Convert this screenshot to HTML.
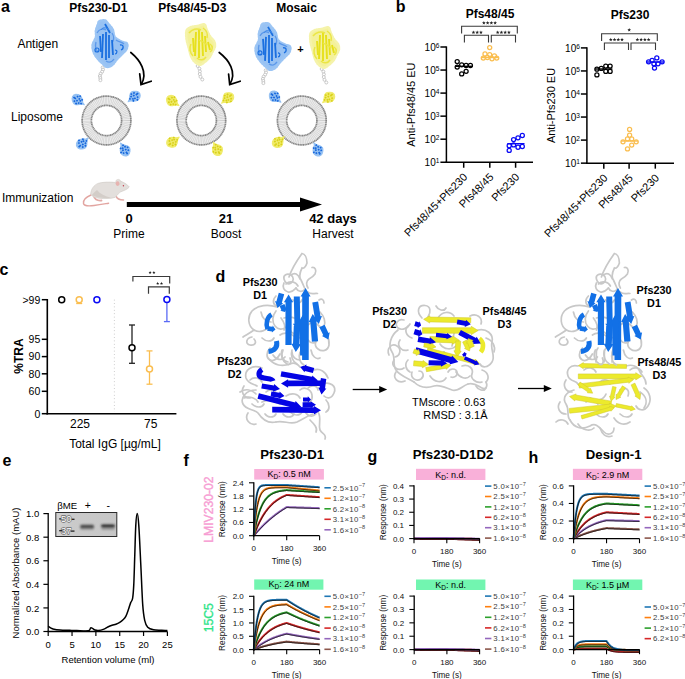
<!DOCTYPE html>
<html><head><meta charset="utf-8"><style>html,body{margin:0;padding:0;background:#fff;overflow:hidden;}svg{display:block;}text{font-family:"Liberation Sans",sans-serif;}</style></head>
<body><svg width="685" height="679" viewBox="0 0 685 679">
<rect width="685" height="679" fill="#fff"/>
<text x="1.0" y="11.8" font-size="16" text-anchor="start" font-weight="bold" fill="#000" >a</text>
<text x="98.3" y="12.3" font-size="12" text-anchor="middle" font-weight="bold" fill="#000" >Pfs230-D1</text>
<text x="192.3" y="12.3" font-size="12" text-anchor="middle" font-weight="bold" fill="#000" >Pfs48/45-D3</text>
<text x="296.5" y="12.3" font-size="12" text-anchor="middle" font-weight="bold" fill="#000" >Mosaic</text>
<text x="17.4" y="47.5" font-size="12" text-anchor="start" fill="#000" >Antigen</text>
<text x="11" y="120.6" font-size="12" text-anchor="start" fill="#000" >Liposome</text>
<text x="2" y="201.5" font-size="12" text-anchor="start" fill="#000" >Immunization</text>
<g transform="translate(106.5,120.5)">
<circle r="19.8" fill="none" stroke="#ececec" stroke-width="9.2"/>
<circle r="19.8" fill="none" stroke="#c8c8c8" stroke-width="9.2" stroke-dasharray="0.45 1.15"/>
<circle r="24.4" fill="none" stroke="#858585" stroke-width="1.7" stroke-dasharray="1.3 0.4"/>
<circle r="15.1" fill="none" stroke="#858585" stroke-width="1.7" stroke-dasharray="1.3 0.4"/>
</g>
<g transform="translate(201.3,120.5)">
<circle r="19.8" fill="none" stroke="#ececec" stroke-width="9.2"/>
<circle r="19.8" fill="none" stroke="#c8c8c8" stroke-width="9.2" stroke-dasharray="0.45 1.15"/>
<circle r="24.4" fill="none" stroke="#858585" stroke-width="1.7" stroke-dasharray="1.3 0.4"/>
<circle r="15.1" fill="none" stroke="#858585" stroke-width="1.7" stroke-dasharray="1.3 0.4"/>
</g>
<g transform="translate(301.8,120.5)">
<circle r="19.8" fill="none" stroke="#ececec" stroke-width="9.2"/>
<circle r="19.8" fill="none" stroke="#c8c8c8" stroke-width="9.2" stroke-dasharray="0.45 1.15"/>
<circle r="24.4" fill="none" stroke="#858585" stroke-width="1.7" stroke-dasharray="1.3 0.4"/>
<circle r="15.1" fill="none" stroke="#858585" stroke-width="1.7" stroke-dasharray="1.3 0.4"/>
</g>
<line x1="126.80" y1="204.50" x2="302.00" y2="204.50" stroke="#000" stroke-width="5" />
<polygon points="300,197.5 322,204.5 300,211.5" fill="#000"/>
<text x="129" y="223.3" font-size="13" text-anchor="middle" font-weight="bold" fill="#000" >0</text>
<text x="129" y="238.3" font-size="12" text-anchor="middle" fill="#000" >Prime</text>
<text x="226" y="223.3" font-size="13" text-anchor="middle" font-weight="bold" fill="#000" >21</text>
<text x="226" y="238.3" font-size="12" text-anchor="middle" fill="#000" >Boost</text>
<text x="333" y="223.3" font-size="13" text-anchor="middle" font-weight="bold" fill="#000" >42 days</text>
<text x="333" y="238.3" font-size="12" text-anchor="middle" fill="#000" >Harvest</text>
<g transform="translate(0,0)"><circle cx="102.7" cy="67.5" r="1.5" fill="#fff" stroke="#bcbcbc" stroke-width="0.8"/><circle cx="103.0" cy="69.6" r="1.5" fill="#fff" stroke="#bcbcbc" stroke-width="0.8"/><circle cx="102.1" cy="71.7" r="1.5" fill="#fff" stroke="#bcbcbc" stroke-width="0.8"/><circle cx="100.6" cy="73.8" r="1.5" fill="#fff" stroke="#bcbcbc" stroke-width="0.8"/><circle cx="99.9" cy="76.0" r="1.5" fill="#fff" stroke="#bcbcbc" stroke-width="0.8"/><circle cx="100.3" cy="78.1" r="1.5" fill="#fff" stroke="#bcbcbc" stroke-width="0.8"/><circle cx="100.4" cy="80.2" r="1.5" fill="#fff" stroke="#bcbcbc" stroke-width="0.8"/><path d="M99.4,21.1 C100.5,20.6 103.4,20.1 104.9,20.5 C106.4,20.9 106.9,22.3 108.2,23.8 C109.5,25.3 111.5,27.2 112.6,29.4 C113.7,31.6 113.3,35.1 114.8,37.1 C116.3,39.1 119.4,40.4 121.4,41.5 C123.4,42.6 126.2,42.4 127.0,43.7 C127.8,45.0 127.2,47.6 126.4,49.2 C125.7,50.9 124.1,51.9 122.5,53.6 C120.9,55.3 118.7,57.4 117.0,59.2 C115.3,61.1 114.2,63.4 112.6,64.7 C110.9,66.0 108.8,67.1 107.1,66.9 C105.4,66.7 104.2,64.9 102.7,63.6 C101.2,62.3 99.7,61.1 98.2,59.2 C96.7,57.4 94.7,54.9 93.8,52.5 C92.9,50.1 92.3,47.4 92.7,44.8 C93.1,42.2 95.5,39.5 96.0,37.1 C96.5,34.7 95.6,32.7 96.0,30.5 C96.4,28.3 97.6,25.4 98.2,23.8 C98.8,22.2 98.3,21.7 99.4,21.1Z" fill="#98c2f3" stroke="#9cc5f4" stroke-width="2.6" stroke-dasharray="1.6 1.3" stroke-linecap="round"/><path d="M97,33 C99,29 103,28 106,30" fill="none" stroke="#5b98ea" stroke-width="1.3"/><path d="M112,33 C114,36 114,40 112,43" fill="none" stroke="#5b98ea" stroke-width="1.3"/><path d="M96,42 C95,46 96,50 98,52" fill="none" stroke="#5b98ea" stroke-width="1.3"/><path d="M106,61 C109,63 112,62 114,59" fill="none" stroke="#5b98ea" stroke-width="1.3"/><path d="M116,40 C119,42 122,42 124,44" fill="none" stroke="#5b98ea" stroke-width="1.3"/><line x1="103" y1="34" x2="102" y2="58" stroke="#1a6fe0" stroke-width="1.8"/><line x1="106" y1="32" x2="106" y2="60" stroke="#1a6fe0" stroke-width="1.8"/><line x1="109" y1="35" x2="109" y2="58" stroke="#1a6fe0" stroke-width="1.8"/><line x1="100" y1="36" x2="101" y2="52" stroke="#1a6fe0" stroke-width="1.8"/><line x1="112" y1="40" x2="113" y2="55" stroke="#1a6fe0" stroke-width="1.8"/><line x1="105" y1="24" x2="110" y2="33" stroke="#1a6fe0" stroke-width="1.8"/><circle cx="97" cy="50" r="2" fill="none" stroke="#1a6fe0" stroke-width="1.2"/><path d="M120,45 C124,44 124,49 121,50" fill="none" stroke="#1a6fe0" stroke-width="1.3"/><path d="M115,50 C118,50 117,54 115,54" fill="none" stroke="#1a6fe0" stroke-width="1.2"/><path d="M101,30 C103,26 108,28 110,31" fill="none" stroke="#3a85e8" stroke-width="1"/></g><g transform="translate(0,0)"><circle cx="197.7" cy="66.0" r="1.5" fill="#fff" stroke="#bcbcbc" stroke-width="0.8"/><circle cx="199.4" cy="68.7" r="1.5" fill="#fff" stroke="#bcbcbc" stroke-width="0.8"/><circle cx="199.9" cy="71.4" r="1.5" fill="#fff" stroke="#bcbcbc" stroke-width="0.8"/><circle cx="199.8" cy="74.1" r="1.5" fill="#fff" stroke="#bcbcbc" stroke-width="0.8"/><circle cx="200.5" cy="76.8" r="1.5" fill="#fff" stroke="#bcbcbc" stroke-width="0.8"/><circle cx="202.3" cy="79.5" r="1.5" fill="#fff" stroke="#bcbcbc" stroke-width="0.8"/><path d="M186.6,30.5 C187.3,28.5 189.2,27.9 191.0,27.1 C192.8,26.4 195.5,26.4 197.7,26.0 C199.9,25.6 202.8,23.8 204.3,24.4 C205.8,25.0 205.6,27.5 206.5,29.4 C207.4,31.3 208.5,34.0 209.8,36.0 C211.1,38.0 213.4,39.7 214.2,41.5 C215.0,43.3 215.2,45.2 214.8,47.0 C214.4,48.8 212.8,50.8 212.0,52.5 C211.2,54.2 210.9,55.5 209.8,57.0 C208.7,58.5 207.1,60.1 205.4,61.4 C203.8,62.7 201.7,64.7 199.9,64.7 C198.1,64.7 195.9,62.9 194.4,61.4 C192.9,59.9 191.9,58.1 191.0,55.9 C190.1,53.7 189.5,50.9 188.8,48.1 C188.1,45.3 187.0,42.2 186.6,39.3 C186.2,36.4 185.9,32.5 186.6,30.5Z" fill="#f4f19a" stroke="#f5f3aa" stroke-width="2.6" stroke-dasharray="1.6 1.3" stroke-linecap="round"/><line x1="196" y1="32" x2="195" y2="56" stroke="#e6e01c" stroke-width="1.9"/><line x1="199" y1="30" x2="199" y2="58" stroke="#e6e01c" stroke-width="1.9"/><line x1="202" y1="32" x2="203" y2="56" stroke="#e6e01c" stroke-width="1.9"/><line x1="205" y1="36" x2="206" y2="52" stroke="#e6e01c" stroke-width="1.9"/><line x1="193" y1="38" x2="194" y2="52" stroke="#e6e01c" stroke-width="1.9"/><line x1="208" y1="42" x2="210" y2="50" stroke="#e6e01c" stroke-width="1.9"/><path d="M189,33 C192,29 197,28 201,30" fill="none" stroke="#ebe645" stroke-width="1.5"/><path d="M203,28 C206,30 208,34 207,38" fill="none" stroke="#ebe645" stroke-width="1.5"/><path d="M210,44 C213,46 213,50 210,52" fill="none" stroke="#ebe645" stroke-width="1.5"/><path d="M191,44 C189,48 190,53 193,56" fill="none" stroke="#ebe645" stroke-width="1.5"/><path d="M197,58 C200,61 204,60 206,57" fill="none" stroke="#ebe645" stroke-width="1.5"/><path d="M199,40 C202,42 205,42 207,45" fill="none" stroke="#ebe645" stroke-width="1.5"/></g><g transform="translate(163,2.9)"><circle cx="102.7" cy="67.5" r="1.5" fill="#fff" stroke="#bcbcbc" stroke-width="0.8"/><circle cx="103.0" cy="69.6" r="1.5" fill="#fff" stroke="#bcbcbc" stroke-width="0.8"/><circle cx="102.1" cy="71.7" r="1.5" fill="#fff" stroke="#bcbcbc" stroke-width="0.8"/><circle cx="100.6" cy="73.8" r="1.5" fill="#fff" stroke="#bcbcbc" stroke-width="0.8"/><circle cx="99.9" cy="76.0" r="1.5" fill="#fff" stroke="#bcbcbc" stroke-width="0.8"/><circle cx="100.3" cy="78.1" r="1.5" fill="#fff" stroke="#bcbcbc" stroke-width="0.8"/><circle cx="100.4" cy="80.2" r="1.5" fill="#fff" stroke="#bcbcbc" stroke-width="0.8"/><path d="M99.4,21.1 C100.5,20.6 103.4,20.1 104.9,20.5 C106.4,20.9 106.9,22.3 108.2,23.8 C109.5,25.3 111.5,27.2 112.6,29.4 C113.7,31.6 113.3,35.1 114.8,37.1 C116.3,39.1 119.4,40.4 121.4,41.5 C123.4,42.6 126.2,42.4 127.0,43.7 C127.8,45.0 127.2,47.6 126.4,49.2 C125.7,50.9 124.1,51.9 122.5,53.6 C120.9,55.3 118.7,57.4 117.0,59.2 C115.3,61.1 114.2,63.4 112.6,64.7 C110.9,66.0 108.8,67.1 107.1,66.9 C105.4,66.7 104.2,64.9 102.7,63.6 C101.2,62.3 99.7,61.1 98.2,59.2 C96.7,57.4 94.7,54.9 93.8,52.5 C92.9,50.1 92.3,47.4 92.7,44.8 C93.1,42.2 95.5,39.5 96.0,37.1 C96.5,34.7 95.6,32.7 96.0,30.5 C96.4,28.3 97.6,25.4 98.2,23.8 C98.8,22.2 98.3,21.7 99.4,21.1Z" fill="#98c2f3" stroke="#9cc5f4" stroke-width="2.6" stroke-dasharray="1.6 1.3" stroke-linecap="round"/><path d="M97,33 C99,29 103,28 106,30" fill="none" stroke="#5b98ea" stroke-width="1.3"/><path d="M112,33 C114,36 114,40 112,43" fill="none" stroke="#5b98ea" stroke-width="1.3"/><path d="M96,42 C95,46 96,50 98,52" fill="none" stroke="#5b98ea" stroke-width="1.3"/><path d="M106,61 C109,63 112,62 114,59" fill="none" stroke="#5b98ea" stroke-width="1.3"/><path d="M116,40 C119,42 122,42 124,44" fill="none" stroke="#5b98ea" stroke-width="1.3"/><line x1="103" y1="34" x2="102" y2="58" stroke="#1a6fe0" stroke-width="1.8"/><line x1="106" y1="32" x2="106" y2="60" stroke="#1a6fe0" stroke-width="1.8"/><line x1="109" y1="35" x2="109" y2="58" stroke="#1a6fe0" stroke-width="1.8"/><line x1="100" y1="36" x2="101" y2="52" stroke="#1a6fe0" stroke-width="1.8"/><line x1="112" y1="40" x2="113" y2="55" stroke="#1a6fe0" stroke-width="1.8"/><line x1="105" y1="24" x2="110" y2="33" stroke="#1a6fe0" stroke-width="1.8"/><circle cx="97" cy="50" r="2" fill="none" stroke="#1a6fe0" stroke-width="1.2"/><path d="M120,45 C124,44 124,49 121,50" fill="none" stroke="#1a6fe0" stroke-width="1.3"/><path d="M115,50 C118,50 117,54 115,54" fill="none" stroke="#1a6fe0" stroke-width="1.2"/><path d="M101,30 C103,26 108,28 110,31" fill="none" stroke="#3a85e8" stroke-width="1"/></g><g transform="translate(124,3)"><circle cx="197.7" cy="66.0" r="1.5" fill="#fff" stroke="#bcbcbc" stroke-width="0.8"/><circle cx="199.4" cy="68.7" r="1.5" fill="#fff" stroke="#bcbcbc" stroke-width="0.8"/><circle cx="199.9" cy="71.4" r="1.5" fill="#fff" stroke="#bcbcbc" stroke-width="0.8"/><circle cx="199.8" cy="74.1" r="1.5" fill="#fff" stroke="#bcbcbc" stroke-width="0.8"/><circle cx="200.5" cy="76.8" r="1.5" fill="#fff" stroke="#bcbcbc" stroke-width="0.8"/><circle cx="202.3" cy="79.5" r="1.5" fill="#fff" stroke="#bcbcbc" stroke-width="0.8"/><path d="M186.6,30.5 C187.3,28.5 189.2,27.9 191.0,27.1 C192.8,26.4 195.5,26.4 197.7,26.0 C199.9,25.6 202.8,23.8 204.3,24.4 C205.8,25.0 205.6,27.5 206.5,29.4 C207.4,31.3 208.5,34.0 209.8,36.0 C211.1,38.0 213.4,39.7 214.2,41.5 C215.0,43.3 215.2,45.2 214.8,47.0 C214.4,48.8 212.8,50.8 212.0,52.5 C211.2,54.2 210.9,55.5 209.8,57.0 C208.7,58.5 207.1,60.1 205.4,61.4 C203.8,62.7 201.7,64.7 199.9,64.7 C198.1,64.7 195.9,62.9 194.4,61.4 C192.9,59.9 191.9,58.1 191.0,55.9 C190.1,53.7 189.5,50.9 188.8,48.1 C188.1,45.3 187.0,42.2 186.6,39.3 C186.2,36.4 185.9,32.5 186.6,30.5Z" fill="#f4f19a" stroke="#f5f3aa" stroke-width="2.6" stroke-dasharray="1.6 1.3" stroke-linecap="round"/><line x1="196" y1="32" x2="195" y2="56" stroke="#e6e01c" stroke-width="1.9"/><line x1="199" y1="30" x2="199" y2="58" stroke="#e6e01c" stroke-width="1.9"/><line x1="202" y1="32" x2="203" y2="56" stroke="#e6e01c" stroke-width="1.9"/><line x1="205" y1="36" x2="206" y2="52" stroke="#e6e01c" stroke-width="1.9"/><line x1="193" y1="38" x2="194" y2="52" stroke="#e6e01c" stroke-width="1.9"/><line x1="208" y1="42" x2="210" y2="50" stroke="#e6e01c" stroke-width="1.9"/><path d="M189,33 C192,29 197,28 201,30" fill="none" stroke="#ebe645" stroke-width="1.5"/><path d="M203,28 C206,30 208,34 207,38" fill="none" stroke="#ebe645" stroke-width="1.5"/><path d="M210,44 C213,46 213,50 210,52" fill="none" stroke="#ebe645" stroke-width="1.5"/><path d="M191,44 C189,48 190,53 193,56" fill="none" stroke="#ebe645" stroke-width="1.5"/><path d="M197,58 C200,61 204,60 206,57" fill="none" stroke="#ebe645" stroke-width="1.5"/><path d="M199,40 C202,42 205,42 207,45" fill="none" stroke="#ebe645" stroke-width="1.5"/></g><text x="300.4" y="53" font-size="11" font-weight="bold" text-anchor="middle">+</text><path d="M130.8,52.5 C140,60 148,72 141.5,84" fill="none" stroke="#000" stroke-width="1.7" stroke-linecap="round"/><polyline points="139.7,73.8 141,84.6 151.2,81.2" fill="none" stroke="#000" stroke-width="1.7" stroke-linecap="round" stroke-linejoin="miter"/><path d="M219.2,52.5 C229,60 237,72 230,84" fill="none" stroke="#000" stroke-width="1.7" stroke-linecap="round"/><polyline points="228.6,74.1 229.7,84.6 240.2,81.2" fill="none" stroke="#000" stroke-width="1.7" stroke-linecap="round" stroke-linejoin="miter"/><g transform="translate(79,101) rotate(-54.7) scale(0.92)"><path d="M0,7 L1.2,4 C3,3 5.5,0 5.5,-3 C5.5,-6 3,-8.5 0.5,-8.5 C-2,-8.5 -4.5,-6 -5.5,-3 C-6,-0.5 -3,2.5 -1.2,4 Z" fill="#94c0f2" stroke="#94c0f2" stroke-width="1.2" stroke-dasharray="1.2 0.8" stroke-linecap="round"/><rect x="-3.9" y="-4.9" width="1.8" height="1.8" fill="#1566dc"/><rect x="-0.9" y="-5.9" width="1.8" height="1.8" fill="#1566dc"/><rect x="2.1" y="-4.9" width="1.8" height="1.8" fill="#1566dc"/><rect x="-4.9" y="-1.9" width="1.8" height="1.8" fill="#1566dc"/><rect x="-1.9" y="-2.9" width="1.8" height="1.8" fill="#1566dc"/><rect x="1.1" y="-1.9" width="1.8" height="1.8" fill="#1566dc"/><rect x="4.1" y="-2.9" width="1.8" height="1.8" fill="#1566dc"/><rect x="-2.9" y="0.09999999999999998" width="1.8" height="1.8" fill="#1566dc"/><rect x="0.09999999999999998" y="0.09999999999999998" width="1.8" height="1.8" fill="#1566dc"/><rect x="2.1" y="1.1" width="1.8" height="1.8" fill="#1566dc"/><rect x="-0.9" y="-7.4" width="1.8" height="1.8" fill="#1566dc"/><rect x="-1.9" y="2.6" width="1.8" height="1.8" fill="#1566dc"/></g><g transform="translate(133,97.5) rotate(49.3) scale(0.92)"><path d="M0,7 L1.2,4 C3,3 5.5,0 5.5,-3 C5.5,-6 3,-8.5 0.5,-8.5 C-2,-8.5 -4.5,-6 -5.5,-3 C-6,-0.5 -3,2.5 -1.2,4 Z" fill="#94c0f2" stroke="#94c0f2" stroke-width="1.2" stroke-dasharray="1.2 0.8" stroke-linecap="round"/><rect x="-3.9" y="-4.9" width="1.8" height="1.8" fill="#1566dc"/><rect x="-0.9" y="-5.9" width="1.8" height="1.8" fill="#1566dc"/><rect x="2.1" y="-4.9" width="1.8" height="1.8" fill="#1566dc"/><rect x="-4.9" y="-1.9" width="1.8" height="1.8" fill="#1566dc"/><rect x="-1.9" y="-2.9" width="1.8" height="1.8" fill="#1566dc"/><rect x="1.1" y="-1.9" width="1.8" height="1.8" fill="#1566dc"/><rect x="4.1" y="-2.9" width="1.8" height="1.8" fill="#1566dc"/><rect x="-2.9" y="0.09999999999999998" width="1.8" height="1.8" fill="#1566dc"/><rect x="0.09999999999999998" y="0.09999999999999998" width="1.8" height="1.8" fill="#1566dc"/><rect x="2.1" y="1.1" width="1.8" height="1.8" fill="#1566dc"/><rect x="-0.9" y="-7.4" width="1.8" height="1.8" fill="#1566dc"/><rect x="-1.9" y="2.6" width="1.8" height="1.8" fill="#1566dc"/></g><g transform="translate(83.5,142.5) rotate(-134.0) scale(0.92)"><path d="M0,7 L1.2,4 C3,3 5.5,0 5.5,-3 C5.5,-6 3,-8.5 0.5,-8.5 C-2,-8.5 -4.5,-6 -5.5,-3 C-6,-0.5 -3,2.5 -1.2,4 Z" fill="#94c0f2" stroke="#94c0f2" stroke-width="1.2" stroke-dasharray="1.2 0.8" stroke-linecap="round"/><rect x="-3.9" y="-4.9" width="1.8" height="1.8" fill="#1566dc"/><rect x="-0.9" y="-5.9" width="1.8" height="1.8" fill="#1566dc"/><rect x="2.1" y="-4.9" width="1.8" height="1.8" fill="#1566dc"/><rect x="-4.9" y="-1.9" width="1.8" height="1.8" fill="#1566dc"/><rect x="-1.9" y="-2.9" width="1.8" height="1.8" fill="#1566dc"/><rect x="1.1" y="-1.9" width="1.8" height="1.8" fill="#1566dc"/><rect x="4.1" y="-2.9" width="1.8" height="1.8" fill="#1566dc"/><rect x="-2.9" y="0.09999999999999998" width="1.8" height="1.8" fill="#1566dc"/><rect x="0.09999999999999998" y="0.09999999999999998" width="1.8" height="1.8" fill="#1566dc"/><rect x="2.1" y="1.1" width="1.8" height="1.8" fill="#1566dc"/><rect x="-0.9" y="-7.4" width="1.8" height="1.8" fill="#1566dc"/><rect x="-1.9" y="2.6" width="1.8" height="1.8" fill="#1566dc"/></g><g transform="translate(124,148.5) rotate(147.9) scale(0.92)"><path d="M0,7 L1.2,4 C3,3 5.5,0 5.5,-3 C5.5,-6 3,-8.5 0.5,-8.5 C-2,-8.5 -4.5,-6 -5.5,-3 C-6,-0.5 -3,2.5 -1.2,4 Z" fill="#94c0f2" stroke="#94c0f2" stroke-width="1.2" stroke-dasharray="1.2 0.8" stroke-linecap="round"/><rect x="-3.9" y="-4.9" width="1.8" height="1.8" fill="#1566dc"/><rect x="-0.9" y="-5.9" width="1.8" height="1.8" fill="#1566dc"/><rect x="2.1" y="-4.9" width="1.8" height="1.8" fill="#1566dc"/><rect x="-4.9" y="-1.9" width="1.8" height="1.8" fill="#1566dc"/><rect x="-1.9" y="-2.9" width="1.8" height="1.8" fill="#1566dc"/><rect x="1.1" y="-1.9" width="1.8" height="1.8" fill="#1566dc"/><rect x="4.1" y="-2.9" width="1.8" height="1.8" fill="#1566dc"/><rect x="-2.9" y="0.09999999999999998" width="1.8" height="1.8" fill="#1566dc"/><rect x="0.09999999999999998" y="0.09999999999999998" width="1.8" height="1.8" fill="#1566dc"/><rect x="2.1" y="1.1" width="1.8" height="1.8" fill="#1566dc"/><rect x="-0.9" y="-7.4" width="1.8" height="1.8" fill="#1566dc"/><rect x="-1.9" y="2.6" width="1.8" height="1.8" fill="#1566dc"/></g><g transform="translate(173.5,102) rotate(-56.5) scale(0.92)"><path d="M0,7 L1.2,4 C3,3 5.5,0 5.5,-3 C5.5,-6 3,-8.5 0.5,-8.5 C-2,-8.5 -4.5,-6 -5.5,-3 C-6,-0.5 -3,2.5 -1.2,4 Z" fill="#f0eb6a" stroke="#f0eb6a" stroke-width="1.2" stroke-dasharray="1.2 0.8" stroke-linecap="round"/><rect x="-3.9" y="-4.9" width="1.8" height="1.8" fill="#d8d018"/><rect x="-0.9" y="-5.9" width="1.8" height="1.8" fill="#d8d018"/><rect x="2.1" y="-4.9" width="1.8" height="1.8" fill="#d8d018"/><rect x="-4.9" y="-1.9" width="1.8" height="1.8" fill="#d8d018"/><rect x="-1.9" y="-2.9" width="1.8" height="1.8" fill="#d8d018"/><rect x="1.1" y="-1.9" width="1.8" height="1.8" fill="#d8d018"/><rect x="4.1" y="-2.9" width="1.8" height="1.8" fill="#d8d018"/><rect x="-2.9" y="0.09999999999999998" width="1.8" height="1.8" fill="#d8d018"/><rect x="0.09999999999999998" y="0.09999999999999998" width="1.8" height="1.8" fill="#d8d018"/><rect x="2.1" y="1.1" width="1.8" height="1.8" fill="#d8d018"/><rect x="-0.9" y="-7.4" width="1.8" height="1.8" fill="#d8d018"/><rect x="-1.9" y="2.6" width="1.8" height="1.8" fill="#d8d018"/></g><g transform="translate(226.5,99) rotate(49.7) scale(0.92)"><path d="M0,7 L1.2,4 C3,3 5.5,0 5.5,-3 C5.5,-6 3,-8.5 0.5,-8.5 C-2,-8.5 -4.5,-6 -5.5,-3 C-6,-0.5 -3,2.5 -1.2,4 Z" fill="#f0eb6a" stroke="#f0eb6a" stroke-width="1.2" stroke-dasharray="1.2 0.8" stroke-linecap="round"/><rect x="-3.9" y="-4.9" width="1.8" height="1.8" fill="#d8d018"/><rect x="-0.9" y="-5.9" width="1.8" height="1.8" fill="#d8d018"/><rect x="2.1" y="-4.9" width="1.8" height="1.8" fill="#d8d018"/><rect x="-4.9" y="-1.9" width="1.8" height="1.8" fill="#d8d018"/><rect x="-1.9" y="-2.9" width="1.8" height="1.8" fill="#d8d018"/><rect x="1.1" y="-1.9" width="1.8" height="1.8" fill="#d8d018"/><rect x="4.1" y="-2.9" width="1.8" height="1.8" fill="#d8d018"/><rect x="-2.9" y="0.09999999999999998" width="1.8" height="1.8" fill="#d8d018"/><rect x="0.09999999999999998" y="0.09999999999999998" width="1.8" height="1.8" fill="#d8d018"/><rect x="2.1" y="1.1" width="1.8" height="1.8" fill="#d8d018"/><rect x="-0.9" y="-7.4" width="1.8" height="1.8" fill="#d8d018"/><rect x="-1.9" y="2.6" width="1.8" height="1.8" fill="#d8d018"/></g><g transform="translate(174,141) rotate(-127.0) scale(0.92)"><path d="M0,7 L1.2,4 C3,3 5.5,0 5.5,-3 C5.5,-6 3,-8.5 0.5,-8.5 C-2,-8.5 -4.5,-6 -5.5,-3 C-6,-0.5 -3,2.5 -1.2,4 Z" fill="#f0eb6a" stroke="#f0eb6a" stroke-width="1.2" stroke-dasharray="1.2 0.8" stroke-linecap="round"/><rect x="-3.9" y="-4.9" width="1.8" height="1.8" fill="#d8d018"/><rect x="-0.9" y="-5.9" width="1.8" height="1.8" fill="#d8d018"/><rect x="2.1" y="-4.9" width="1.8" height="1.8" fill="#d8d018"/><rect x="-4.9" y="-1.9" width="1.8" height="1.8" fill="#d8d018"/><rect x="-1.9" y="-2.9" width="1.8" height="1.8" fill="#d8d018"/><rect x="1.1" y="-1.9" width="1.8" height="1.8" fill="#d8d018"/><rect x="4.1" y="-2.9" width="1.8" height="1.8" fill="#d8d018"/><rect x="-2.9" y="0.09999999999999998" width="1.8" height="1.8" fill="#d8d018"/><rect x="0.09999999999999998" y="0.09999999999999998" width="1.8" height="1.8" fill="#d8d018"/><rect x="2.1" y="1.1" width="1.8" height="1.8" fill="#d8d018"/><rect x="-0.9" y="-7.4" width="1.8" height="1.8" fill="#d8d018"/><rect x="-1.9" y="2.6" width="1.8" height="1.8" fill="#d8d018"/></g><g transform="translate(216.5,148) rotate(151.2) scale(0.92)"><path d="M0,7 L1.2,4 C3,3 5.5,0 5.5,-3 C5.5,-6 3,-8.5 0.5,-8.5 C-2,-8.5 -4.5,-6 -5.5,-3 C-6,-0.5 -3,2.5 -1.2,4 Z" fill="#f0eb6a" stroke="#f0eb6a" stroke-width="1.2" stroke-dasharray="1.2 0.8" stroke-linecap="round"/><rect x="-3.9" y="-4.9" width="1.8" height="1.8" fill="#d8d018"/><rect x="-0.9" y="-5.9" width="1.8" height="1.8" fill="#d8d018"/><rect x="2.1" y="-4.9" width="1.8" height="1.8" fill="#d8d018"/><rect x="-4.9" y="-1.9" width="1.8" height="1.8" fill="#d8d018"/><rect x="-1.9" y="-2.9" width="1.8" height="1.8" fill="#d8d018"/><rect x="1.1" y="-1.9" width="1.8" height="1.8" fill="#d8d018"/><rect x="4.1" y="-2.9" width="1.8" height="1.8" fill="#d8d018"/><rect x="-2.9" y="0.09999999999999998" width="1.8" height="1.8" fill="#d8d018"/><rect x="0.09999999999999998" y="0.09999999999999998" width="1.8" height="1.8" fill="#d8d018"/><rect x="2.1" y="1.1" width="1.8" height="1.8" fill="#d8d018"/><rect x="-0.9" y="-7.4" width="1.8" height="1.8" fill="#d8d018"/><rect x="-1.9" y="2.6" width="1.8" height="1.8" fill="#d8d018"/></g><g transform="translate(276,98) rotate(-49.0) scale(0.92)"><path d="M0,7 L1.2,4 C3,3 5.5,0 5.5,-3 C5.5,-6 3,-8.5 0.5,-8.5 C-2,-8.5 -4.5,-6 -5.5,-3 C-6,-0.5 -3,2.5 -1.2,4 Z" fill="#94c0f2" stroke="#94c0f2" stroke-width="1.2" stroke-dasharray="1.2 0.8" stroke-linecap="round"/><rect x="-3.9" y="-4.9" width="1.8" height="1.8" fill="#1566dc"/><rect x="-0.9" y="-5.9" width="1.8" height="1.8" fill="#1566dc"/><rect x="2.1" y="-4.9" width="1.8" height="1.8" fill="#1566dc"/><rect x="-4.9" y="-1.9" width="1.8" height="1.8" fill="#1566dc"/><rect x="-1.9" y="-2.9" width="1.8" height="1.8" fill="#1566dc"/><rect x="1.1" y="-1.9" width="1.8" height="1.8" fill="#1566dc"/><rect x="4.1" y="-2.9" width="1.8" height="1.8" fill="#1566dc"/><rect x="-2.9" y="0.09999999999999998" width="1.8" height="1.8" fill="#1566dc"/><rect x="0.09999999999999998" y="0.09999999999999998" width="1.8" height="1.8" fill="#1566dc"/><rect x="2.1" y="1.1" width="1.8" height="1.8" fill="#1566dc"/><rect x="-0.9" y="-7.4" width="1.8" height="1.8" fill="#1566dc"/><rect x="-1.9" y="2.6" width="1.8" height="1.8" fill="#1566dc"/></g><g transform="translate(327.5,98.5) rotate(49.6) scale(0.92)"><path d="M0,7 L1.2,4 C3,3 5.5,0 5.5,-3 C5.5,-6 3,-8.5 0.5,-8.5 C-2,-8.5 -4.5,-6 -5.5,-3 C-6,-0.5 -3,2.5 -1.2,4 Z" fill="#f0eb6a" stroke="#f0eb6a" stroke-width="1.2" stroke-dasharray="1.2 0.8" stroke-linecap="round"/><rect x="-3.9" y="-4.9" width="1.8" height="1.8" fill="#d8d018"/><rect x="-0.9" y="-5.9" width="1.8" height="1.8" fill="#d8d018"/><rect x="2.1" y="-4.9" width="1.8" height="1.8" fill="#d8d018"/><rect x="-4.9" y="-1.9" width="1.8" height="1.8" fill="#d8d018"/><rect x="-1.9" y="-2.9" width="1.8" height="1.8" fill="#d8d018"/><rect x="1.1" y="-1.9" width="1.8" height="1.8" fill="#d8d018"/><rect x="4.1" y="-2.9" width="1.8" height="1.8" fill="#d8d018"/><rect x="-2.9" y="0.09999999999999998" width="1.8" height="1.8" fill="#d8d018"/><rect x="0.09999999999999998" y="0.09999999999999998" width="1.8" height="1.8" fill="#d8d018"/><rect x="2.1" y="1.1" width="1.8" height="1.8" fill="#d8d018"/><rect x="-0.9" y="-7.4" width="1.8" height="1.8" fill="#d8d018"/><rect x="-1.9" y="2.6" width="1.8" height="1.8" fill="#d8d018"/></g><g transform="translate(279.5,141) rotate(-132.7) scale(0.92)"><path d="M0,7 L1.2,4 C3,3 5.5,0 5.5,-3 C5.5,-6 3,-8.5 0.5,-8.5 C-2,-8.5 -4.5,-6 -5.5,-3 C-6,-0.5 -3,2.5 -1.2,4 Z" fill="#f0eb6a" stroke="#f0eb6a" stroke-width="1.2" stroke-dasharray="1.2 0.8" stroke-linecap="round"/><rect x="-3.9" y="-4.9" width="1.8" height="1.8" fill="#d8d018"/><rect x="-0.9" y="-5.9" width="1.8" height="1.8" fill="#d8d018"/><rect x="2.1" y="-4.9" width="1.8" height="1.8" fill="#d8d018"/><rect x="-4.9" y="-1.9" width="1.8" height="1.8" fill="#d8d018"/><rect x="-1.9" y="-2.9" width="1.8" height="1.8" fill="#d8d018"/><rect x="1.1" y="-1.9" width="1.8" height="1.8" fill="#d8d018"/><rect x="4.1" y="-2.9" width="1.8" height="1.8" fill="#d8d018"/><rect x="-2.9" y="0.09999999999999998" width="1.8" height="1.8" fill="#d8d018"/><rect x="0.09999999999999998" y="0.09999999999999998" width="1.8" height="1.8" fill="#d8d018"/><rect x="2.1" y="1.1" width="1.8" height="1.8" fill="#d8d018"/><rect x="-0.9" y="-7.4" width="1.8" height="1.8" fill="#d8d018"/><rect x="-1.9" y="2.6" width="1.8" height="1.8" fill="#d8d018"/></g><g transform="translate(317,148.5) rotate(151.6) scale(0.92)"><path d="M0,7 L1.2,4 C3,3 5.5,0 5.5,-3 C5.5,-6 3,-8.5 0.5,-8.5 C-2,-8.5 -4.5,-6 -5.5,-3 C-6,-0.5 -3,2.5 -1.2,4 Z" fill="#94c0f2" stroke="#94c0f2" stroke-width="1.2" stroke-dasharray="1.2 0.8" stroke-linecap="round"/><rect x="-3.9" y="-4.9" width="1.8" height="1.8" fill="#1566dc"/><rect x="-0.9" y="-5.9" width="1.8" height="1.8" fill="#1566dc"/><rect x="2.1" y="-4.9" width="1.8" height="1.8" fill="#1566dc"/><rect x="-4.9" y="-1.9" width="1.8" height="1.8" fill="#1566dc"/><rect x="-1.9" y="-2.9" width="1.8" height="1.8" fill="#1566dc"/><rect x="1.1" y="-1.9" width="1.8" height="1.8" fill="#1566dc"/><rect x="4.1" y="-2.9" width="1.8" height="1.8" fill="#1566dc"/><rect x="-2.9" y="0.09999999999999998" width="1.8" height="1.8" fill="#1566dc"/><rect x="0.09999999999999998" y="0.09999999999999998" width="1.8" height="1.8" fill="#1566dc"/><rect x="2.1" y="1.1" width="1.8" height="1.8" fill="#1566dc"/><rect x="-0.9" y="-7.4" width="1.8" height="1.8" fill="#1566dc"/><rect x="-1.9" y="2.6" width="1.8" height="1.8" fill="#1566dc"/></g><g><path d="M91,195 C86,197 83,200 83.5,203.5 C84,206 88,206.2 94,205.5 C100,204.8 104,204 108.6,203.2" fill="none" stroke="#e2a4a0" stroke-width="1.4" stroke-linecap="round"/><path d="M94,196 C94,199 97,201 101.5,200.5" fill="none" stroke="#e2aaa6" stroke-width="1.8" stroke-linecap="round"/><path d="M116,196 C117,199 119,200 123.5,200" fill="none" stroke="#e2aaa6" stroke-width="1.6" stroke-linecap="round"/><path d="M90.7,194 C91,189 94,185 98.1,183.4 C102,182 110,181.8 115.7,182.5 C117,181 119,180.6 121,181.3 C124,182.5 127.5,184.5 129.3,187 C128,189 124,190.6 120,192.1 C118,194 117,196 115,197.4 C112,198.5 104,198.8 100.8,198.4 C96,198 92,197 90.7,194Z" fill="#e3dfdc" stroke="#cfc9c4" stroke-width="0.6"/><path d="M92,195 C95,197.5 104,198.5 111,197.8 C105,196 100,194 97,190 C95,192 93,193 92,195Z" fill="#d3cdc8"/><ellipse cx="118.2" cy="182.2" rx="2.6" ry="2.9" fill="#e3dfdc" stroke="#d3cdc8" stroke-width="0.4"/><ellipse cx="117.6" cy="183.6" rx="1.9" ry="2.3" fill="#e7b3b0"/><circle cx="123.4" cy="185.8" r="0.7" fill="#c23a4a"/></g>
<text x="395.8" y="11.8" font-size="16" text-anchor="start" font-weight="bold" fill="#000" >b</text>
<text x="490" y="17.5" font-size="12" text-anchor="middle" font-weight="bold" fill="#000" >Pfs48/45</text>
<line x1="446.40" y1="46.40" x2="446.40" y2="163.00" stroke="#000" stroke-width="1.5" />
<line x1="445.65" y1="162.25" x2="533.00" y2="162.25" stroke="#000" stroke-width="1.5" />
<line x1="440.40" y1="47.00" x2="446.40" y2="47.00" stroke="#000" stroke-width="1.5" />
<text x="439.4" y="51.0" font-size="10" text-anchor="end">10<tspan font-size="6.6" dy="-3.4">6</tspan></text>
<line x1="440.40" y1="70.05" x2="446.40" y2="70.05" stroke="#000" stroke-width="1.5" />
<text x="439.4" y="74.05" font-size="10" text-anchor="end">10<tspan font-size="6.6" dy="-3.4">5</tspan></text>
<line x1="440.40" y1="93.10" x2="446.40" y2="93.10" stroke="#000" stroke-width="1.5" />
<text x="439.4" y="97.1" font-size="10" text-anchor="end">10<tspan font-size="6.6" dy="-3.4">4</tspan></text>
<line x1="440.40" y1="116.15" x2="446.40" y2="116.15" stroke="#000" stroke-width="1.5" />
<text x="439.4" y="120.15" font-size="10" text-anchor="end">10<tspan font-size="6.6" dy="-3.4">3</tspan></text>
<line x1="440.40" y1="139.20" x2="446.40" y2="139.20" stroke="#000" stroke-width="1.5" />
<text x="439.4" y="143.2" font-size="10" text-anchor="end">10<tspan font-size="6.6" dy="-3.4">2</tspan></text>
<line x1="440.40" y1="162.25" x2="446.40" y2="162.25" stroke="#000" stroke-width="1.5" />
<text x="439.4" y="166.25" font-size="10" text-anchor="end">10<tspan font-size="6.6" dy="-3.4">1</tspan></text>
<line x1="463.70" y1="162.25" x2="463.70" y2="167.75" stroke="#000" stroke-width="1.5" />
<line x1="489.80" y1="162.25" x2="489.80" y2="167.75" stroke="#000" stroke-width="1.5" />
<line x1="515.60" y1="162.25" x2="515.60" y2="167.75" stroke="#000" stroke-width="1.5" />
<text transform="translate(414.5,104.625) rotate(-90)" font-size="11" text-anchor="middle">Anti-Pfs48/45 EU</text>
<text transform="translate(468.2,177.75) rotate(-45)" font-size="11" text-anchor="end">Pfs48/45+Pfs230</text>
<text transform="translate(494.3,177.75) rotate(-45)" font-size="11" text-anchor="end">Pfs48/45</text>
<text transform="translate(520.1,177.75) rotate(-45)" font-size="11" text-anchor="end">Pfs230</text>
<line x1="455.50" y1="66.30" x2="472.50" y2="66.30" stroke="#000" stroke-width="1.4" />
<circle cx="457.20" cy="61.60" r="2.05" fill="none" stroke="#000" stroke-width="1.25"/>
<circle cx="457.20" cy="67.10" r="2.05" fill="none" stroke="#000" stroke-width="1.25"/>
<circle cx="461.70" cy="64.80" r="2.05" fill="none" stroke="#000" stroke-width="1.25"/>
<circle cx="466.10" cy="65.50" r="2.05" fill="none" stroke="#000" stroke-width="1.25"/>
<circle cx="470.40" cy="65.50" r="2.05" fill="none" stroke="#000" stroke-width="1.25"/>
<circle cx="466.10" cy="71.30" r="2.05" fill="none" stroke="#000" stroke-width="1.25"/>
<circle cx="461.70" cy="73.90" r="2.05" fill="none" stroke="#000" stroke-width="1.25"/>
<line x1="482.00" y1="57.50" x2="498.00" y2="57.50" stroke="#fabe50" stroke-width="1.4" />
<circle cx="489.70" cy="47.60" r="2.05" fill="none" stroke="#fabe50" stroke-width="1.25"/>
<circle cx="485.00" cy="54.00" r="2.05" fill="none" stroke="#fabe50" stroke-width="1.25"/>
<circle cx="489.70" cy="54.60" r="2.05" fill="none" stroke="#fabe50" stroke-width="1.25"/>
<circle cx="494.40" cy="55.80" r="2.05" fill="none" stroke="#fabe50" stroke-width="1.25"/>
<circle cx="483.30" cy="58.10" r="2.05" fill="none" stroke="#fabe50" stroke-width="1.25"/>
<circle cx="487.40" cy="57.50" r="2.05" fill="none" stroke="#fabe50" stroke-width="1.25"/>
<circle cx="492.00" cy="58.70" r="2.05" fill="none" stroke="#fabe50" stroke-width="1.25"/>
<circle cx="496.70" cy="58.10" r="2.05" fill="none" stroke="#fabe50" stroke-width="1.25"/>
<line x1="507.30" y1="143.70" x2="524.50" y2="143.70" stroke="#0a0af5" stroke-width="1.4" />
<circle cx="522.30" cy="135.50" r="2.05" fill="none" stroke="#0a0af5" stroke-width="1.25"/>
<circle cx="518.00" cy="137.80" r="2.05" fill="none" stroke="#0a0af5" stroke-width="1.25"/>
<circle cx="513.60" cy="139.60" r="2.05" fill="none" stroke="#0a0af5" stroke-width="1.25"/>
<circle cx="509.20" cy="145.70" r="2.05" fill="none" stroke="#0a0af5" stroke-width="1.25"/>
<circle cx="513.60" cy="144.90" r="2.05" fill="none" stroke="#0a0af5" stroke-width="1.25"/>
<circle cx="518.00" cy="147.20" r="2.05" fill="none" stroke="#0a0af5" stroke-width="1.25"/>
<circle cx="522.30" cy="146.50" r="2.05" fill="none" stroke="#0a0af5" stroke-width="1.25"/>
<circle cx="509.20" cy="150.40" r="2.05" fill="none" stroke="#0a0af5" stroke-width="1.25"/>
<polyline points="461.60,33.40 461.60,26.20 517.30,26.20 517.30,33.40" fill="none" stroke="#3a3a3a" stroke-width="1.1" />
<polygon points="483.88,21.00 484.38,22.21 485.68,22.31 484.69,23.16 484.99,24.44 483.88,23.75 482.76,24.44 483.06,23.16 482.07,22.31 483.37,22.21" fill="#222"/>
<polygon points="487.62,21.00 488.13,22.21 489.43,22.31 488.44,23.16 488.74,24.44 487.62,23.75 486.51,24.44 486.81,23.16 485.82,22.31 487.12,22.21" fill="#222"/>
<polygon points="491.38,21.00 491.88,22.21 493.18,22.31 492.19,23.16 492.49,24.44 491.38,23.75 490.26,24.44 490.56,23.16 489.57,22.31 490.87,22.21" fill="#222"/>
<polygon points="495.12,21.00 495.63,22.21 496.93,22.31 495.94,23.16 496.24,24.44 495.12,23.75 494.01,24.44 494.31,23.16 493.32,22.31 494.62,22.21" fill="#222"/>
<polyline points="464.40,42.40 464.40,35.20 488.50,35.20 488.50,42.40" fill="none" stroke="#3a3a3a" stroke-width="1.1" />
<polygon points="473.45,30.50 473.95,31.71 475.26,31.81 474.26,32.66 474.57,33.94 473.45,33.25 472.33,33.94 472.64,32.66 471.64,31.81 472.95,31.71" fill="#222"/>
<polygon points="477.20,30.50 477.70,31.71 479.01,31.81 478.01,32.66 478.32,33.94 477.20,33.25 476.08,33.94 476.39,32.66 475.39,31.81 476.70,31.71" fill="#222"/>
<polygon points="480.95,30.50 481.45,31.71 482.76,31.81 481.76,32.66 482.07,33.94 480.95,33.25 479.83,33.94 480.14,32.66 479.14,31.81 480.45,31.71" fill="#222"/>
<polyline points="491.30,42.40 491.30,35.20 515.50,35.20 515.50,42.40" fill="none" stroke="#3a3a3a" stroke-width="1.1" />
<polygon points="497.68,30.50 498.18,31.71 499.48,31.81 498.49,32.66 498.79,33.94 497.68,33.25 496.56,33.94 496.86,32.66 495.87,31.81 497.17,31.71" fill="#222"/>
<polygon points="501.43,30.50 501.93,31.71 503.23,31.81 502.24,32.66 502.54,33.94 501.43,33.25 500.31,33.94 500.61,32.66 499.62,31.81 500.92,31.71" fill="#222"/>
<polygon points="505.18,30.50 505.68,31.71 506.98,31.81 505.99,32.66 506.29,33.94 505.18,33.25 504.06,33.94 504.36,32.66 503.37,31.81 504.67,31.71" fill="#222"/>
<polygon points="508.93,30.50 509.43,31.71 510.73,31.81 509.74,32.66 510.04,33.94 508.93,33.25 507.81,33.94 508.11,32.66 507.12,31.81 508.42,31.71" fill="#222"/>
<text x="630" y="19" font-size="12" text-anchor="middle" font-weight="bold" fill="#000" >Pfs230</text>
<line x1="586.90" y1="47.30" x2="586.90" y2="163.90" stroke="#000" stroke-width="1.5" />
<line x1="586.15" y1="163.15" x2="674.00" y2="163.15" stroke="#000" stroke-width="1.5" />
<line x1="580.90" y1="47.90" x2="586.90" y2="47.90" stroke="#000" stroke-width="1.5" />
<text x="579.9" y="51.9" font-size="10" text-anchor="end">10<tspan font-size="6.6" dy="-3.4">6</tspan></text>
<line x1="580.90" y1="70.95" x2="586.90" y2="70.95" stroke="#000" stroke-width="1.5" />
<text x="579.9" y="74.95" font-size="10" text-anchor="end">10<tspan font-size="6.6" dy="-3.4">5</tspan></text>
<line x1="580.90" y1="94.00" x2="586.90" y2="94.00" stroke="#000" stroke-width="1.5" />
<text x="579.9" y="98.0" font-size="10" text-anchor="end">10<tspan font-size="6.6" dy="-3.4">4</tspan></text>
<line x1="580.90" y1="117.05" x2="586.90" y2="117.05" stroke="#000" stroke-width="1.5" />
<text x="579.9" y="121.05000000000001" font-size="10" text-anchor="end">10<tspan font-size="6.6" dy="-3.4">3</tspan></text>
<line x1="580.90" y1="140.10" x2="586.90" y2="140.10" stroke="#000" stroke-width="1.5" />
<text x="579.9" y="144.1" font-size="10" text-anchor="end">10<tspan font-size="6.6" dy="-3.4">2</tspan></text>
<line x1="580.90" y1="163.15" x2="586.90" y2="163.15" stroke="#000" stroke-width="1.5" />
<text x="579.9" y="167.15" font-size="10" text-anchor="end">10<tspan font-size="6.6" dy="-3.4">1</tspan></text>
<line x1="603.80" y1="163.15" x2="603.80" y2="168.65" stroke="#000" stroke-width="1.5" />
<line x1="629.10" y1="163.15" x2="629.10" y2="168.65" stroke="#000" stroke-width="1.5" />
<line x1="655.30" y1="163.15" x2="655.30" y2="168.65" stroke="#000" stroke-width="1.5" />
<text transform="translate(554.5,105.525) rotate(-90)" font-size="11" text-anchor="middle">Anti-Pfs230 EU</text>
<text transform="translate(608.3,178.65) rotate(-45)" font-size="11" text-anchor="end">Pfs48/45+Pfs230</text>
<text transform="translate(633.6,178.65) rotate(-45)" font-size="11" text-anchor="end">Pfs48/45</text>
<text transform="translate(659.8,178.65) rotate(-45)" font-size="11" text-anchor="end">Pfs230</text>
<line x1="595.00" y1="69.00" x2="612.40" y2="69.00" stroke="#000" stroke-width="1.4" />
<circle cx="596.90" cy="69.20" r="2.05" fill="none" stroke="#000" stroke-width="1.25"/>
<circle cx="601.30" cy="68.40" r="2.05" fill="none" stroke="#000" stroke-width="1.25"/>
<circle cx="605.80" cy="66.10" r="2.05" fill="none" stroke="#000" stroke-width="1.25"/>
<circle cx="610.10" cy="66.10" r="2.05" fill="none" stroke="#000" stroke-width="1.25"/>
<circle cx="605.80" cy="71.40" r="2.05" fill="none" stroke="#000" stroke-width="1.25"/>
<circle cx="610.10" cy="71.40" r="2.05" fill="none" stroke="#000" stroke-width="1.25"/>
<circle cx="596.90" cy="74.90" r="2.05" fill="none" stroke="#000" stroke-width="1.25"/>
<line x1="621.00" y1="141.00" x2="638.00" y2="141.00" stroke="#fabe50" stroke-width="1.4" />
<circle cx="629.60" cy="129.40" r="2.05" fill="none" stroke="#fabe50" stroke-width="1.25"/>
<circle cx="629.60" cy="135.20" r="2.05" fill="none" stroke="#fabe50" stroke-width="1.25"/>
<circle cx="627.50" cy="138.90" r="2.05" fill="none" stroke="#fabe50" stroke-width="1.25"/>
<circle cx="631.70" cy="138.90" r="2.05" fill="none" stroke="#fabe50" stroke-width="1.25"/>
<circle cx="623.00" cy="141.80" r="2.05" fill="none" stroke="#fabe50" stroke-width="1.25"/>
<circle cx="636.20" cy="141.80" r="2.05" fill="none" stroke="#fabe50" stroke-width="1.25"/>
<circle cx="631.70" cy="145.10" r="2.05" fill="none" stroke="#fabe50" stroke-width="1.25"/>
<circle cx="627.50" cy="148.90" r="2.05" fill="none" stroke="#fabe50" stroke-width="1.25"/>
<line x1="647.00" y1="62.00" x2="664.00" y2="62.00" stroke="#0a0af5" stroke-width="1.4" />
<circle cx="648.60" cy="61.80" r="2.05" fill="none" stroke="#0a0af5" stroke-width="1.25"/>
<circle cx="652.10" cy="60.30" r="2.05" fill="none" stroke="#0a0af5" stroke-width="1.25"/>
<circle cx="656.80" cy="57.90" r="2.05" fill="none" stroke="#0a0af5" stroke-width="1.25"/>
<circle cx="662.10" cy="61.80" r="2.05" fill="none" stroke="#0a0af5" stroke-width="1.25"/>
<circle cx="653.90" cy="63.80" r="2.05" fill="none" stroke="#0a0af5" stroke-width="1.25"/>
<circle cx="658.00" cy="63.80" r="2.05" fill="none" stroke="#0a0af5" stroke-width="1.25"/>
<circle cx="654.50" cy="68.10" r="2.05" fill="none" stroke="#0a0af5" stroke-width="1.25"/>
<polyline points="601.60,41.00 601.60,33.80 657.30,33.80 657.30,41.00" fill="none" stroke="#3a3a3a" stroke-width="1.1" />
<polygon points="629.20,28.00 629.70,29.21 631.01,29.31 630.01,30.16 630.32,31.44 629.20,30.75 628.08,31.44 628.39,30.16 627.39,29.31 628.70,29.21" fill="#222"/>
<polyline points="604.40,50.10 604.40,43.00 628.50,43.00 628.50,50.10" fill="none" stroke="#3a3a3a" stroke-width="1.1" />
<polygon points="610.77,37.80 611.28,39.01 612.58,39.11 611.59,39.96 611.89,41.24 610.77,40.55 609.66,41.24 609.96,39.96 608.97,39.11 610.27,39.01" fill="#222"/>
<polygon points="614.52,37.80 615.03,39.01 616.33,39.11 615.34,39.96 615.64,41.24 614.52,40.55 613.41,41.24 613.71,39.96 612.72,39.11 614.02,39.01" fill="#222"/>
<polygon points="618.27,37.80 618.78,39.01 620.08,39.11 619.09,39.96 619.39,41.24 618.27,40.55 617.16,41.24 617.46,39.96 616.47,39.11 617.77,39.01" fill="#222"/>
<polygon points="622.02,37.80 622.53,39.01 623.83,39.11 622.84,39.96 623.14,41.24 622.02,40.55 620.91,41.24 621.21,39.96 620.22,39.11 621.52,39.01" fill="#222"/>
<polyline points="631.00,50.10 631.00,43.00 655.50,43.00 655.50,50.10" fill="none" stroke="#3a3a3a" stroke-width="1.1" />
<polygon points="637.38,37.80 637.88,39.01 639.18,39.11 638.19,39.96 638.49,41.24 637.38,40.55 636.26,41.24 636.56,39.96 635.57,39.11 636.87,39.01" fill="#222"/>
<polygon points="641.12,37.80 641.63,39.01 642.93,39.11 641.94,39.96 642.24,41.24 641.12,40.55 640.01,41.24 640.31,39.96 639.32,39.11 640.62,39.01" fill="#222"/>
<polygon points="644.88,37.80 645.38,39.01 646.68,39.11 645.69,39.96 645.99,41.24 644.88,40.55 643.76,41.24 644.06,39.96 643.07,39.11 644.37,39.01" fill="#222"/>
<polygon points="648.62,37.80 649.13,39.01 650.43,39.11 649.44,39.96 649.74,41.24 648.62,40.55 647.51,41.24 647.81,39.96 646.82,39.11 648.12,39.01" fill="#222"/>
<text x="-0.6" y="274.9" font-size="16" text-anchor="start" font-weight="bold" fill="#000" >c</text>
<line x1="47.30" y1="299.00" x2="47.30" y2="414.45" stroke="#000" stroke-width="1.6" />
<line x1="46.50" y1="413.70" x2="176.40" y2="413.70" stroke="#000" stroke-width="1.6" />
<line x1="41.80" y1="299.70" x2="47.30" y2="299.70" stroke="#000" stroke-width="1.5" />
<text x="40.3" y="303.5" font-size="10.5" text-anchor="end" fill="#000" >&gt;99</text>
<line x1="41.80" y1="339.30" x2="47.30" y2="339.30" stroke="#000" stroke-width="1.5" />
<text x="40.3" y="343.1" font-size="10.5" text-anchor="end" fill="#000" >95</text>
<line x1="41.80" y1="356.60" x2="47.30" y2="356.60" stroke="#000" stroke-width="1.5" />
<text x="40.3" y="360.40000000000003" font-size="10.5" text-anchor="end" fill="#000" >90</text>
<line x1="41.80" y1="373.80" x2="47.30" y2="373.80" stroke="#000" stroke-width="1.5" />
<text x="40.3" y="377.6" font-size="10.5" text-anchor="end" fill="#000" >80</text>
<line x1="41.80" y1="391.30" x2="47.30" y2="391.30" stroke="#000" stroke-width="1.5" />
<text x="40.3" y="395.1" font-size="10.5" text-anchor="end" fill="#000" >60</text>
<line x1="41.80" y1="413.70" x2="47.30" y2="413.70" stroke="#000" stroke-width="1.5" />
<text x="40.3" y="417.5" font-size="10.5" text-anchor="end" fill="#000" >0</text>
<line x1="114.40" y1="299.70" x2="114.40" y2="412.00" stroke="#b4b4b4" stroke-width="0.8" stroke-dasharray="0.8 2.6"/>
<text transform="translate(22.5,356) rotate(-90)" font-size="12" font-weight="bold" text-anchor="middle">%TRA</text>
<text x="80" y="427.6" font-size="12" text-anchor="middle" fill="#000" >225</text>
<text x="150.8" y="427.6" font-size="12" text-anchor="middle" fill="#000" >75</text>
<text x="69.2" y="448.4" font-size="12" text-anchor="start" fill="#000" >Total IgG [µg/mL]</text>
<circle cx="61.7" cy="299.7" r="3" fill="#fff" stroke="#000" stroke-width="1.5"/>
<line x1="79.20" y1="299.70" x2="79.20" y2="303.50" stroke="#fabe50" stroke-width="1.3" />
<line x1="76.20" y1="303.50" x2="82.20" y2="303.50" stroke="#fabe50" stroke-width="1.3" />
<circle cx="79.2" cy="299.7" r="3" fill="#fff" stroke="#fabe50" stroke-width="1.5"/>
<circle cx="96.9" cy="299.7" r="3" fill="#fff" stroke="#0a0af5" stroke-width="1.5"/>
<line x1="132.00" y1="347.70" x2="132.00" y2="325.00" stroke="#222" stroke-width="1.3" />
<line x1="129.00" y1="325.00" x2="135.00" y2="325.00" stroke="#222" stroke-width="1.3" />
<line x1="132.00" y1="347.70" x2="132.00" y2="363.30" stroke="#222" stroke-width="1.3" />
<line x1="129.00" y1="363.30" x2="135.00" y2="363.30" stroke="#222" stroke-width="1.3" />
<circle cx="132" cy="347.7" r="3" fill="#fff" stroke="#000" stroke-width="1.5"/>
<line x1="149.50" y1="369.10" x2="149.50" y2="350.90" stroke="#fabe50" stroke-width="1.3" />
<line x1="146.50" y1="350.90" x2="152.50" y2="350.90" stroke="#fabe50" stroke-width="1.3" />
<line x1="149.50" y1="369.10" x2="149.50" y2="384.20" stroke="#fabe50" stroke-width="1.3" />
<line x1="146.50" y1="384.20" x2="152.50" y2="384.20" stroke="#fabe50" stroke-width="1.3" />
<circle cx="149.5" cy="369.1" r="3" fill="#fff" stroke="#fabe50" stroke-width="1.5"/>
<line x1="166.90" y1="299.60" x2="166.90" y2="321.60" stroke="#5a6af5" stroke-width="1.3" />
<line x1="163.90" y1="321.60" x2="169.90" y2="321.60" stroke="#5a6af5" stroke-width="1.3" />
<circle cx="166.9" cy="299.6" r="3" fill="#fff" stroke="#0a0af5" stroke-width="1.5"/>
<polyline points="132.90,281.40 132.90,276.50 169.70,276.50 169.70,283.50" fill="none" stroke="#3a3a3a" stroke-width="1.2" />
<polygon points="150.10,270.95 150.54,272.00 151.67,272.09 150.81,272.83 151.07,273.93 150.10,273.34 149.13,273.93 149.39,272.83 148.53,272.09 149.66,272.00" fill="#222"/>
<polygon points="153.90,270.95 154.34,272.00 155.47,272.09 154.61,272.83 154.87,273.93 153.90,273.34 152.93,273.93 153.19,272.83 152.33,272.09 153.46,272.00" fill="#222"/>
<polyline points="148.50,293.70 148.50,286.80 169.30,286.80 169.30,293.70" fill="none" stroke="#3a3a3a" stroke-width="1.2" />
<polygon points="157.70,281.85 158.14,282.90 159.27,282.99 158.41,283.73 158.67,284.83 157.70,284.24 156.73,284.83 156.99,283.73 156.13,282.99 157.26,282.90" fill="#222"/>
<polygon points="161.50,281.85 161.94,282.90 163.07,282.99 162.21,283.73 162.47,284.83 161.50,284.24 160.53,284.83 160.79,283.73 159.93,282.99 161.06,282.90" fill="#222"/>
<text x="215.5" y="282.1" font-size="16" text-anchor="start" font-weight="bold" fill="#000" >d</text>
<text x="260.2" y="286.4" font-size="10.8" text-anchor="middle" font-weight="bold" fill="#000" >Pfs230</text>
<text x="260.2" y="299.4" font-size="10.8" text-anchor="middle" font-weight="bold" fill="#000" >D1</text>
<text x="234.7" y="364.6" font-size="10.8" text-anchor="middle" font-weight="bold" fill="#000" >Pfs230</text>
<text x="234.7" y="377.6" font-size="10.8" text-anchor="middle" font-weight="bold" fill="#000" >D2</text>
<text x="389.6" y="315" font-size="10.8" text-anchor="middle" font-weight="bold" fill="#000" >Pfs230</text>
<text x="389.6" y="328" font-size="10.8" text-anchor="middle" font-weight="bold" fill="#000" >D2</text>
<text x="504.5" y="315" font-size="10.8" text-anchor="middle" font-weight="bold" fill="#000" >Pfs48/45</text>
<text x="504.5" y="328" font-size="10.8" text-anchor="middle" font-weight="bold" fill="#000" >D3</text>
<text x="654" y="294.2" font-size="10.8" text-anchor="middle" font-weight="bold" fill="#000" >Pfs230</text>
<text x="654" y="307.2" font-size="10.8" text-anchor="middle" font-weight="bold" fill="#000" >D1</text>
<text x="659.3" y="366" font-size="10.8" text-anchor="middle" font-weight="bold" fill="#000" >Pfs48/45</text>
<text x="659.3" y="379" font-size="10.8" text-anchor="middle" font-weight="bold" fill="#000" >D3</text>
<text x="412" y="405.5" font-size="11" text-anchor="start" fill="#000" >TMscore : 0.63</text>
<text x="487.5" y="418.7" font-size="11" text-anchor="end" fill="#000" >RMSD : 3.1Å</text>
<line x1="352.70" y1="389.50" x2="381.20" y2="389.50" stroke="#000" stroke-width="1.3" />
<polygon points="379.2,386.0 387.2,389.5 379.2,393.0" fill="#000"/>
<line x1="518.00" y1="388.50" x2="545.80" y2="388.50" stroke="#000" stroke-width="1.3" />
<polygon points="543.8,385.0 551.8,388.5 543.8,392.0" fill="#000"/>
<g><path d="M262,368 C252,364 244,370 246,378 C248,384 254,384 257,386" fill="none" stroke="#c8c8c8" stroke-width="1.7" stroke-linecap="round"/><path d="M256,390 C246,390 240,398 243,404 C246,410 254,409 258,413 C262,419 268,424 276,422" fill="none" stroke="#c8c8c8" stroke-width="1.7" stroke-linecap="round"/><path d="M276,422 C284,420 290,425 297,422 C303,419 307,416 313,414" fill="none" stroke="#c8c8c8" stroke-width="1.7" stroke-linecap="round"/><path d="M318,412 C322,418 318,424 320,430 C322,434 327,434 325,439" fill="none" stroke="#c8c8c8" stroke-width="1.7" stroke-linecap="round"/><path d="M322,384 C330,381 337,386 334,393 C331,400 326,398 324,396" fill="none" stroke="#c8c8c8" stroke-width="1.7" stroke-linecap="round"/><path d="M314,370 C320,368 326,372 328,378" fill="none" stroke="#c8c8c8" stroke-width="1.7" stroke-linecap="round"/><path d="M270,360 C274,365 282,367 290,364 C294,362 298,364 300,367" fill="none" stroke="#c8c8c8" stroke-width="1.7" stroke-linecap="round"/><path d="M282,350 C280,356 283,361 288,362" fill="none" stroke="#c8c8c8" stroke-width="1.7" stroke-linecap="round"/><path d="M292,352 C292,357 296,360 300,360" fill="none" stroke="#c8c8c8" stroke-width="1.7" stroke-linecap="round"/><path d="M240,392 C246,388 252,390 256,394" fill="none" stroke="#c8c8c8" stroke-width="1.7" stroke-linecap="round"/><path d="M300,390 C304,386 311,389 312,395 C313,401 309,404 305,402" fill="none" stroke="#c8c8c8" stroke-width="1.7" stroke-linecap="round"/><path d="M248,413 C244,419 250,426 256,424" fill="none" stroke="#c8c8c8" stroke-width="1.7" stroke-linecap="round"/><path d="M262,402 C270,398 276,402 280,404" fill="none" stroke="#c8c8c8" stroke-width="1.7" stroke-linecap="round"/><path d="M286,396 C292,392 298,394 300,398" fill="none" stroke="#c8c8c8" stroke-width="1.7" stroke-linecap="round"/><path d="M305,410 C306,416 312,418 316,414" fill="none" stroke="#c8c8c8" stroke-width="1.7" stroke-linecap="round"/><path d="M244,398 C250,396 256,398 258,402" fill="none" stroke="#c8c8c8" stroke-width="1.7" stroke-linecap="round"/><path d="M265,414 C268,418 274,418 276,414" fill="none" stroke="#c8c8c8" stroke-width="1.7" stroke-linecap="round"/><path d="M283,414 C286,418 292,418 294,414" fill="none" stroke="#c8c8c8" stroke-width="1.7" stroke-linecap="round"/><path d="M250,380 C254,376 260,378 262,382" fill="none" stroke="#c8c8c8" stroke-width="1.7" stroke-linecap="round"/><path d="M244,386 C240,392 244,398 250,398" fill="none" stroke="#c8c8c8" stroke-width="1.7" stroke-linecap="round"/><path d="M266,392 C270,388 276,390 276,394" fill="none" stroke="#c8c8c8" stroke-width="1.7" stroke-linecap="round"/><path d="M296,378 C300,374 306,376 306,380" fill="none" stroke="#c8c8c8" stroke-width="1.7" stroke-linecap="round"/><path d="M308,388 C312,384 318,386 318,390" fill="none" stroke="#c8c8c8" stroke-width="1.7" stroke-linecap="round"/><path d="M252,404 C256,408 262,408 264,404" fill="none" stroke="#c8c8c8" stroke-width="1.7" stroke-linecap="round"/><path d="M290,412 C294,416 300,416 302,412" fill="none" stroke="#c8c8c8" stroke-width="1.7" stroke-linecap="round"/><path d="M310,420 C314,424 318,428 316,432" fill="none" stroke="#c8c8c8" stroke-width="1.7" stroke-linecap="round"/><path d="M326,400 C330,404 330,410 326,412" fill="none" stroke="#c8c8c8" stroke-width="1.7" stroke-linecap="round"/><polygon points="314.3,367.9 306.2,365.8 306.6,364.5 300.2,367.0 304.5,372.3 304.9,371.0 312.9,373.1" fill="#0404e4"/><polygon points="280.5,376.4 311.2,381.9 310.9,383.2 318.0,380.5 312.3,375.5 312.1,376.8 281.5,371.2" fill="#0404e4"/><polygon points="320.9,378.1 319.6,387.7 318.3,387.6 321.5,394.5 326.4,388.6 325.0,388.5 326.3,378.9" fill="#0404e4"/><polygon points="321.0,380.5 288.1,380.6 288.1,379.2 281.0,383.5 288.1,387.7 288.1,386.3 321.0,386.1" fill="#0404e4"/><polygon points="261.3,388.6 273.2,390.5 273.0,391.8 280.0,389.0 274.2,384.1 274.0,385.4 262.1,383.4" fill="#0404e4"/><polygon points="257.5,398.7 293.8,408.0 293.5,409.4 301.4,407.0 295.6,401.1 295.2,402.5 258.9,393.3" fill="#0404e4"/><polygon points="272.2,412.4 313.9,412.9 313.9,414.4 321.0,410.2 314.0,405.9 314.0,407.3 272.2,406.8" fill="#0404e4"/><polygon points="270.6,396.5 278.7,397.7 278.6,398.9 284.5,396.0 279.6,391.5 279.5,392.7 271.4,391.5" fill="#0404e4"/><polygon points="303.0,401.6 307.8,401.6 307.8,402.7 311.0,399.5 307.8,396.3 307.8,397.4 303.0,397.4" fill="#0404e4"/><polygon points="302.6,407.1 310.6,407.1 310.6,408.2 316.0,404.7 310.6,401.2 310.6,402.3 302.6,402.3" fill="#0404e4"/><path d="M262,369.5 C258,372 258,376 262,377.5 C266,379 272,378 273,381" fill="none" stroke="#0404e4" stroke-width="5.2"/><path d="M289,277 C292,268 298,259 302,253.5 C305,254 307,258 307,263 C306,266 304,269 302,268 C300,272 299,277 301,280 C303,284 304,287 305,289" fill="none" stroke="#c8c8c8" stroke-width="1.7" stroke-linecap="round"/><path d="M284,279 C283,275 287,273 291,275 C294,277 294,281 291,283 C288,285 285,283 284,279" fill="none" stroke="#c8c8c8" stroke-width="1.7" stroke-linecap="round"/><path d="M291,275 C295,272 298,274 300,279" fill="none" stroke="#c8c8c8" stroke-width="1.7" stroke-linecap="round"/><path d="M312,267.5 C315,267 317,270 315,274 C313,277 311,278 309,279 C306,281 306,285 308,288" fill="none" stroke="#c8c8c8" stroke-width="1.7" stroke-linecap="round"/><path d="M284,283 C282,287 284,291 288,292 C292,293 294,290 296,288" fill="none" stroke="#c8c8c8" stroke-width="1.7" stroke-linecap="round"/><path d="M296,288 C298,292 302,292 304,290" fill="none" stroke="#c8c8c8" stroke-width="1.7" stroke-linecap="round"/><path d="M308,292 C311,295 314,293 317.5,293.5" fill="none" stroke="#c8c8c8" stroke-width="1.7" stroke-linecap="round"/><path d="M277,307 C268,304 258,305 252,311 C247,317 248,326 254,330 C259,333 264,331 268,328" fill="none" stroke="#c8c8c8" stroke-width="1.7" stroke-linecap="round"/><path d="M254,330 C250,333 246,335 243,337" fill="none" stroke="#c8c8c8" stroke-width="1.7" stroke-linecap="round"/><path d="M252,337 C246,338 245,344 250,345 C255,346 257,342 254,339" fill="none" stroke="#c8c8c8" stroke-width="1.7" stroke-linecap="round"/><path d="M317,324 C324,330 330,338 329,345 C328,351 322,352 318,349 C315,347 315,344 316,341" fill="none" stroke="#c8c8c8" stroke-width="1.7" stroke-linecap="round"/><path d="M276,311 C272,316 272,322 275,326 C278,330 283,330 286,327" fill="none" stroke="#c8c8c8" stroke-width="1.7" stroke-linecap="round"/><path d="M280,335 C284,332 290,333 294,336 C298,339 302,338 306,335" fill="none" stroke="#c8c8c8" stroke-width="1.7" stroke-linecap="round"/><path d="M284,318 C290,316 296,318 300,321" fill="none" stroke="#c8c8c8" stroke-width="1.7" stroke-linecap="round"/><path d="M283,350 C280,356 283,362 287,364 C290,366 292,362 290,358" fill="none" stroke="#c8c8c8" stroke-width="1.7" stroke-linecap="round"/><path d="M292,350 C290,356 293,362 297,364" fill="none" stroke="#c8c8c8" stroke-width="1.7" stroke-linecap="round"/><path d="M300,352 C298,358 300,363 304,365" fill="none" stroke="#c8c8c8" stroke-width="1.7" stroke-linecap="round"/><path d="M311,350 C312,356 316,360 320,358" fill="none" stroke="#c8c8c8" stroke-width="1.7" stroke-linecap="round"/><path d="M270,348 C266,352 266,358 270,360 C274,362 278,358 280,354" fill="none" stroke="#c8c8c8" stroke-width="1.7" stroke-linecap="round"/><path d="M319,300 C322,298 324,300 324,303" fill="none" stroke="#c8c8c8" stroke-width="1.7" stroke-linecap="round"/><path d="M261,312 C262,318 266,322 271,322" fill="none" stroke="#c8c8c8" stroke-width="1.7" stroke-linecap="round"/><path d="M286,284 C290,280 296,282 298,286" fill="none" stroke="#c8c8c8" stroke-width="1.7" stroke-linecap="round"/><path d="M276,296 C272,300 273,305 277,306" fill="none" stroke="#c8c8c8" stroke-width="1.7" stroke-linecap="round"/><path d="M293,300 C296,304 300,304 302,300" fill="none" stroke="#c8c8c8" stroke-width="1.7" stroke-linecap="round"/><path d="M300,322 C304,326 309,326 311,322" fill="none" stroke="#c8c8c8" stroke-width="1.7" stroke-linecap="round"/><path d="M290,330 C292,334 296,335 298,332" fill="none" stroke="#c8c8c8" stroke-width="1.7" stroke-linecap="round"/><path d="M308,340 C311,344 315,344 317,340" fill="none" stroke="#c8c8c8" stroke-width="1.7" stroke-linecap="round"/><path d="M262,338 C266,342 272,342 274,338" fill="none" stroke="#c8c8c8" stroke-width="1.7" stroke-linecap="round"/><path d="M320,312 C324,316 326,322 324,326" fill="none" stroke="#c8c8c8" stroke-width="1.7" stroke-linecap="round"/><path d="M281,318 C284,322 286,326 284,330" fill="none" stroke="#c8c8c8" stroke-width="1.7" stroke-linecap="round"/><path d="M273,355 C276,360 282,361 285,357" fill="none" stroke="#c8c8c8" stroke-width="1.7" stroke-linecap="round"/><polygon points="278.8,292.7 276.4,301.4 275.0,301.1 277.5,308.0 283.2,303.3 281.8,303.0 284.2,294.3" fill="#1270e6"/><polygon points="291.6,345.0 291.7,302.2 293.2,302.2 288.6,294.5 283.9,302.2 285.5,302.2 285.4,345.0" fill="#1270e6"/><polygon points="293.8,296.6 294.4,323.7 292.9,323.7 297.5,331.0 301.8,323.5 300.3,323.5 299.8,296.4" fill="#1270e6"/><polygon points="293.8,325.9 293.0,343.8 291.3,343.7 295.8,352.0 301.0,344.2 299.4,344.1 300.2,326.1" fill="#1270e6"/><polygon points="308.7,360.0 308.9,296.4 310.6,296.4 305.6,288.0 300.6,296.4 302.2,296.4 302.1,360.0" fill="#1270e6"/><polygon points="306.5,355.5 306.0,323.0 307.6,323.0 302.7,315.0 298.0,323.1 299.6,323.1 300.1,355.5" fill="#1270e6"/><polygon points="312.3,302.5 314.7,317.2 313.2,317.4 318.8,324.0 322.0,316.0 320.5,316.2 318.1,301.5" fill="#1270e6"/><polygon points="318.1,341.2 316.4,321.4 318.0,321.3 312.7,314.0 308.7,322.1 310.3,322.0 311.9,341.8" fill="#1270e6"/><polygon points="319.4,327.2 323.3,335.3 322.0,335.9 328.4,339.5 329.7,332.3 328.4,332.9 324.6,324.8" fill="#1270e6"/><polygon points="267.2,330.8 272.0,331.4 271.9,332.6 275.5,329.5 272.7,325.6 272.6,326.8 267.8,326.2" fill="#1270e6"/><polygon points="279.6,306.0 281.4,310.2 280.2,310.7 285.0,312.0 287.4,307.7 286.2,308.2 284.4,304.0" fill="#1270e6"/><path d="M276.5,341 C278,347 274.5,351 268.5,351.5" fill="none" stroke="#1270e6" stroke-width="5"/><path d="M271.5,314.5 C267,317 265.5,324 267.5,329" fill="none" stroke="#1270e6" stroke-width="4.6"/></g><g><path d="M398,330 C390,336 388,346 392,352 C396,358 392,364 396,370 C400,376 408,378 414,382" fill="none" stroke="#c8c8c8" stroke-width="1.7" stroke-linecap="round"/><path d="M414,382 C420,388 428,388 434,386 C440,384 446,388 452,390 C458,392 462,386 468,384" fill="none" stroke="#c8c8c8" stroke-width="1.7" stroke-linecap="round"/><path d="M468,384 C474,382 478,386 482,388 C486,390 488,386 486,382" fill="none" stroke="#c8c8c8" stroke-width="1.7" stroke-linecap="round"/><path d="M478,330 C486,328 494,334 492,342 C490,350 496,356 492,362 C488,368 482,368 480,364" fill="none" stroke="#c8c8c8" stroke-width="1.7" stroke-linecap="round"/><path d="M422,318 C416,312 418,305 425,305.5 C431,306 431,312 428,317" fill="none" stroke="#c8c8c8" stroke-width="1.7" stroke-linecap="round"/><path d="M438,318 C442,311 450,311 454,316" fill="none" stroke="#c8c8c8" stroke-width="1.7" stroke-linecap="round"/><path d="M400,340 C396,346 402,352 408,350" fill="none" stroke="#c8c8c8" stroke-width="1.7" stroke-linecap="round"/><path d="M394,360 C390,366 398,372 404,368" fill="none" stroke="#c8c8c8" stroke-width="1.7" stroke-linecap="round"/><path d="M470,316 C476,313 483,317 481,324" fill="none" stroke="#c8c8c8" stroke-width="1.7" stroke-linecap="round"/><path d="M430,376 C434,382 442,384 446,378" fill="none" stroke="#c8c8c8" stroke-width="1.7" stroke-linecap="round"/><path d="M456,372 C460,378 466,380 470,376" fill="none" stroke="#c8c8c8" stroke-width="1.7" stroke-linecap="round"/><path d="M408,326 C404,330 406,336 412,338" fill="none" stroke="#c8c8c8" stroke-width="1.7" stroke-linecap="round"/><path d="M440,344 C444,350 452,350 456,346" fill="none" stroke="#c8c8c8" stroke-width="1.7" stroke-linecap="round"/><path d="M389,355 C386,348 392,343 397,346 C402,349 400,356 395,357" fill="none" stroke="#c8c8c8" stroke-width="1.7" stroke-linecap="round"/><path d="M404,320 C398,318 394,324 398,328 C402,331 408,328 410,324" fill="none" stroke="#c8c8c8" stroke-width="1.7" stroke-linecap="round"/><path d="M396,372 C392,378 398,384 405,381" fill="none" stroke="#c8c8c8" stroke-width="1.7" stroke-linecap="round"/><path d="M412,372 C410,378 416,382 421,379 C425,376 423,371 419,371" fill="none" stroke="#c8c8c8" stroke-width="1.7" stroke-linecap="round"/><path d="M448,372 C450,368 456,368 457,372 C458,376 454,378 451,377" fill="none" stroke="#c8c8c8" stroke-width="1.7" stroke-linecap="round"/><path d="M462,366 C468,364 474,368 472,374 C470,378 476,384 482,382" fill="none" stroke="#c8c8c8" stroke-width="1.7" stroke-linecap="round"/><path d="M482,370 C488,372 490,378 486,382" fill="none" stroke="#c8c8c8" stroke-width="1.7" stroke-linecap="round"/><path d="M486,338 C492,340 496,346 494,352" fill="none" stroke="#c8c8c8" stroke-width="1.7" stroke-linecap="round"/><path d="M444,352 C448,356 446,360 442,362" fill="none" stroke="#c8c8c8" stroke-width="1.7" stroke-linecap="round"/><path d="M432,352 C436,356 442,356 444,352" fill="none" stroke="#c8c8c8" stroke-width="1.7" stroke-linecap="round"/><path d="M452,346 C454,340 452,334 456,330" fill="none" stroke="#c8c8c8" stroke-width="1.7" stroke-linecap="round"/><path d="M408,360 C404,364 406,370 410,372" fill="none" stroke="#c8c8c8" stroke-width="1.7" stroke-linecap="round"/><path d="M476,386 C478,390 484,392 486,388" fill="none" stroke="#c8c8c8" stroke-width="1.7" stroke-linecap="round"/><path d="M436,306 C438,310 444,312 446,308" fill="none" stroke="#c8c8c8" stroke-width="1.7" stroke-linecap="round"/><path d="M479.4,338.5 C484,342 484,348 480.7,352.2" fill="none" stroke="#ecea2c" stroke-width="4.6"/><polygon points="470.9,317.8 429.8,317.0 429.8,315.7 423.6,319.3 429.7,323.1 429.7,321.9 470.7,322.8" fill="#ecea2c" stroke="#cfc62a" stroke-width="0.5"/><polygon points="422.4,333.3 471.2,333.3 471.2,334.7 478.2,330.5 471.2,326.3 471.2,327.7 422.4,327.7" fill="#ecea2c" stroke="#cfc62a" stroke-width="0.5"/><polygon points="429.7,342.0 452.5,342.9 452.4,344.3 459.6,340.4 452.8,335.9 452.7,337.3 429.9,336.4" fill="#ecea2c" stroke="#cfc62a" stroke-width="0.5"/><polygon points="456.7,324.2 464.9,325.7 464.7,326.9 470.8,324.3 466.0,319.7 465.8,320.9 457.5,319.4" fill="#0404e4"/><polygon points="414.2,326.0 417.9,327.1 417.5,328.3 421.1,325.5 419.7,321.2 419.3,322.4 415.6,321.2" fill="#0404e4"/><polygon points="413.5,334.3 418.4,335.8 418.0,337.1 422.4,334.2 420.3,329.3 420.0,330.6 415.1,329.1" fill="#0404e4"/><polygon points="417.5,341.9 428.9,343.8 428.7,345.1 436.0,342.3 430.1,337.2 429.8,338.5 418.5,336.5" fill="#0404e4"/><polygon points="435.8,336.9 446.6,338.2 446.4,339.2 452.1,336.7 447.2,332.9 447.1,334.0 436.2,332.7" fill="#0404e4"/><polygon points="458.3,334.7 473.5,342.7 472.9,343.9 480.7,343.5 476.7,336.8 476.0,338.0 460.9,329.9" fill="#0404e4"/><polygon points="455.8,340.8 455.1,350.8 453.9,350.7 457.1,357.1 461.2,351.2 460.0,351.1 460.8,341.2" fill="#ecea2c" stroke="#cfc62a" stroke-width="0.5"/><polygon points="462.6,342.0 465.5,348.0 464.5,348.5 469.5,351.0 470.6,345.5 469.6,346.0 466.6,340.0" fill="#ecea2c" stroke="#cfc62a" stroke-width="0.5"/><polygon points="474.3,346.2 472.0,341.0 473.2,340.5 468.3,338.5 466.4,343.4 467.5,342.9 469.7,348.2" fill="#ecea2c" stroke="#cfc62a" stroke-width="0.5"/><polygon points="426.8,351.6 474.0,364.0 473.8,365.0 479.4,363.3 475.3,359.1 475.0,360.1 427.8,347.8" fill="#ecea2c" stroke="#cfc62a" stroke-width="0.5"/><polygon points="414.7,353.3 449.9,363.0 449.5,364.6 458.3,362.1 452.0,355.5 451.6,357.0 416.3,347.3" fill="#0404e4"/><polygon points="412.9,353.1 416.6,354.5 416.2,355.6 419.9,353.4 418.6,349.3 418.2,350.4 414.5,348.9" fill="#ecea2c" stroke="#cfc62a" stroke-width="0.5"/><polygon points="413.5,365.8 422.4,366.5 422.3,367.8 428.6,364.6 423.0,360.4 422.9,361.6 413.9,360.8" fill="#ecea2c" stroke="#cfc62a" stroke-width="0.5"/><polygon points="426.5,371.7 446.0,368.2 446.2,369.3 450.9,365.2 445.1,363.0 445.3,364.0 425.7,367.5" fill="#ecea2c" stroke="#cfc62a" stroke-width="0.5"/><polygon points="428.5,365.2 441.0,365.6 440.9,366.8 447.2,363.3 441.2,359.4 441.1,360.6 428.7,360.2" fill="#0404e4"/><polygon points="462.0,354.7 463.5,356.2 462.8,356.9 465.8,355.9 466.8,352.9 466.1,353.6 464.6,352.1" fill="#0404e4"/><polygon points="463.9,359.4 474.6,364.4 474.2,365.2 479.4,364.6 476.5,360.3 476.1,361.1 465.3,356.2" fill="#0404e4"/><polygon points="423.7,347.0 430.9,348.2 430.7,349.2 436.0,347.0 431.7,343.2 431.5,344.2 424.3,343.0" fill="#ecea2c" stroke="#cfc62a" stroke-width="0.5"/></g><g><path d="M578,366 C570,364 566,370 568,376 C570,382 576,380 578,384" fill="none" stroke="#c8c8c8" stroke-width="1.7" stroke-linecap="round"/><path d="M574,390 C566,392 562,398 566,404 C570,410 566,416 570,420" fill="none" stroke="#c8c8c8" stroke-width="1.7" stroke-linecap="round"/><path d="M570,420 C574,428 582,430 590,426 C596,422 600,428 604,432 C608,436 614,434 614,428" fill="none" stroke="#c8c8c8" stroke-width="1.7" stroke-linecap="round"/><path d="M626,366 C632,364 638,366 640,372 C642,376 646,378 646,384" fill="none" stroke="#c8c8c8" stroke-width="1.7" stroke-linecap="round"/><path d="M644,388 C650,392 652,400 648,406 C644,412 638,410 636,406" fill="none" stroke="#c8c8c8" stroke-width="1.7" stroke-linecap="round"/><path d="M614,418 C618,424 624,426 630,422" fill="none" stroke="#c8c8c8" stroke-width="1.7" stroke-linecap="round"/><path d="M596,362 C598,356 594,352 598,348" fill="none" stroke="#c8c8c8" stroke-width="1.7" stroke-linecap="round"/><path d="M604,362 C606,356 602,352 606,348" fill="none" stroke="#c8c8c8" stroke-width="1.7" stroke-linecap="round"/><path d="M612,362 C614,356 610,352 614,348" fill="none" stroke="#c8c8c8" stroke-width="1.7" stroke-linecap="round"/><path d="M590,398 C596,402 604,400 606,394" fill="none" stroke="#c8c8c8" stroke-width="1.7" stroke-linecap="round"/><path d="M556,422 C560,418 566,420 568,424" fill="none" stroke="#c8c8c8" stroke-width="1.7" stroke-linecap="round"/><path d="M620,390 C626,386 630,390 628,396" fill="none" stroke="#c8c8c8" stroke-width="1.7" stroke-linecap="round"/><path d="M566,380 C562,386 566,392 572,392" fill="none" stroke="#c8c8c8" stroke-width="1.7" stroke-linecap="round"/><path d="M584,370 C588,366 594,368 596,372" fill="none" stroke="#c8c8c8" stroke-width="1.7" stroke-linecap="round"/><path d="M600,382 C604,378 610,380 610,384" fill="none" stroke="#c8c8c8" stroke-width="1.7" stroke-linecap="round"/><path d="M560,402 C556,408 560,414 566,414" fill="none" stroke="#c8c8c8" stroke-width="1.7" stroke-linecap="round"/><path d="M586,402 C590,398 596,400 598,404" fill="none" stroke="#c8c8c8" stroke-width="1.7" stroke-linecap="round"/><path d="M596,414 C600,418 606,418 608,414" fill="none" stroke="#c8c8c8" stroke-width="1.7" stroke-linecap="round"/><path d="M620,414 C624,418 630,418 632,414" fill="none" stroke="#c8c8c8" stroke-width="1.7" stroke-linecap="round"/><path d="M640,392 C646,396 648,402 644,408" fill="none" stroke="#c8c8c8" stroke-width="1.7" stroke-linecap="round"/><path d="M578,424 C582,430 590,432 594,428" fill="none" stroke="#c8c8c8" stroke-width="1.7" stroke-linecap="round"/><path d="M600,428 C602,434 606,438 612,436" fill="none" stroke="#c8c8c8" stroke-width="1.7" stroke-linecap="round"/><path d="M630,370 C634,366 640,368 642,372" fill="none" stroke="#c8c8c8" stroke-width="1.7" stroke-linecap="round"/><polygon points="626.5,364.4 583.4,363.6 583.4,362.6 578.3,365.6 583.3,368.7 583.4,367.7 626.5,368.4" fill="#ecea2c" stroke="#cfc62a" stroke-width="0.5"/><polygon points="578.3,378.7 635.7,378.7 635.7,379.9 641.7,376.3 635.7,372.7 635.7,373.9 578.3,373.9" fill="#ecea2c" stroke="#cfc62a" stroke-width="0.5"/><polygon points="579.3,388.1 628.7,382.2 628.8,383.3 633.7,379.5 628.0,377.0 628.2,378.0 578.7,383.9" fill="#ecea2c" stroke="#cfc62a" stroke-width="0.5"/><polygon points="577.9,385.0 587.9,392.0 587.4,392.8 592.7,393.2 590.5,388.3 590.0,389.0 580.1,382.0" fill="#ecea2c" stroke="#cfc62a" stroke-width="0.5"/><polygon points="612.6,386.4 610.4,396.3 609.5,396.1 611.2,401.2 614.9,397.3 614.0,397.1 616.2,387.2" fill="#ecea2c" stroke="#cfc62a" stroke-width="0.5"/><polygon points="622.4,385.8 616.9,394.7 616.1,394.2 616.0,399.6 620.8,397.2 620.0,396.7 625.6,387.8" fill="#ecea2c" stroke="#cfc62a" stroke-width="0.5"/><polygon points="631.1,384.9 635.9,395.6 634.9,396.0 640.0,399.6 640.7,393.4 639.8,393.9 634.9,383.1" fill="#ecea2c" stroke="#cfc62a" stroke-width="0.5"/><polygon points="611.6,401.2 575.9,395.0 576.1,393.9 569.5,396.4 574.8,401.0 575.1,399.8 610.8,406.0" fill="#ecea2c" stroke="#cfc62a" stroke-width="0.5"/><polygon points="569.7,413.2 610.2,409.0 610.4,410.2 616.0,406.0 609.6,403.0 609.7,404.2 569.3,408.4" fill="#ecea2c" stroke="#cfc62a" stroke-width="0.5"/><polygon points="582.0,419.0 610.7,410.5 611.0,411.3 614.4,407.6 609.5,406.3 609.7,407.2 581.0,415.6" fill="#ecea2c" stroke="#cfc62a" stroke-width="0.5"/><polygon points="615.6,406.9 630.7,410.0 630.5,410.9 635.3,409.2 631.6,405.8 631.4,406.6 616.4,403.5" fill="#ecea2c" stroke="#cfc62a" stroke-width="0.5"/><g transform="translate(312.4,0)"><path d="M289,277 C292,268 298,259 302,253.5 C305,254 307,258 307,263 C306,266 304,269 302,268 C300,272 299,277 301,280 C303,284 304,287 305,289" fill="none" stroke="#c8c8c8" stroke-width="1.7" stroke-linecap="round"/><path d="M284,279 C283,275 287,273 291,275 C294,277 294,281 291,283 C288,285 285,283 284,279" fill="none" stroke="#c8c8c8" stroke-width="1.7" stroke-linecap="round"/><path d="M291,275 C295,272 298,274 300,279" fill="none" stroke="#c8c8c8" stroke-width="1.7" stroke-linecap="round"/><path d="M312,267.5 C315,267 317,270 315,274 C313,277 311,278 309,279 C306,281 306,285 308,288" fill="none" stroke="#c8c8c8" stroke-width="1.7" stroke-linecap="round"/><path d="M284,283 C282,287 284,291 288,292 C292,293 294,290 296,288" fill="none" stroke="#c8c8c8" stroke-width="1.7" stroke-linecap="round"/><path d="M296,288 C298,292 302,292 304,290" fill="none" stroke="#c8c8c8" stroke-width="1.7" stroke-linecap="round"/><path d="M308,292 C311,295 314,293 317.5,293.5" fill="none" stroke="#c8c8c8" stroke-width="1.7" stroke-linecap="round"/><path d="M277,307 C268,304 258,305 252,311 C247,317 248,326 254,330 C259,333 264,331 268,328" fill="none" stroke="#c8c8c8" stroke-width="1.7" stroke-linecap="round"/><path d="M254,330 C250,333 246,335 243,337" fill="none" stroke="#c8c8c8" stroke-width="1.7" stroke-linecap="round"/><path d="M252,337 C246,338 245,344 250,345 C255,346 257,342 254,339" fill="none" stroke="#c8c8c8" stroke-width="1.7" stroke-linecap="round"/><path d="M317,324 C324,330 330,338 329,345 C328,351 322,352 318,349 C315,347 315,344 316,341" fill="none" stroke="#c8c8c8" stroke-width="1.7" stroke-linecap="round"/><path d="M276,311 C272,316 272,322 275,326 C278,330 283,330 286,327" fill="none" stroke="#c8c8c8" stroke-width="1.7" stroke-linecap="round"/><path d="M280,335 C284,332 290,333 294,336 C298,339 302,338 306,335" fill="none" stroke="#c8c8c8" stroke-width="1.7" stroke-linecap="round"/><path d="M284,318 C290,316 296,318 300,321" fill="none" stroke="#c8c8c8" stroke-width="1.7" stroke-linecap="round"/><path d="M283,350 C280,356 283,362 287,364 C290,366 292,362 290,358" fill="none" stroke="#c8c8c8" stroke-width="1.7" stroke-linecap="round"/><path d="M292,350 C290,356 293,362 297,364" fill="none" stroke="#c8c8c8" stroke-width="1.7" stroke-linecap="round"/><path d="M300,352 C298,358 300,363 304,365" fill="none" stroke="#c8c8c8" stroke-width="1.7" stroke-linecap="round"/><path d="M311,350 C312,356 316,360 320,358" fill="none" stroke="#c8c8c8" stroke-width="1.7" stroke-linecap="round"/><path d="M270,348 C266,352 266,358 270,360 C274,362 278,358 280,354" fill="none" stroke="#c8c8c8" stroke-width="1.7" stroke-linecap="round"/><path d="M319,300 C322,298 324,300 324,303" fill="none" stroke="#c8c8c8" stroke-width="1.7" stroke-linecap="round"/><path d="M261,312 C262,318 266,322 271,322" fill="none" stroke="#c8c8c8" stroke-width="1.7" stroke-linecap="round"/><path d="M286,284 C290,280 296,282 298,286" fill="none" stroke="#c8c8c8" stroke-width="1.7" stroke-linecap="round"/><path d="M276,296 C272,300 273,305 277,306" fill="none" stroke="#c8c8c8" stroke-width="1.7" stroke-linecap="round"/><path d="M293,300 C296,304 300,304 302,300" fill="none" stroke="#c8c8c8" stroke-width="1.7" stroke-linecap="round"/><path d="M300,322 C304,326 309,326 311,322" fill="none" stroke="#c8c8c8" stroke-width="1.7" stroke-linecap="round"/><path d="M290,330 C292,334 296,335 298,332" fill="none" stroke="#c8c8c8" stroke-width="1.7" stroke-linecap="round"/><path d="M308,340 C311,344 315,344 317,340" fill="none" stroke="#c8c8c8" stroke-width="1.7" stroke-linecap="round"/><path d="M262,338 C266,342 272,342 274,338" fill="none" stroke="#c8c8c8" stroke-width="1.7" stroke-linecap="round"/><path d="M320,312 C324,316 326,322 324,326" fill="none" stroke="#c8c8c8" stroke-width="1.7" stroke-linecap="round"/><path d="M281,318 C284,322 286,326 284,330" fill="none" stroke="#c8c8c8" stroke-width="1.7" stroke-linecap="round"/><path d="M273,355 C276,360 282,361 285,357" fill="none" stroke="#c8c8c8" stroke-width="1.7" stroke-linecap="round"/><polygon points="278.8,292.7 276.4,301.4 275.0,301.1 277.5,308.0 283.2,303.3 281.8,303.0 284.2,294.3" fill="#1270e6"/><polygon points="291.6,345.0 291.7,302.2 293.2,302.2 288.6,294.5 283.9,302.2 285.5,302.2 285.4,345.0" fill="#1270e6"/><polygon points="293.8,296.6 294.4,323.7 292.9,323.7 297.5,331.0 301.8,323.5 300.3,323.5 299.8,296.4" fill="#1270e6"/><polygon points="293.8,325.9 293.0,343.8 291.3,343.7 295.8,352.0 301.0,344.2 299.4,344.1 300.2,326.1" fill="#1270e6"/><polygon points="308.7,360.0 308.9,296.4 310.6,296.4 305.6,288.0 300.6,296.4 302.2,296.4 302.1,360.0" fill="#1270e6"/><polygon points="306.5,355.5 306.0,323.0 307.6,323.0 302.7,315.0 298.0,323.1 299.6,323.1 300.1,355.5" fill="#1270e6"/><polygon points="312.3,302.5 314.7,317.2 313.2,317.4 318.8,324.0 322.0,316.0 320.5,316.2 318.1,301.5" fill="#1270e6"/><polygon points="318.1,341.2 316.4,321.4 318.0,321.3 312.7,314.0 308.7,322.1 310.3,322.0 311.9,341.8" fill="#1270e6"/><polygon points="319.4,327.2 323.3,335.3 322.0,335.9 328.4,339.5 329.7,332.3 328.4,332.9 324.6,324.8" fill="#1270e6"/><polygon points="267.2,330.8 272.0,331.4 271.9,332.6 275.5,329.5 272.7,325.6 272.6,326.8 267.8,326.2" fill="#1270e6"/><polygon points="279.6,306.0 281.4,310.2 280.2,310.7 285.0,312.0 287.4,307.7 286.2,308.2 284.4,304.0" fill="#1270e6"/><path d="M276.5,341 C278,347 274.5,351 268.5,351.5" fill="none" stroke="#1270e6" stroke-width="5"/><path d="M271.5,314.5 C267,317 265.5,324 267.5,329" fill="none" stroke="#1270e6" stroke-width="4.6"/></g></g>
<text x="2.5" y="465.6" font-size="16" text-anchor="start" font-weight="bold" fill="#000" >e</text>
<line x1="48.20" y1="513.00" x2="48.20" y2="632.10" stroke="#000" stroke-width="1.3" />
<line x1="47.60" y1="631.50" x2="167.40" y2="631.50" stroke="#000" stroke-width="1.3" />
<line x1="43.40" y1="631.50" x2="48.20" y2="631.50" stroke="#000" stroke-width="1.2" />
<text x="39.2" y="635.2" font-size="9.5" text-anchor="end" fill="#000" >0.0</text>
<line x1="43.40" y1="607.92" x2="48.20" y2="607.92" stroke="#000" stroke-width="1.2" />
<text x="39.2" y="611.62" font-size="9.5" text-anchor="end" fill="#000" >0.2</text>
<line x1="43.40" y1="584.34" x2="48.20" y2="584.34" stroke="#000" stroke-width="1.2" />
<text x="39.2" y="588.0400000000001" font-size="9.5" text-anchor="end" fill="#000" >0.4</text>
<line x1="43.40" y1="560.76" x2="48.20" y2="560.76" stroke="#000" stroke-width="1.2" />
<text x="39.2" y="564.46" font-size="9.5" text-anchor="end" fill="#000" >0.6</text>
<line x1="43.40" y1="537.18" x2="48.20" y2="537.18" stroke="#000" stroke-width="1.2" />
<text x="39.2" y="540.88" font-size="9.5" text-anchor="end" fill="#000" >0.8</text>
<line x1="43.40" y1="513.60" x2="48.20" y2="513.60" stroke="#000" stroke-width="1.2" />
<text x="39.2" y="517.3000000000001" font-size="9.5" text-anchor="end" fill="#000" >1.0</text>
<line x1="48.20" y1="631.50" x2="48.20" y2="636.00" stroke="#000" stroke-width="1.2" />
<text x="48.2" y="647.5" font-size="9.5" text-anchor="middle" fill="#000" >0</text>
<line x1="72.04" y1="631.50" x2="72.04" y2="636.00" stroke="#000" stroke-width="1.2" />
<text x="72.04" y="647.5" font-size="9.5" text-anchor="middle" fill="#000" >5</text>
<line x1="95.88" y1="631.50" x2="95.88" y2="636.00" stroke="#000" stroke-width="1.2" />
<text x="95.88" y="647.5" font-size="9.5" text-anchor="middle" fill="#000" >10</text>
<line x1="119.72" y1="631.50" x2="119.72" y2="636.00" stroke="#000" stroke-width="1.2" />
<text x="119.72" y="647.5" font-size="9.5" text-anchor="middle" fill="#000" >15</text>
<line x1="143.56" y1="631.50" x2="143.56" y2="636.00" stroke="#000" stroke-width="1.2" />
<text x="143.56" y="647.5" font-size="9.5" text-anchor="middle" fill="#000" >20</text>
<line x1="167.40" y1="631.50" x2="167.40" y2="636.00" stroke="#000" stroke-width="1.2" />
<text x="167.39999999999998" y="647.5" font-size="9.5" text-anchor="middle" fill="#000" >25</text>
<text x="108" y="662.5" font-size="9.5" text-anchor="middle" fill="#000" >Retention volume (ml)</text>
<text transform="translate(19,573) rotate(-90)" font-size="9.5" text-anchor="middle">Normalized Absorbance (mAU)</text>
<path d="M48.20,626.19 C48.60,626.49 49.79,627.51 50.58,627.96 C51.38,628.41 51.38,628.57 52.97,628.91 C54.56,629.24 57.34,629.73 60.12,629.97 C62.90,630.20 66.87,630.22 69.66,630.32 C72.44,630.42 73.71,630.48 76.81,630.56 C79.91,630.64 85.95,631.22 88.25,630.79 C90.56,630.36 89.92,628.36 90.64,627.96 C91.35,627.57 91.83,628.10 92.54,628.43 C93.26,628.77 93.97,629.61 94.93,629.97 C95.88,630.32 96.75,630.69 98.26,630.56 C99.77,630.42 102.40,629.73 103.99,629.14 C105.57,628.55 106.45,627.67 107.80,627.02 C109.15,626.37 110.74,625.72 112.09,625.25 C113.44,624.78 114.63,624.68 115.91,624.19 C117.18,623.70 118.53,623.05 119.72,622.30 C120.91,621.56 122.02,620.73 123.06,619.71 C124.09,618.69 124.96,618.06 125.92,616.17 C126.87,614.29 127.98,610.65 128.78,608.39 C129.57,606.13 130.05,604.27 130.69,602.61 C131.32,600.96 132.08,601.53 132.59,598.49 C133.11,595.44 133.42,591.61 133.79,584.34 C134.15,577.07 134.45,564.69 134.79,554.87 C135.12,545.04 135.38,532.27 135.79,525.39 C136.19,518.51 136.72,513.60 137.22,513.60 C137.72,513.60 138.20,516.90 138.79,525.39 C139.39,533.88 140.14,551.37 140.79,564.53 C141.45,577.70 142.05,595.09 142.70,604.38 C143.35,613.68 143.87,616.49 144.70,620.30 C145.54,624.11 146.23,625.66 147.71,627.26 C149.19,628.85 151.24,629.36 153.57,629.85 C155.90,630.34 159.53,630.09 161.68,630.20 C163.82,630.32 165.49,630.50 166.45,630.56 C167.40,630.62 167.24,630.56 167.40,630.56" fill="none" stroke="#000" stroke-width="1.5" stroke-linejoin="round"/>
<defs><linearGradient id="gel" x1="0" y1="0" x2="1" y2="0"><stop offset="0" stop-color="#d2d2d2"/><stop offset="0.25" stop-color="#cacaca"/><stop offset="1" stop-color="#c6c6c6"/></linearGradient><filter id="blur1" x="-20%" y="-50%" width="140%" height="200%"><feGaussianBlur stdDeviation="0.8"/></filter></defs>
<rect x="55.8" y="512.5" width="61" height="24" fill="url(#gel)" stroke="#2a2a2a" stroke-width="1"/>
<text x="57.3" y="508.7" font-size="9.6" text-anchor="start" fill="#000" >βME</text>
<text x="87.7" y="508.7" font-size="10.5" text-anchor="middle" fill="#000" >+</text>
<text x="108.2" y="508.7" font-size="10.5" text-anchor="middle" fill="#000" >-</text>
<line x1="59.20" y1="518.90" x2="62.40" y2="518.90" stroke="#222" stroke-width="1.3" />
<line x1="70.60" y1="519.30" x2="74.50" y2="519.30" stroke="#222" stroke-width="1.3" />
<text x="66.3" y="522.1999999999999" font-size="9.4" text-anchor="middle" fill="#fff" stroke="#6a6a6a" stroke-width="1.3" paint-order="stroke" stroke-linejoin="round">50</text>
<line x1="59.20" y1="530.70" x2="62.40" y2="530.70" stroke="#222" stroke-width="1.3" />
<line x1="70.60" y1="531.10" x2="74.50" y2="531.10" stroke="#222" stroke-width="1.3" />
<text x="66.3" y="534.0" font-size="9.4" text-anchor="middle" fill="#fff" stroke="#6a6a6a" stroke-width="1.3" paint-order="stroke" stroke-linejoin="round">37</text>
<g filter="url(#blur1)"><rect x="80.3" y="524.7" width="13.6" height="4" rx="1.2" fill="#4a4a4a"/><rect x="101.2" y="524.6" width="13.6" height="3.0" rx="1.2" fill="#222"/><rect x="101.5" y="528" width="13" height="1.6" fill="#8a8a8a"/><rect x="80.5" y="528.4" width="13" height="1.4" fill="#9a9a9a"/></g>
<text x="183.6" y="465.6" font-size="16" text-anchor="start" font-weight="bold" fill="#000" >f</text>
<text x="292.15" y="458.7" font-size="13.2" text-anchor="middle" font-weight="bold" fill="#000" >Pfs230-D1</text>
<text x="367.5" y="462.4" font-size="16" text-anchor="start" font-weight="bold" fill="#000" >g</text>
<text x="452.95" y="458.6" font-size="13.2" text-anchor="middle" font-weight="bold" fill="#000" >Pfs230-D1D2</text>
<text x="528.6" y="463" font-size="16" text-anchor="start" font-weight="bold" fill="#000" >h</text>
<text x="613.7" y="458.5" font-size="13.2" text-anchor="middle" font-weight="bold" fill="#000" >Design-1</text>
<text transform="translate(213.2,509.6) rotate(-90)" font-size="12.2" text-anchor="middle" fill="#f79dd3" stroke="#f79dd3" stroke-width="0.35">LMIV230-02</text>
<text transform="translate(213.0,617.8) rotate(-90)" font-size="12.2" text-anchor="middle" fill="#2fe488" stroke="#2fe488" stroke-width="0.35">15C5</text>
<rect x="254.2" y="469" width="69.69999999999999" height="10.600000000000023" fill="#f9b0d9"/>
<text x="289.04999999999995" y="477.20000000000005" font-size="9" text-anchor="middle">K<tspan font-size="6.5" dy="2">D</tspan><tspan dy="-2">: 0.5 nM</tspan></text>
<polyline points="253.80,535.70 254.35,535.03 254.90,534.38 255.45,533.73 255.99,533.08 256.54,532.45 257.09,531.82 257.64,531.20 258.19,530.59 258.74,529.98 259.28,529.39 259.83,528.80 260.38,528.21 260.93,527.64 261.48,527.07 262.03,526.50 262.57,525.95 263.12,525.40 263.67,524.85 264.22,524.32 264.77,523.79 265.31,523.26 265.86,522.75 266.41,522.23 266.96,521.73 267.51,521.23 268.06,520.74 268.61,520.25 269.15,519.77 269.70,519.29 270.25,518.82 270.80,518.36 271.35,517.90 271.90,517.44 272.44,517.00 272.99,516.55 273.54,516.12 274.09,515.68 274.64,515.26 275.19,514.83 275.73,514.42 276.28,514.00 276.83,513.60 277.38,513.20 277.93,512.80 278.48,512.41 279.02,512.02 279.57,511.63 280.12,511.25 280.67,510.88 281.22,510.51 281.76,510.15 282.31,509.78 282.86,509.43 283.41,509.07 283.96,508.73 284.51,508.38 285.06,508.04 285.60,507.71 286.15,507.37 286.70,507.05 287.25,507.06 287.80,507.08 288.35,507.10 288.89,507.12 289.44,507.14 289.99,507.16 290.54,507.18 291.09,507.20 291.63,507.21 292.18,507.23 292.73,507.25 293.28,507.27 293.83,507.29 294.38,507.31 294.93,507.33 295.47,507.34 296.02,507.36 296.57,507.38 297.12,507.40 297.67,507.42 298.22,507.44 298.76,507.45 299.31,507.47 299.86,507.49 300.41,507.51 300.96,507.53 301.50,507.55 302.05,507.57 302.60,507.58 303.15,507.60 303.70,507.62 304.25,507.64 304.80,507.66 305.34,507.68 305.89,507.69 306.44,507.71 306.99,507.73 307.54,507.75 308.09,507.77 308.63,507.79 309.18,507.80 309.73,507.82 310.28,507.84 310.83,507.86 311.38,507.88 311.92,507.89 312.47,507.91 313.02,507.93 313.57,507.95 314.12,507.97 314.67,507.99 315.21,508.00 315.76,508.02 316.31,508.04 316.86,508.06 317.41,508.08 317.96,508.09 318.50,508.11 319.05,508.13 319.60,508.15" fill="none" stroke="#9467bd" stroke-width="2.0" stroke-linejoin="round"/>
<polyline points="253.80,536.20 254.35,535.53 254.90,534.88 255.45,534.23 255.99,533.58 256.54,532.95 257.09,532.32 257.64,531.70 258.19,531.09 258.74,530.48 259.28,529.89 259.83,529.30 260.38,528.71 260.93,528.14 261.48,527.57 262.03,527.00 262.57,526.45 263.12,525.90 263.67,525.35 264.22,524.82 264.77,524.29 265.31,523.76 265.86,523.25 266.41,522.73 266.96,522.23 267.51,521.73 268.06,521.24 268.61,520.75 269.15,520.27 269.70,519.79 270.25,519.32 270.80,518.86 271.35,518.40 271.90,517.94 272.44,517.50 272.99,517.05 273.54,516.62 274.09,516.18 274.64,515.76 275.19,515.33 275.73,514.92 276.28,514.50 276.83,514.10 277.38,513.70 277.93,513.30 278.48,512.91 279.02,512.52 279.57,512.13 280.12,511.75 280.67,511.38 281.22,511.01 281.76,510.65 282.31,510.28 282.86,509.93 283.41,509.57 283.96,509.23 284.51,508.88 285.06,508.54 285.60,508.21 286.15,507.87 286.70,507.55 287.25,507.56 287.80,507.58 288.35,507.60 288.89,507.62 289.44,507.64 289.99,507.66 290.54,507.68 291.09,507.70 291.63,507.71 292.18,507.73 292.73,507.75 293.28,507.77 293.83,507.79 294.38,507.81 294.93,507.83 295.47,507.84 296.02,507.86 296.57,507.88 297.12,507.90 297.67,507.92 298.22,507.94 298.76,507.95 299.31,507.97 299.86,507.99 300.41,508.01 300.96,508.03 301.50,508.05 302.05,508.07 302.60,508.08 303.15,508.10 303.70,508.12 304.25,508.14 304.80,508.16 305.34,508.18 305.89,508.19 306.44,508.21 306.99,508.23 307.54,508.25 308.09,508.27 308.63,508.29 309.18,508.30 309.73,508.32 310.28,508.34 310.83,508.36 311.38,508.38 311.92,508.39 312.47,508.41 313.02,508.43 313.57,508.45 314.12,508.47 314.67,508.49 315.21,508.50 315.76,508.52 316.31,508.54 316.86,508.56 317.41,508.58 317.96,508.59 318.50,508.61 319.05,508.63 319.60,508.65" fill="none" stroke="#111" stroke-width="0.9" stroke-linejoin="round"/>
<polyline points="253.80,535.70 254.35,534.16 254.90,532.68 255.45,531.24 255.99,529.85 256.54,528.50 257.09,527.20 257.64,525.94 258.19,524.72 258.74,523.54 259.28,522.40 259.83,521.30 260.38,520.23 260.93,519.20 261.48,518.20 262.03,517.23 262.57,516.29 263.12,515.39 263.67,514.51 264.22,513.66 264.77,512.84 265.31,512.05 265.86,511.28 266.41,510.54 266.96,509.82 267.51,509.12 268.06,508.45 268.61,507.80 269.15,507.17 269.70,506.56 270.25,505.97 270.80,505.40 271.35,504.85 271.90,504.31 272.44,503.80 272.99,503.30 273.54,502.81 274.09,502.34 274.64,501.89 275.19,501.45 275.73,501.03 276.28,500.62 276.83,500.22 277.38,499.84 277.93,499.47 278.48,499.11 279.02,498.76 279.57,498.42 280.12,498.10 280.67,497.78 281.22,497.48 281.76,497.18 282.31,496.90 282.86,496.62 283.41,496.35 283.96,496.09 284.51,495.84 285.06,495.60 285.60,495.37 286.15,495.14 286.70,494.92 287.25,494.96 287.80,495.00 288.35,495.04 288.89,495.07 289.44,495.11 289.99,495.15 290.54,495.19 291.09,495.22 291.63,495.26 292.18,495.30 292.73,495.34 293.28,495.37 293.83,495.41 294.38,495.45 294.93,495.49 295.47,495.52 296.02,495.56 296.57,495.60 297.12,495.63 297.67,495.67 298.22,495.71 298.76,495.75 299.31,495.78 299.86,495.82 300.41,495.86 300.96,495.89 301.50,495.93 302.05,495.97 302.60,496.00 303.15,496.04 303.70,496.08 304.25,496.11 304.80,496.15 305.34,496.19 305.89,496.22 306.44,496.26 306.99,496.30 307.54,496.33 308.09,496.37 308.63,496.41 309.18,496.44 309.73,496.48 310.28,496.51 310.83,496.55 311.38,496.59 311.92,496.62 312.47,496.66 313.02,496.70 313.57,496.73 314.12,496.77 314.67,496.80 315.21,496.84 315.76,496.88 316.31,496.91 316.86,496.95 317.41,496.98 317.96,497.02 318.50,497.06 319.05,497.09 319.60,497.13" fill="none" stroke="#d62728" stroke-width="2.0" stroke-linejoin="round"/>
<polyline points="253.80,536.20 254.35,534.66 254.90,533.18 255.45,531.74 255.99,530.35 256.54,529.00 257.09,527.70 257.64,526.44 258.19,525.22 258.74,524.04 259.28,522.90 259.83,521.80 260.38,520.73 260.93,519.70 261.48,518.70 262.03,517.73 262.57,516.79 263.12,515.89 263.67,515.01 264.22,514.16 264.77,513.34 265.31,512.55 265.86,511.78 266.41,511.04 266.96,510.32 267.51,509.62 268.06,508.95 268.61,508.30 269.15,507.67 269.70,507.06 270.25,506.47 270.80,505.90 271.35,505.35 271.90,504.81 272.44,504.30 272.99,503.80 273.54,503.31 274.09,502.84 274.64,502.39 275.19,501.95 275.73,501.53 276.28,501.12 276.83,500.72 277.38,500.34 277.93,499.97 278.48,499.61 279.02,499.26 279.57,498.92 280.12,498.60 280.67,498.28 281.22,497.98 281.76,497.68 282.31,497.40 282.86,497.12 283.41,496.85 283.96,496.59 284.51,496.34 285.06,496.10 285.60,495.87 286.15,495.64 286.70,495.42 287.25,495.46 287.80,495.50 288.35,495.54 288.89,495.57 289.44,495.61 289.99,495.65 290.54,495.69 291.09,495.72 291.63,495.76 292.18,495.80 292.73,495.84 293.28,495.87 293.83,495.91 294.38,495.95 294.93,495.99 295.47,496.02 296.02,496.06 296.57,496.10 297.12,496.13 297.67,496.17 298.22,496.21 298.76,496.25 299.31,496.28 299.86,496.32 300.41,496.36 300.96,496.39 301.50,496.43 302.05,496.47 302.60,496.50 303.15,496.54 303.70,496.58 304.25,496.61 304.80,496.65 305.34,496.69 305.89,496.72 306.44,496.76 306.99,496.80 307.54,496.83 308.09,496.87 308.63,496.91 309.18,496.94 309.73,496.98 310.28,497.01 310.83,497.05 311.38,497.09 311.92,497.12 312.47,497.16 313.02,497.20 313.57,497.23 314.12,497.27 314.67,497.30 315.21,497.34 315.76,497.38 316.31,497.41 316.86,497.45 317.41,497.48 317.96,497.52 318.50,497.56 319.05,497.59 319.60,497.63" fill="none" stroke="#111" stroke-width="0.9" stroke-linejoin="round"/>
<polyline points="253.80,535.70 254.35,532.49 254.90,529.50 255.45,526.72 255.99,524.13 256.54,521.72 257.09,519.48 257.64,517.39 258.19,515.45 258.74,513.65 259.28,511.97 259.83,510.40 260.38,508.95 260.93,507.59 261.48,506.33 262.03,505.16 262.57,504.07 263.12,503.06 263.67,502.11 264.22,501.23 264.77,500.41 265.31,499.65 265.86,498.95 266.41,498.29 266.96,497.67 267.51,497.10 268.06,496.57 268.61,496.08 269.15,495.62 269.70,495.19 270.25,494.79 270.80,494.42 271.35,494.08 271.90,493.76 272.44,493.46 272.99,493.18 273.54,492.92 274.09,492.68 274.64,492.46 275.19,492.25 275.73,492.05 276.28,491.87 276.83,491.71 277.38,491.55 277.93,491.40 278.48,491.27 279.02,491.14 279.57,491.03 280.12,490.92 280.67,490.82 281.22,490.72 281.76,490.63 282.31,490.55 282.86,490.48 283.41,490.41 283.96,490.34 284.51,490.28 285.06,490.22 285.60,490.17 286.15,490.12 286.70,490.07 287.25,490.11 287.80,490.14 288.35,490.18 288.89,490.21 289.44,490.24 289.99,490.28 290.54,490.31 291.09,490.34 291.63,490.38 292.18,490.41 292.73,490.44 293.28,490.48 293.83,490.51 294.38,490.54 294.93,490.58 295.47,490.61 296.02,490.64 296.57,490.68 297.12,490.71 297.67,490.74 298.22,490.78 298.76,490.81 299.31,490.84 299.86,490.88 300.41,490.91 300.96,490.94 301.50,490.98 302.05,491.01 302.60,491.04 303.15,491.08 303.70,491.11 304.25,491.14 304.80,491.18 305.34,491.21 305.89,491.24 306.44,491.27 306.99,491.31 307.54,491.34 308.09,491.37 308.63,491.41 309.18,491.44 309.73,491.47 310.28,491.50 310.83,491.54 311.38,491.57 311.92,491.60 312.47,491.64 313.02,491.67 313.57,491.70 314.12,491.73 314.67,491.77 315.21,491.80 315.76,491.83 316.31,491.86 316.86,491.90 317.41,491.93 317.96,491.96 318.50,491.99 319.05,492.03 319.60,492.06" fill="none" stroke="#2ca02c" stroke-width="2.0" stroke-linejoin="round"/>
<polyline points="253.80,536.20 254.35,532.99 254.90,530.00 255.45,527.22 255.99,524.63 256.54,522.22 257.09,519.98 257.64,517.89 258.19,515.95 258.74,514.15 259.28,512.47 259.83,510.90 260.38,509.45 260.93,508.09 261.48,506.83 262.03,505.66 262.57,504.57 263.12,503.56 263.67,502.61 264.22,501.73 264.77,500.91 265.31,500.15 265.86,499.45 266.41,498.79 266.96,498.17 267.51,497.60 268.06,497.07 268.61,496.58 269.15,496.12 269.70,495.69 270.25,495.29 270.80,494.92 271.35,494.58 271.90,494.26 272.44,493.96 272.99,493.68 273.54,493.42 274.09,493.18 274.64,492.96 275.19,492.75 275.73,492.55 276.28,492.37 276.83,492.21 277.38,492.05 277.93,491.90 278.48,491.77 279.02,491.64 279.57,491.53 280.12,491.42 280.67,491.32 281.22,491.22 281.76,491.13 282.31,491.05 282.86,490.98 283.41,490.91 283.96,490.84 284.51,490.78 285.06,490.72 285.60,490.67 286.15,490.62 286.70,490.57 287.25,490.61 287.80,490.64 288.35,490.68 288.89,490.71 289.44,490.74 289.99,490.78 290.54,490.81 291.09,490.84 291.63,490.88 292.18,490.91 292.73,490.94 293.28,490.98 293.83,491.01 294.38,491.04 294.93,491.08 295.47,491.11 296.02,491.14 296.57,491.18 297.12,491.21 297.67,491.24 298.22,491.28 298.76,491.31 299.31,491.34 299.86,491.38 300.41,491.41 300.96,491.44 301.50,491.48 302.05,491.51 302.60,491.54 303.15,491.58 303.70,491.61 304.25,491.64 304.80,491.68 305.34,491.71 305.89,491.74 306.44,491.77 306.99,491.81 307.54,491.84 308.09,491.87 308.63,491.91 309.18,491.94 309.73,491.97 310.28,492.00 310.83,492.04 311.38,492.07 311.92,492.10 312.47,492.14 313.02,492.17 313.57,492.20 314.12,492.23 314.67,492.27 315.21,492.30 315.76,492.33 316.31,492.36 316.86,492.40 317.41,492.43 317.96,492.46 318.50,492.49 319.05,492.53 319.60,492.56" fill="none" stroke="#111" stroke-width="0.9" stroke-linejoin="round"/>
<polyline points="253.80,535.70 254.35,528.94 254.90,523.13 255.45,518.13 255.99,513.82 256.54,510.11 257.09,506.92 257.64,504.17 258.19,501.81 258.74,499.77 259.28,498.02 259.83,496.52 260.38,495.22 260.93,494.10 261.48,493.14 262.03,492.31 262.57,491.60 263.12,490.99 263.67,490.46 264.22,490.01 264.77,489.62 265.31,489.28 265.86,488.99 266.41,488.74 266.96,488.53 267.51,488.34 268.06,488.18 268.61,488.05 269.15,487.93 269.70,487.83 270.25,487.74 270.80,487.67 271.35,487.60 271.90,487.55 272.44,487.50 272.99,487.46 273.54,487.42 274.09,487.39 274.64,487.36 275.19,487.34 275.73,487.32 276.28,487.31 276.83,487.29 277.38,487.28 277.93,487.27 278.48,487.26 279.02,487.25 279.57,487.24 280.12,487.24 280.67,487.23 281.22,487.23 281.76,487.23 282.31,487.22 282.86,487.22 283.41,487.22 283.96,487.22 284.51,487.21 285.06,487.21 285.60,487.21 286.15,487.21 286.70,487.21 287.25,487.27 287.80,487.32 288.35,487.38 288.89,487.44 289.44,487.49 289.99,487.55 290.54,487.61 291.09,487.66 291.63,487.72 292.18,487.78 292.73,487.83 293.28,487.89 293.83,487.94 294.38,488.00 294.93,488.06 295.47,488.11 296.02,488.17 296.57,488.22 297.12,488.28 297.67,488.34 298.22,488.39 298.76,488.45 299.31,488.50 299.86,488.56 300.41,488.61 300.96,488.67 301.50,488.73 302.05,488.78 302.60,488.84 303.15,488.89 303.70,488.95 304.25,489.00 304.80,489.06 305.34,489.11 305.89,489.17 306.44,489.22 306.99,489.27 307.54,489.33 308.09,489.38 308.63,489.44 309.18,489.49 309.73,489.55 310.28,489.60 310.83,489.66 311.38,489.71 311.92,489.76 312.47,489.82 313.02,489.87 313.57,489.93 314.12,489.98 314.67,490.03 315.21,490.09 315.76,490.14 316.31,490.19 316.86,490.25 317.41,490.30 317.96,490.35 318.50,490.41 319.05,490.46 319.60,490.51" fill="none" stroke="#ff7f0e" stroke-width="2.0" stroke-linejoin="round"/>
<polyline points="253.80,536.20 254.35,529.44 254.90,523.63 255.45,518.63 255.99,514.32 256.54,510.61 257.09,507.42 257.64,504.67 258.19,502.31 258.74,500.27 259.28,498.52 259.83,497.02 260.38,495.72 260.93,494.60 261.48,493.64 262.03,492.81 262.57,492.10 263.12,491.49 263.67,490.96 264.22,490.51 264.77,490.12 265.31,489.78 265.86,489.49 266.41,489.24 266.96,489.03 267.51,488.84 268.06,488.68 268.61,488.55 269.15,488.43 269.70,488.33 270.25,488.24 270.80,488.17 271.35,488.10 271.90,488.05 272.44,488.00 272.99,487.96 273.54,487.92 274.09,487.89 274.64,487.86 275.19,487.84 275.73,487.82 276.28,487.81 276.83,487.79 277.38,487.78 277.93,487.77 278.48,487.76 279.02,487.75 279.57,487.74 280.12,487.74 280.67,487.73 281.22,487.73 281.76,487.73 282.31,487.72 282.86,487.72 283.41,487.72 283.96,487.72 284.51,487.71 285.06,487.71 285.60,487.71 286.15,487.71 286.70,487.71 287.25,487.77 287.80,487.82 288.35,487.88 288.89,487.94 289.44,487.99 289.99,488.05 290.54,488.11 291.09,488.16 291.63,488.22 292.18,488.28 292.73,488.33 293.28,488.39 293.83,488.44 294.38,488.50 294.93,488.56 295.47,488.61 296.02,488.67 296.57,488.72 297.12,488.78 297.67,488.84 298.22,488.89 298.76,488.95 299.31,489.00 299.86,489.06 300.41,489.11 300.96,489.17 301.50,489.23 302.05,489.28 302.60,489.34 303.15,489.39 303.70,489.45 304.25,489.50 304.80,489.56 305.34,489.61 305.89,489.67 306.44,489.72 306.99,489.77 307.54,489.83 308.09,489.88 308.63,489.94 309.18,489.99 309.73,490.05 310.28,490.10 310.83,490.16 311.38,490.21 311.92,490.26 312.47,490.32 313.02,490.37 313.57,490.43 314.12,490.48 314.67,490.53 315.21,490.59 315.76,490.64 316.31,490.69 316.86,490.75 317.41,490.80 317.96,490.85 318.50,490.91 319.05,490.96 319.60,491.01" fill="none" stroke="#111" stroke-width="0.9" stroke-linejoin="round"/>
<polyline points="253.80,535.70 254.35,522.56 254.90,512.83 255.45,505.62 255.99,500.27 256.54,496.32 257.09,493.38 257.64,491.21 258.19,489.60 258.74,488.41 259.28,487.53 259.83,486.87 260.38,486.39 260.93,486.03 261.48,485.76 262.03,485.57 262.57,485.42 263.12,485.31 263.67,485.23 264.22,485.17 264.77,485.13 265.31,485.10 265.86,485.07 266.41,485.06 266.96,485.04 267.51,485.03 268.06,485.02 268.61,485.02 269.15,485.02 269.70,485.01 270.25,485.01 270.80,485.01 271.35,485.01 271.90,485.01 272.44,485.01 272.99,485.01 273.54,485.01 274.09,485.00 274.64,485.00 275.19,485.00 275.73,485.00 276.28,485.00 276.83,485.00 277.38,485.00 277.93,485.00 278.48,485.00 279.02,485.00 279.57,485.00 280.12,485.00 280.67,485.00 281.22,485.00 281.76,485.00 282.31,485.00 282.86,485.00 283.41,485.00 283.96,485.00 284.51,485.00 285.06,485.00 285.60,485.00 286.15,485.00 286.70,485.00 287.25,485.04 287.80,485.08 288.35,485.12 288.89,485.15 289.44,485.19 289.99,485.23 290.54,485.27 291.09,485.30 291.63,485.34 292.18,485.38 292.73,485.42 293.28,485.45 293.83,485.49 294.38,485.53 294.93,485.56 295.47,485.60 296.02,485.64 296.57,485.68 297.12,485.71 297.67,485.75 298.22,485.79 298.76,485.82 299.31,485.86 299.86,485.90 300.41,485.93 300.96,485.97 301.50,486.01 302.05,486.04 302.60,486.08 303.15,486.12 303.70,486.16 304.25,486.19 304.80,486.23 305.34,486.27 305.89,486.30 306.44,486.34 306.99,486.37 307.54,486.41 308.09,486.45 308.63,486.48 309.18,486.52 309.73,486.56 310.28,486.59 310.83,486.63 311.38,486.67 311.92,486.70 312.47,486.74 313.02,486.78 313.57,486.81 314.12,486.85 314.67,486.88 315.21,486.92 315.76,486.96 316.31,486.99 316.86,487.03 317.41,487.06 317.96,487.10 318.50,487.14 319.05,487.17 319.60,487.21" fill="none" stroke="#1f77b4" stroke-width="2.0" stroke-linejoin="round"/>
<polyline points="253.80,536.20 254.35,523.06 254.90,513.33 255.45,506.12 255.99,500.77 256.54,496.82 257.09,493.88 257.64,491.71 258.19,490.10 258.74,488.91 259.28,488.03 259.83,487.37 260.38,486.89 260.93,486.53 261.48,486.26 262.03,486.07 262.57,485.92 263.12,485.81 263.67,485.73 264.22,485.67 264.77,485.63 265.31,485.60 265.86,485.57 266.41,485.56 266.96,485.54 267.51,485.53 268.06,485.52 268.61,485.52 269.15,485.52 269.70,485.51 270.25,485.51 270.80,485.51 271.35,485.51 271.90,485.51 272.44,485.51 272.99,485.51 273.54,485.51 274.09,485.50 274.64,485.50 275.19,485.50 275.73,485.50 276.28,485.50 276.83,485.50 277.38,485.50 277.93,485.50 278.48,485.50 279.02,485.50 279.57,485.50 280.12,485.50 280.67,485.50 281.22,485.50 281.76,485.50 282.31,485.50 282.86,485.50 283.41,485.50 283.96,485.50 284.51,485.50 285.06,485.50 285.60,485.50 286.15,485.50 286.70,485.50 287.25,485.54 287.80,485.58 288.35,485.62 288.89,485.65 289.44,485.69 289.99,485.73 290.54,485.77 291.09,485.80 291.63,485.84 292.18,485.88 292.73,485.92 293.28,485.95 293.83,485.99 294.38,486.03 294.93,486.06 295.47,486.10 296.02,486.14 296.57,486.18 297.12,486.21 297.67,486.25 298.22,486.29 298.76,486.32 299.31,486.36 299.86,486.40 300.41,486.43 300.96,486.47 301.50,486.51 302.05,486.54 302.60,486.58 303.15,486.62 303.70,486.66 304.25,486.69 304.80,486.73 305.34,486.77 305.89,486.80 306.44,486.84 306.99,486.87 307.54,486.91 308.09,486.95 308.63,486.98 309.18,487.02 309.73,487.06 310.28,487.09 310.83,487.13 311.38,487.17 311.92,487.20 312.47,487.24 313.02,487.28 313.57,487.31 314.12,487.35 314.67,487.38 315.21,487.42 315.76,487.46 316.31,487.49 316.86,487.53 317.41,487.56 317.96,487.60 318.50,487.64 319.05,487.67 319.60,487.71" fill="none" stroke="#111" stroke-width="0.9" stroke-linejoin="round"/>
<line x1="253.80" y1="482.20" x2="253.80" y2="536.30" stroke="#000" stroke-width="1.3" />
<line x1="253.20" y1="535.70" x2="319.60" y2="535.70" stroke="#000" stroke-width="1.3" />
<line x1="249.00" y1="535.70" x2="253.80" y2="535.70" stroke="#000" stroke-width="1.1" />
<text x="243.8" y="538.6" font-size="8.0" text-anchor="end" fill="#111" >0.0</text>
<line x1="249.00" y1="522.48" x2="253.80" y2="522.48" stroke="#000" stroke-width="1.1" />
<text x="243.8" y="525.375" font-size="8.0" text-anchor="end" fill="#111" >0.6</text>
<line x1="249.00" y1="509.25" x2="253.80" y2="509.25" stroke="#000" stroke-width="1.1" />
<text x="243.8" y="512.15" font-size="8.0" text-anchor="end" fill="#111" >1.2</text>
<line x1="249.00" y1="496.03" x2="253.80" y2="496.03" stroke="#000" stroke-width="1.1" />
<text x="243.8" y="498.925" font-size="8.0" text-anchor="end" fill="#111" >1.8</text>
<line x1="249.00" y1="482.80" x2="253.80" y2="482.80" stroke="#000" stroke-width="1.1" />
<text x="243.8" y="485.7" font-size="8.0" text-anchor="end" fill="#111" >2.4</text>
<line x1="253.80" y1="535.70" x2="253.80" y2="540.30" stroke="#000" stroke-width="1.1" />
<text x="253.8" y="550.9000000000001" font-size="8.0" text-anchor="middle" fill="#111" >0</text>
<line x1="286.70" y1="535.70" x2="286.70" y2="540.30" stroke="#000" stroke-width="1.1" />
<text x="286.70000000000005" y="550.9000000000001" font-size="8.0" text-anchor="middle" fill="#111" >180</text>
<line x1="319.60" y1="535.70" x2="319.60" y2="540.30" stroke="#000" stroke-width="1.1" />
<text x="319.6" y="550.9000000000001" font-size="8.0" text-anchor="middle" fill="#111" >360</text>
<text x="286.70000000000005" y="564.0" font-size="8.2" text-anchor="middle" fill="#111" >Time (s)</text>
<text transform="translate(225.3,509.25) rotate(-90)" font-size="8.2" text-anchor="middle" fill="#111">Response (nm)</text>
<line x1="324.40" y1="487.80" x2="330.80" y2="487.80" stroke="#1f77b4" stroke-width="1.6" />
<text x="332.7" y="490.5" font-size="7.8" letter-spacing="0.32" fill="#3c3c3c">2.5×10<tspan font-size="5.6" dy="-3.1" letter-spacing="0.1">−7</tspan></text>
<line x1="324.40" y1="498.30" x2="330.80" y2="498.30" stroke="#ff7f0e" stroke-width="1.6" />
<text x="332.7" y="501.0" font-size="7.8" letter-spacing="0.32" fill="#3c3c3c">1.2×10<tspan font-size="5.6" dy="-3.1" letter-spacing="0.1">−7</tspan></text>
<line x1="324.40" y1="508.80" x2="330.80" y2="508.80" stroke="#2ca02c" stroke-width="1.6" />
<text x="332.7" y="511.5" font-size="7.8" letter-spacing="0.32" fill="#3c3c3c">6.2×10<tspan font-size="5.6" dy="-3.1" letter-spacing="0.1">−8</tspan></text>
<line x1="324.40" y1="519.30" x2="330.80" y2="519.30" stroke="#d62728" stroke-width="1.6" />
<text x="332.7" y="522.0" font-size="7.8" letter-spacing="0.32" fill="#3c3c3c">3.1×10<tspan font-size="5.6" dy="-3.1" letter-spacing="0.1">−8</tspan></text>
<line x1="324.40" y1="529.80" x2="330.80" y2="529.80" stroke="#9467bd" stroke-width="1.6" />
<text x="332.7" y="532.5" font-size="7.8" letter-spacing="0.32" fill="#3c3c3c">1.6×10<tspan font-size="5.6" dy="-3.1" letter-spacing="0.1">−8</tspan></text>
<rect x="254.2" y="579.4" width="69.19999999999999" height="10.300000000000068" fill="#72f5b0"/>
<text x="288.79999999999995" y="587.3000000000001" font-size="9" text-anchor="middle">K<tspan font-size="6.5" dy="2">D</tspan><tspan dy="-2">: 24 nM</tspan></text>
<polyline points="253.80,649.60 254.35,649.38 254.90,649.17 255.45,648.96 255.99,648.76 256.54,648.56 257.09,648.36 257.64,648.17 258.19,647.98 258.74,647.79 259.28,647.61 259.83,647.43 260.38,647.25 260.93,647.07 261.48,646.90 262.03,646.74 262.57,646.57 263.12,646.41 263.67,646.25 264.22,646.09 264.77,645.94 265.31,645.79 265.86,645.64 266.41,645.50 266.96,645.35 267.51,645.21 268.06,645.08 268.61,644.94 269.15,644.81 269.70,644.68 270.25,644.55 270.80,644.42 271.35,644.30 271.90,644.18 272.44,644.06 272.99,643.94 273.54,643.83 274.09,643.71 274.64,643.60 275.19,643.49 275.73,643.39 276.28,643.28 276.83,643.18 277.38,643.08 277.93,642.98 278.48,642.88 279.02,642.78 279.57,642.69 280.12,642.60 280.67,642.51 281.22,642.42 281.76,642.33 282.31,642.24 282.86,642.16 283.41,642.07 283.96,641.99 284.51,641.91 285.06,641.83 285.60,641.76 286.15,641.68 286.70,641.61 287.25,641.66 287.80,641.71 288.35,641.77 288.89,641.82 289.44,641.87 289.99,641.92 290.54,641.97 291.09,642.03 291.63,642.08 292.18,642.13 292.73,642.18 293.28,642.23 293.83,642.28 294.38,642.33 294.93,642.38 295.47,642.42 296.02,642.47 296.57,642.52 297.12,642.57 297.67,642.62 298.22,642.66 298.76,642.71 299.31,642.76 299.86,642.80 300.41,642.85 300.96,642.89 301.50,642.94 302.05,642.98 302.60,643.03 303.15,643.07 303.70,643.12 304.25,643.16 304.80,643.20 305.34,643.25 305.89,643.29 306.44,643.33 306.99,643.37 307.54,643.42 308.09,643.46 308.63,643.50 309.18,643.54 309.73,643.58 310.28,643.62 310.83,643.66 311.38,643.70 311.92,643.74 312.47,643.78 313.02,643.82 313.57,643.86 314.12,643.90 314.67,643.94 315.21,643.97 315.76,644.01 316.31,644.05 316.86,644.09 317.41,644.12 317.96,644.16 318.50,644.20 319.05,644.23 319.60,644.27" fill="none" stroke="#8c564b" stroke-width="2.0" stroke-linejoin="round"/>
<polyline points="253.80,650.10 254.35,649.88 254.90,649.67 255.45,649.46 255.99,649.26 256.54,649.06 257.09,648.86 257.64,648.67 258.19,648.48 258.74,648.29 259.28,648.11 259.83,647.93 260.38,647.75 260.93,647.57 261.48,647.40 262.03,647.24 262.57,647.07 263.12,646.91 263.67,646.75 264.22,646.59 264.77,646.44 265.31,646.29 265.86,646.14 266.41,646.00 266.96,645.85 267.51,645.71 268.06,645.58 268.61,645.44 269.15,645.31 269.70,645.18 270.25,645.05 270.80,644.92 271.35,644.80 271.90,644.68 272.44,644.56 272.99,644.44 273.54,644.33 274.09,644.21 274.64,644.10 275.19,643.99 275.73,643.89 276.28,643.78 276.83,643.68 277.38,643.58 277.93,643.48 278.48,643.38 279.02,643.28 279.57,643.19 280.12,643.10 280.67,643.01 281.22,642.92 281.76,642.83 282.31,642.74 282.86,642.66 283.41,642.57 283.96,642.49 284.51,642.41 285.06,642.33 285.60,642.26 286.15,642.18 286.70,642.11 287.25,642.16 287.80,642.21 288.35,642.27 288.89,642.32 289.44,642.37 289.99,642.42 290.54,642.47 291.09,642.53 291.63,642.58 292.18,642.63 292.73,642.68 293.28,642.73 293.83,642.78 294.38,642.83 294.93,642.88 295.47,642.92 296.02,642.97 296.57,643.02 297.12,643.07 297.67,643.12 298.22,643.16 298.76,643.21 299.31,643.26 299.86,643.30 300.41,643.35 300.96,643.39 301.50,643.44 302.05,643.48 302.60,643.53 303.15,643.57 303.70,643.62 304.25,643.66 304.80,643.70 305.34,643.75 305.89,643.79 306.44,643.83 306.99,643.87 307.54,643.92 308.09,643.96 308.63,644.00 309.18,644.04 309.73,644.08 310.28,644.12 310.83,644.16 311.38,644.20 311.92,644.24 312.47,644.28 313.02,644.32 313.57,644.36 314.12,644.40 314.67,644.44 315.21,644.47 315.76,644.51 316.31,644.55 316.86,644.59 317.41,644.62 317.96,644.66 318.50,644.70 319.05,644.73 319.60,644.77" fill="none" stroke="#111" stroke-width="0.9" stroke-linejoin="round"/>
<polyline points="253.80,649.60 254.35,649.14 254.90,648.68 255.45,648.24 255.99,647.80 256.54,647.38 257.09,646.96 257.64,646.55 258.19,646.15 258.74,645.76 259.28,645.37 259.83,645.00 260.38,644.63 260.93,644.27 261.48,643.91 262.03,643.57 262.57,643.23 263.12,642.90 263.67,642.57 264.22,642.26 264.77,641.94 265.31,641.64 265.86,641.34 266.41,641.05 266.96,640.76 267.51,640.48 268.06,640.21 268.61,639.94 269.15,639.68 269.70,639.42 270.25,639.17 270.80,638.92 271.35,638.68 271.90,638.44 272.44,638.21 272.99,637.98 273.54,637.76 274.09,637.54 274.64,637.33 275.19,637.12 275.73,636.91 276.28,636.71 276.83,636.52 277.38,636.33 277.93,636.14 278.48,635.95 279.02,635.77 279.57,635.60 280.12,635.42 280.67,635.26 281.22,635.09 281.76,634.93 282.31,634.77 282.86,634.61 283.41,634.46 283.96,634.31 284.51,634.16 285.06,634.02 285.60,633.88 286.15,633.74 286.70,633.61 287.25,633.72 287.80,633.82 288.35,633.93 288.89,634.04 289.44,634.14 289.99,634.25 290.54,634.35 291.09,634.45 291.63,634.55 292.18,634.65 292.73,634.76 293.28,634.86 293.83,634.95 294.38,635.05 294.93,635.15 295.47,635.25 296.02,635.35 296.57,635.44 297.12,635.54 297.67,635.63 298.22,635.73 298.76,635.82 299.31,635.91 299.86,636.00 300.41,636.10 300.96,636.19 301.50,636.28 302.05,636.37 302.60,636.46 303.15,636.54 303.70,636.63 304.25,636.72 304.80,636.81 305.34,636.89 305.89,636.98 306.44,637.06 306.99,637.15 307.54,637.23 308.09,637.31 308.63,637.40 309.18,637.48 309.73,637.56 310.28,637.64 310.83,637.72 311.38,637.80 311.92,637.88 312.47,637.96 313.02,638.04 313.57,638.12 314.12,638.19 314.67,638.27 315.21,638.35 315.76,638.42 316.31,638.50 316.86,638.57 317.41,638.65 317.96,638.72 318.50,638.79 319.05,638.87 319.60,638.94" fill="none" stroke="#9467bd" stroke-width="2.0" stroke-linejoin="round"/>
<polyline points="253.80,650.10 254.35,649.64 254.90,649.18 255.45,648.74 255.99,648.30 256.54,647.88 257.09,647.46 257.64,647.05 258.19,646.65 258.74,646.26 259.28,645.87 259.83,645.50 260.38,645.13 260.93,644.77 261.48,644.41 262.03,644.07 262.57,643.73 263.12,643.40 263.67,643.07 264.22,642.76 264.77,642.44 265.31,642.14 265.86,641.84 266.41,641.55 266.96,641.26 267.51,640.98 268.06,640.71 268.61,640.44 269.15,640.18 269.70,639.92 270.25,639.67 270.80,639.42 271.35,639.18 271.90,638.94 272.44,638.71 272.99,638.48 273.54,638.26 274.09,638.04 274.64,637.83 275.19,637.62 275.73,637.41 276.28,637.21 276.83,637.02 277.38,636.83 277.93,636.64 278.48,636.45 279.02,636.27 279.57,636.10 280.12,635.92 280.67,635.76 281.22,635.59 281.76,635.43 282.31,635.27 282.86,635.11 283.41,634.96 283.96,634.81 284.51,634.66 285.06,634.52 285.60,634.38 286.15,634.24 286.70,634.11 287.25,634.22 287.80,634.32 288.35,634.43 288.89,634.54 289.44,634.64 289.99,634.75 290.54,634.85 291.09,634.95 291.63,635.05 292.18,635.15 292.73,635.26 293.28,635.36 293.83,635.45 294.38,635.55 294.93,635.65 295.47,635.75 296.02,635.85 296.57,635.94 297.12,636.04 297.67,636.13 298.22,636.23 298.76,636.32 299.31,636.41 299.86,636.50 300.41,636.60 300.96,636.69 301.50,636.78 302.05,636.87 302.60,636.96 303.15,637.04 303.70,637.13 304.25,637.22 304.80,637.31 305.34,637.39 305.89,637.48 306.44,637.56 306.99,637.65 307.54,637.73 308.09,637.81 308.63,637.90 309.18,637.98 309.73,638.06 310.28,638.14 310.83,638.22 311.38,638.30 311.92,638.38 312.47,638.46 313.02,638.54 313.57,638.62 314.12,638.69 314.67,638.77 315.21,638.85 315.76,638.92 316.31,639.00 316.86,639.07 317.41,639.15 317.96,639.22 318.50,639.29 319.05,639.37 319.60,639.44" fill="none" stroke="#111" stroke-width="0.9" stroke-linejoin="round"/>
<polyline points="253.80,649.60 254.35,648.60 254.90,647.63 255.45,646.69 255.99,645.78 256.54,644.90 257.09,644.05 257.64,643.22 258.19,642.43 258.74,641.66 259.28,640.91 259.83,640.19 260.38,639.49 260.93,638.81 261.48,638.16 262.03,637.53 262.57,636.92 263.12,636.32 263.67,635.75 264.22,635.20 264.77,634.66 265.31,634.14 265.86,633.64 266.41,633.16 266.96,632.69 267.51,632.23 268.06,631.79 268.61,631.37 269.15,630.95 269.70,630.56 270.25,630.17 270.80,629.80 271.35,629.44 271.90,629.09 272.44,628.75 272.99,628.42 273.54,628.11 274.09,627.80 274.64,627.50 275.19,627.22 275.73,626.94 276.28,626.67 276.83,626.41 277.38,626.16 277.93,625.92 278.48,625.68 279.02,625.46 279.57,625.24 280.12,625.02 280.67,624.82 281.22,624.62 281.76,624.43 282.31,624.24 282.86,624.06 283.41,623.88 283.96,623.72 284.51,623.55 285.06,623.39 285.60,623.24 286.15,623.09 286.70,622.95 287.25,623.14 287.80,623.33 288.35,623.52 288.89,623.70 289.44,623.89 289.99,624.07 290.54,624.26 291.09,624.44 291.63,624.62 292.18,624.80 292.73,624.97 293.28,625.15 293.83,625.32 294.38,625.50 294.93,625.67 295.47,625.84 296.02,626.01 296.57,626.18 297.12,626.35 297.67,626.51 298.22,626.68 298.76,626.84 299.31,627.01 299.86,627.17 300.41,627.33 300.96,627.49 301.50,627.65 302.05,627.80 302.60,627.96 303.15,628.11 303.70,628.27 304.25,628.42 304.80,628.57 305.34,628.72 305.89,628.87 306.44,629.02 306.99,629.17 307.54,629.31 308.09,629.46 308.63,629.60 309.18,629.75 309.73,629.89 310.28,630.03 310.83,630.17 311.38,630.31 311.92,630.45 312.47,630.58 313.02,630.72 313.57,630.85 314.12,630.99 314.67,631.12 315.21,631.25 315.76,631.38 316.31,631.51 316.86,631.64 317.41,631.77 317.96,631.90 318.50,632.03 319.05,632.15 319.60,632.28" fill="none" stroke="#d62728" stroke-width="2.0" stroke-linejoin="round"/>
<polyline points="253.80,650.10 254.35,649.10 254.90,648.13 255.45,647.19 255.99,646.28 256.54,645.40 257.09,644.55 257.64,643.72 258.19,642.93 258.74,642.16 259.28,641.41 259.83,640.69 260.38,639.99 260.93,639.31 261.48,638.66 262.03,638.03 262.57,637.42 263.12,636.82 263.67,636.25 264.22,635.70 264.77,635.16 265.31,634.64 265.86,634.14 266.41,633.66 266.96,633.19 267.51,632.73 268.06,632.29 268.61,631.87 269.15,631.45 269.70,631.06 270.25,630.67 270.80,630.30 271.35,629.94 271.90,629.59 272.44,629.25 272.99,628.92 273.54,628.61 274.09,628.30 274.64,628.00 275.19,627.72 275.73,627.44 276.28,627.17 276.83,626.91 277.38,626.66 277.93,626.42 278.48,626.18 279.02,625.96 279.57,625.74 280.12,625.52 280.67,625.32 281.22,625.12 281.76,624.93 282.31,624.74 282.86,624.56 283.41,624.38 283.96,624.22 284.51,624.05 285.06,623.89 285.60,623.74 286.15,623.59 286.70,623.45 287.25,623.64 287.80,623.83 288.35,624.02 288.89,624.20 289.44,624.39 289.99,624.57 290.54,624.76 291.09,624.94 291.63,625.12 292.18,625.30 292.73,625.47 293.28,625.65 293.83,625.82 294.38,626.00 294.93,626.17 295.47,626.34 296.02,626.51 296.57,626.68 297.12,626.85 297.67,627.01 298.22,627.18 298.76,627.34 299.31,627.51 299.86,627.67 300.41,627.83 300.96,627.99 301.50,628.15 302.05,628.30 302.60,628.46 303.15,628.61 303.70,628.77 304.25,628.92 304.80,629.07 305.34,629.22 305.89,629.37 306.44,629.52 306.99,629.67 307.54,629.81 308.09,629.96 308.63,630.10 309.18,630.25 309.73,630.39 310.28,630.53 310.83,630.67 311.38,630.81 311.92,630.95 312.47,631.08 313.02,631.22 313.57,631.35 314.12,631.49 314.67,631.62 315.21,631.75 315.76,631.88 316.31,632.01 316.86,632.14 317.41,632.27 317.96,632.40 318.50,632.53 319.05,632.65 319.60,632.78" fill="none" stroke="#111" stroke-width="0.9" stroke-linejoin="round"/>
<polyline points="253.80,649.60 254.35,647.75 254.90,645.98 255.45,644.30 255.99,642.69 256.54,641.17 257.09,639.71 257.64,638.32 258.19,637.00 258.74,635.73 259.28,634.53 259.83,633.38 260.38,632.29 260.93,631.25 261.48,630.26 262.03,629.31 262.57,628.41 263.12,627.55 263.67,626.73 264.22,625.95 264.77,625.21 265.31,624.50 265.86,623.82 266.41,623.18 266.96,622.56 267.51,621.98 268.06,621.42 268.61,620.89 269.15,620.38 269.70,619.90 270.25,619.44 270.80,619.00 271.35,618.58 271.90,618.18 272.44,617.80 272.99,617.44 273.54,617.09 274.09,616.76 274.64,616.45 275.19,616.15 275.73,615.87 276.28,615.59 276.83,615.34 277.38,615.09 277.93,614.85 278.48,614.63 279.02,614.42 279.57,614.21 280.12,614.02 280.67,613.83 281.22,613.66 281.76,613.49 282.31,613.33 282.86,613.18 283.41,613.03 283.96,612.89 284.51,612.76 285.06,612.63 285.60,612.51 286.15,612.40 286.70,612.29 287.25,612.56 287.80,612.84 288.35,613.11 288.89,613.37 289.44,613.64 289.99,613.90 290.54,614.16 291.09,614.42 291.63,614.68 292.18,614.94 292.73,615.19 293.28,615.45 293.83,615.70 294.38,615.94 294.93,616.19 295.47,616.44 296.02,616.68 296.57,616.92 297.12,617.16 297.67,617.40 298.22,617.64 298.76,617.87 299.31,618.10 299.86,618.33 300.41,618.56 300.96,618.79 301.50,619.02 302.05,619.24 302.60,619.46 303.15,619.69 303.70,619.90 304.25,620.12 304.80,620.34 305.34,620.55 305.89,620.77 306.44,620.98 306.99,621.19 307.54,621.40 308.09,621.60 308.63,621.81 309.18,622.01 309.73,622.22 310.28,622.42 310.83,622.62 311.38,622.81 311.92,623.01 312.47,623.21 313.02,623.40 313.57,623.59 314.12,623.78 314.67,623.97 315.21,624.16 315.76,624.35 316.31,624.53 316.86,624.72 317.41,624.90 317.96,625.08 318.50,625.26 319.05,625.44 319.60,625.62" fill="none" stroke="#2ca02c" stroke-width="2.0" stroke-linejoin="round"/>
<polyline points="253.80,650.10 254.35,648.25 254.90,646.48 255.45,644.80 255.99,643.19 256.54,641.67 257.09,640.21 257.64,638.82 258.19,637.50 258.74,636.23 259.28,635.03 259.83,633.88 260.38,632.79 260.93,631.75 261.48,630.76 262.03,629.81 262.57,628.91 263.12,628.05 263.67,627.23 264.22,626.45 264.77,625.71 265.31,625.00 265.86,624.32 266.41,623.68 266.96,623.06 267.51,622.48 268.06,621.92 268.61,621.39 269.15,620.88 269.70,620.40 270.25,619.94 270.80,619.50 271.35,619.08 271.90,618.68 272.44,618.30 272.99,617.94 273.54,617.59 274.09,617.26 274.64,616.95 275.19,616.65 275.73,616.37 276.28,616.09 276.83,615.84 277.38,615.59 277.93,615.35 278.48,615.13 279.02,614.92 279.57,614.71 280.12,614.52 280.67,614.33 281.22,614.16 281.76,613.99 282.31,613.83 282.86,613.68 283.41,613.53 283.96,613.39 284.51,613.26 285.06,613.13 285.60,613.01 286.15,612.90 286.70,612.79 287.25,613.06 287.80,613.34 288.35,613.61 288.89,613.87 289.44,614.14 289.99,614.40 290.54,614.66 291.09,614.92 291.63,615.18 292.18,615.44 292.73,615.69 293.28,615.95 293.83,616.20 294.38,616.44 294.93,616.69 295.47,616.94 296.02,617.18 296.57,617.42 297.12,617.66 297.67,617.90 298.22,618.14 298.76,618.37 299.31,618.60 299.86,618.83 300.41,619.06 300.96,619.29 301.50,619.52 302.05,619.74 302.60,619.96 303.15,620.19 303.70,620.40 304.25,620.62 304.80,620.84 305.34,621.05 305.89,621.27 306.44,621.48 306.99,621.69 307.54,621.90 308.09,622.10 308.63,622.31 309.18,622.51 309.73,622.72 310.28,622.92 310.83,623.12 311.38,623.31 311.92,623.51 312.47,623.71 313.02,623.90 313.57,624.09 314.12,624.28 314.67,624.47 315.21,624.66 315.76,624.85 316.31,625.03 316.86,625.22 317.41,625.40 317.96,625.58 318.50,625.76 319.05,625.94 319.60,626.12" fill="none" stroke="#111" stroke-width="0.9" stroke-linejoin="round"/>
<polyline points="253.80,649.60 254.35,645.68 254.90,642.10 255.45,638.83 255.99,635.84 256.54,633.11 257.09,630.61 257.64,628.33 258.19,626.24 258.74,624.34 259.28,622.59 259.83,621.00 260.38,619.54 260.93,618.21 261.48,617.00 262.03,615.89 262.57,614.87 263.12,613.94 263.67,613.10 264.22,612.32 264.77,611.61 265.31,610.96 265.86,610.37 266.41,609.83 266.96,609.34 267.51,608.89 268.06,608.47 268.61,608.10 269.15,607.75 269.70,607.44 270.25,607.15 270.80,606.88 271.35,606.64 271.90,606.42 272.44,606.22 272.99,606.04 273.54,605.87 274.09,605.72 274.64,605.58 275.19,605.45 275.73,605.33 276.28,605.23 276.83,605.13 277.38,605.04 277.93,604.96 278.48,604.88 279.02,604.81 279.57,604.75 280.12,604.69 280.67,604.64 281.22,604.60 281.76,604.55 282.31,604.51 282.86,604.48 283.41,604.44 283.96,604.41 284.51,604.38 285.06,604.36 285.60,604.34 286.15,604.31 286.70,604.29 287.25,604.62 287.80,604.95 288.35,605.27 288.89,605.59 289.44,605.91 289.99,606.22 290.54,606.54 291.09,606.85 291.63,607.16 292.18,607.47 292.73,607.77 293.28,608.07 293.83,608.37 294.38,608.67 294.93,608.97 295.47,609.26 296.02,609.55 296.57,609.84 297.12,610.13 297.67,610.41 298.22,610.70 298.76,610.98 299.31,611.26 299.86,611.54 300.41,611.81 300.96,612.08 301.50,612.35 302.05,612.62 302.60,612.89 303.15,613.16 303.70,613.42 304.25,613.68 304.80,613.94 305.34,614.20 305.89,614.46 306.44,614.71 306.99,614.96 307.54,615.21 308.09,615.46 308.63,615.71 309.18,615.95 309.73,616.20 310.28,616.44 310.83,616.68 311.38,616.91 311.92,617.15 312.47,617.39 313.02,617.62 313.57,617.85 314.12,618.08 314.67,618.31 315.21,618.53 315.76,618.76 316.31,618.98 316.86,619.20 317.41,619.42 317.96,619.64 318.50,619.86 319.05,620.07 319.60,620.28" fill="none" stroke="#ff7f0e" stroke-width="2.0" stroke-linejoin="round"/>
<polyline points="253.80,650.10 254.35,646.18 254.90,642.60 255.45,639.33 255.99,636.34 256.54,633.61 257.09,631.11 257.64,628.83 258.19,626.74 258.74,624.84 259.28,623.09 259.83,621.50 260.38,620.04 260.93,618.71 261.48,617.50 262.03,616.39 262.57,615.37 263.12,614.44 263.67,613.60 264.22,612.82 264.77,612.11 265.31,611.46 265.86,610.87 266.41,610.33 266.96,609.84 267.51,609.39 268.06,608.97 268.61,608.60 269.15,608.25 269.70,607.94 270.25,607.65 270.80,607.38 271.35,607.14 271.90,606.92 272.44,606.72 272.99,606.54 273.54,606.37 274.09,606.22 274.64,606.08 275.19,605.95 275.73,605.83 276.28,605.73 276.83,605.63 277.38,605.54 277.93,605.46 278.48,605.38 279.02,605.31 279.57,605.25 280.12,605.19 280.67,605.14 281.22,605.10 281.76,605.05 282.31,605.01 282.86,604.98 283.41,604.94 283.96,604.91 284.51,604.88 285.06,604.86 285.60,604.84 286.15,604.81 286.70,604.79 287.25,605.12 287.80,605.45 288.35,605.77 288.89,606.09 289.44,606.41 289.99,606.72 290.54,607.04 291.09,607.35 291.63,607.66 292.18,607.97 292.73,608.27 293.28,608.57 293.83,608.87 294.38,609.17 294.93,609.47 295.47,609.76 296.02,610.05 296.57,610.34 297.12,610.63 297.67,610.91 298.22,611.20 298.76,611.48 299.31,611.76 299.86,612.04 300.41,612.31 300.96,612.58 301.50,612.85 302.05,613.12 302.60,613.39 303.15,613.66 303.70,613.92 304.25,614.18 304.80,614.44 305.34,614.70 305.89,614.96 306.44,615.21 306.99,615.46 307.54,615.71 308.09,615.96 308.63,616.21 309.18,616.45 309.73,616.70 310.28,616.94 310.83,617.18 311.38,617.41 311.92,617.65 312.47,617.89 313.02,618.12 313.57,618.35 314.12,618.58 314.67,618.81 315.21,619.03 315.76,619.26 316.31,619.48 316.86,619.70 317.41,619.92 317.96,620.14 318.50,620.36 319.05,620.57 319.60,620.78" fill="none" stroke="#111" stroke-width="0.9" stroke-linejoin="round"/>
<polyline points="253.80,649.60 254.35,642.66 254.90,636.68 255.45,631.54 255.99,627.11 256.54,623.30 257.09,620.02 257.64,617.20 258.19,614.77 258.74,612.68 259.28,610.88 259.83,609.33 260.38,608.00 260.93,606.85 261.48,605.86 262.03,605.01 262.57,604.28 263.12,603.65 263.67,603.11 264.22,602.64 264.77,602.24 265.31,601.89 265.86,601.60 266.41,601.34 266.96,601.12 267.51,600.93 268.06,600.77 268.61,600.63 269.15,600.51 269.70,600.40 270.25,600.31 270.80,600.23 271.35,600.17 271.90,600.11 272.44,600.06 272.99,600.02 273.54,599.98 274.09,599.95 274.64,599.93 275.19,599.90 275.73,599.88 276.28,599.86 276.83,599.85 277.38,599.84 277.93,599.83 278.48,599.82 279.02,599.81 279.57,599.80 280.12,599.80 280.67,599.79 281.22,599.79 281.76,599.78 282.31,599.78 282.86,599.78 283.41,599.77 283.96,599.77 284.51,599.77 285.06,599.77 285.60,599.77 286.15,599.77 286.70,599.76 287.25,600.13 287.80,600.50 288.35,600.86 288.89,601.22 289.44,601.57 289.99,601.93 290.54,602.28 291.09,602.63 291.63,602.97 292.18,603.32 292.73,603.66 293.28,604.00 293.83,604.33 294.38,604.67 294.93,605.00 295.47,605.32 296.02,605.65 296.57,605.97 297.12,606.30 297.67,606.61 298.22,606.93 298.76,607.25 299.31,607.56 299.86,607.87 300.41,608.17 300.96,608.48 301.50,608.78 302.05,609.08 302.60,609.38 303.15,609.68 303.70,609.97 304.25,610.26 304.80,610.55 305.34,610.84 305.89,611.13 306.44,611.41 306.99,611.69 307.54,611.97 308.09,612.25 308.63,612.52 309.18,612.80 309.73,613.07 310.28,613.34 310.83,613.60 311.38,613.87 311.92,614.13 312.47,614.39 313.02,614.65 313.57,614.91 314.12,615.17 314.67,615.42 315.21,615.67 315.76,615.92 316.31,616.17 316.86,616.42 317.41,616.66 317.96,616.90 318.50,617.14 319.05,617.38 319.60,617.62" fill="none" stroke="#1f77b4" stroke-width="2.0" stroke-linejoin="round"/>
<polyline points="253.80,650.10 254.35,643.16 254.90,637.18 255.45,632.04 255.99,627.61 256.54,623.80 257.09,620.52 257.64,617.70 258.19,615.27 258.74,613.18 259.28,611.38 259.83,609.83 260.38,608.50 260.93,607.35 261.48,606.36 262.03,605.51 262.57,604.78 263.12,604.15 263.67,603.61 264.22,603.14 264.77,602.74 265.31,602.39 265.86,602.10 266.41,601.84 266.96,601.62 267.51,601.43 268.06,601.27 268.61,601.13 269.15,601.01 269.70,600.90 270.25,600.81 270.80,600.73 271.35,600.67 271.90,600.61 272.44,600.56 272.99,600.52 273.54,600.48 274.09,600.45 274.64,600.43 275.19,600.40 275.73,600.38 276.28,600.36 276.83,600.35 277.38,600.34 277.93,600.33 278.48,600.32 279.02,600.31 279.57,600.30 280.12,600.30 280.67,600.29 281.22,600.29 281.76,600.28 282.31,600.28 282.86,600.28 283.41,600.27 283.96,600.27 284.51,600.27 285.06,600.27 285.60,600.27 286.15,600.27 286.70,600.26 287.25,600.63 287.80,601.00 288.35,601.36 288.89,601.72 289.44,602.07 289.99,602.43 290.54,602.78 291.09,603.13 291.63,603.47 292.18,603.82 292.73,604.16 293.28,604.50 293.83,604.83 294.38,605.17 294.93,605.50 295.47,605.82 296.02,606.15 296.57,606.47 297.12,606.80 297.67,607.11 298.22,607.43 298.76,607.75 299.31,608.06 299.86,608.37 300.41,608.67 300.96,608.98 301.50,609.28 302.05,609.58 302.60,609.88 303.15,610.18 303.70,610.47 304.25,610.76 304.80,611.05 305.34,611.34 305.89,611.63 306.44,611.91 306.99,612.19 307.54,612.47 308.09,612.75 308.63,613.02 309.18,613.30 309.73,613.57 310.28,613.84 310.83,614.10 311.38,614.37 311.92,614.63 312.47,614.89 313.02,615.15 313.57,615.41 314.12,615.67 314.67,615.92 315.21,616.17 315.76,616.42 316.31,616.67 316.86,616.92 317.41,617.16 317.96,617.40 318.50,617.64 319.05,617.88 319.60,618.12" fill="none" stroke="#111" stroke-width="0.9" stroke-linejoin="round"/>
<line x1="253.80" y1="595.70" x2="253.80" y2="650.20" stroke="#000" stroke-width="1.3" />
<line x1="253.20" y1="649.60" x2="319.60" y2="649.60" stroke="#000" stroke-width="1.3" />
<line x1="249.00" y1="649.60" x2="253.80" y2="649.60" stroke="#000" stroke-width="1.1" />
<text x="243.8" y="652.5" font-size="8.0" text-anchor="end" fill="#111" >0.0</text>
<line x1="249.00" y1="636.27" x2="253.80" y2="636.27" stroke="#000" stroke-width="1.1" />
<text x="243.8" y="639.175" font-size="8.0" text-anchor="end" fill="#111" >0.5</text>
<line x1="249.00" y1="622.95" x2="253.80" y2="622.95" stroke="#000" stroke-width="1.1" />
<text x="243.8" y="625.85" font-size="8.0" text-anchor="end" fill="#111" >1.0</text>
<line x1="249.00" y1="609.62" x2="253.80" y2="609.62" stroke="#000" stroke-width="1.1" />
<text x="243.8" y="612.525" font-size="8.0" text-anchor="end" fill="#111" >1.5</text>
<line x1="249.00" y1="596.30" x2="253.80" y2="596.30" stroke="#000" stroke-width="1.1" />
<text x="243.8" y="599.1999999999999" font-size="8.0" text-anchor="end" fill="#111" >2.0</text>
<line x1="253.80" y1="649.60" x2="253.80" y2="654.20" stroke="#000" stroke-width="1.1" />
<text x="253.8" y="664.8000000000001" font-size="8.0" text-anchor="middle" fill="#111" >0</text>
<line x1="286.70" y1="649.60" x2="286.70" y2="654.20" stroke="#000" stroke-width="1.1" />
<text x="286.70000000000005" y="664.8000000000001" font-size="8.0" text-anchor="middle" fill="#111" >180</text>
<line x1="319.60" y1="649.60" x2="319.60" y2="654.20" stroke="#000" stroke-width="1.1" />
<text x="319.6" y="664.8000000000001" font-size="8.0" text-anchor="middle" fill="#111" >360</text>
<text x="286.70000000000005" y="677.9" font-size="8.2" text-anchor="middle" fill="#111" >Time (s)</text>
<text transform="translate(225.3,622.95) rotate(-90)" font-size="8.2" text-anchor="middle" fill="#111">Response (nm)</text>
<line x1="324.40" y1="596.30" x2="330.80" y2="596.30" stroke="#1f77b4" stroke-width="1.6" />
<text x="332.7" y="599.0" font-size="7.8" letter-spacing="0.32" fill="#3c3c3c">5.0×10<tspan font-size="5.6" dy="-3.1" letter-spacing="0.1">−7</tspan></text>
<line x1="324.40" y1="606.90" x2="330.80" y2="606.90" stroke="#ff7f0e" stroke-width="1.6" />
<text x="332.7" y="609.6" font-size="7.8" letter-spacing="0.32" fill="#3c3c3c">2.5×10<tspan font-size="5.6" dy="-3.1" letter-spacing="0.1">−7</tspan></text>
<line x1="324.40" y1="617.50" x2="330.80" y2="617.50" stroke="#2ca02c" stroke-width="1.6" />
<text x="332.7" y="620.2" font-size="7.8" letter-spacing="0.32" fill="#3c3c3c">1.2×10<tspan font-size="5.6" dy="-3.1" letter-spacing="0.1">−7</tspan></text>
<line x1="324.40" y1="628.10" x2="330.80" y2="628.10" stroke="#d62728" stroke-width="1.6" />
<text x="332.7" y="630.8" font-size="7.8" letter-spacing="0.32" fill="#3c3c3c">6.2×10<tspan font-size="5.6" dy="-3.1" letter-spacing="0.1">−8</tspan></text>
<line x1="324.40" y1="638.70" x2="330.80" y2="638.70" stroke="#9467bd" stroke-width="1.6" />
<text x="332.7" y="641.4" font-size="7.8" letter-spacing="0.32" fill="#3c3c3c">3.1×10<tspan font-size="5.6" dy="-3.1" letter-spacing="0.1">−8</tspan></text>
<line x1="324.40" y1="649.30" x2="330.80" y2="649.30" stroke="#8c564b" stroke-width="1.6" />
<text x="332.7" y="652.0" font-size="7.8" letter-spacing="0.32" fill="#3c3c3c">1.6×10<tspan font-size="5.6" dy="-3.1" letter-spacing="0.1">−8</tspan></text>
<rect x="416" y="468.8" width="69.39999999999998" height="11.199999999999989" fill="#f9b0d9"/>
<text x="450.7" y="477.6" font-size="9" text-anchor="middle">K<tspan font-size="6.5" dy="2">D</tspan><tspan dy="-2">: n.d.</tspan></text>
<polyline points="414.00,538.60 414.55,538.59 415.09,538.57 415.64,538.56 416.19,538.55 416.73,538.54 417.28,538.53 417.83,538.53 418.37,538.52 418.92,538.51 419.47,538.51 420.01,538.50 420.56,538.50 421.11,538.50 421.65,538.49 422.20,538.49 422.75,538.49 423.29,538.49 423.84,538.48 424.39,538.48 424.93,538.48 425.48,538.48 426.03,538.48 426.57,538.48 427.12,538.48 427.67,538.47 428.21,538.47 428.76,538.47 429.31,538.47 429.85,538.47 430.40,538.47 430.95,538.47 431.49,538.47 432.04,538.47 432.59,538.47 433.13,538.47 433.68,538.47 434.23,538.47 434.77,538.47 435.32,538.47 435.87,538.47 436.41,538.47 436.96,538.47 437.51,538.47 438.05,538.47 438.60,538.47 439.15,538.47 439.69,538.47 440.24,538.47 440.79,538.47 441.33,538.47 441.88,538.47 442.43,538.47 442.97,538.47 443.52,538.47 444.07,538.47 444.61,538.47 445.16,538.47 445.71,538.47 446.25,538.47 446.80,538.47 447.35,538.48 447.89,538.49 448.44,538.49 448.99,538.50 449.53,538.51 450.08,538.52 450.63,538.53 451.17,538.54 451.72,538.55 452.27,538.56 452.81,538.56 453.36,538.57 453.91,538.58 454.45,538.59 455.00,538.60 455.55,538.61 456.09,538.62 456.64,538.63 457.19,538.64 457.73,538.64 458.28,538.65 458.83,538.66 459.37,538.67 459.92,538.68 460.47,538.69 461.01,538.70 461.56,538.71 462.11,538.71 462.65,538.72 463.20,538.73 463.75,538.74 464.29,538.75 464.84,538.76 465.39,538.77 465.93,538.78 466.48,538.78 467.03,538.79 467.57,538.80 468.12,538.81 468.67,538.82 469.21,538.83 469.76,538.84 470.31,538.85 470.85,538.85 471.40,538.86 471.95,538.87 472.49,538.88 473.04,538.89 473.59,538.90 474.13,538.91 474.68,538.92 475.23,538.92 475.77,538.93 476.32,538.94 476.87,538.95 477.41,538.96 477.96,538.97 478.51,538.98 479.05,538.99 479.60,539.00" fill="none" stroke="#8c564b" stroke-width="2.0" stroke-linejoin="round"/>
<polyline points="414.00,539.10 414.55,539.09 415.09,539.07 415.64,539.06 416.19,539.05 416.73,539.04 417.28,539.03 417.83,539.03 418.37,539.02 418.92,539.01 419.47,539.01 420.01,539.00 420.56,539.00 421.11,539.00 421.65,538.99 422.20,538.99 422.75,538.99 423.29,538.99 423.84,538.98 424.39,538.98 424.93,538.98 425.48,538.98 426.03,538.98 426.57,538.98 427.12,538.98 427.67,538.97 428.21,538.97 428.76,538.97 429.31,538.97 429.85,538.97 430.40,538.97 430.95,538.97 431.49,538.97 432.04,538.97 432.59,538.97 433.13,538.97 433.68,538.97 434.23,538.97 434.77,538.97 435.32,538.97 435.87,538.97 436.41,538.97 436.96,538.97 437.51,538.97 438.05,538.97 438.60,538.97 439.15,538.97 439.69,538.97 440.24,538.97 440.79,538.97 441.33,538.97 441.88,538.97 442.43,538.97 442.97,538.97 443.52,538.97 444.07,538.97 444.61,538.97 445.16,538.97 445.71,538.97 446.25,538.97 446.80,538.97 447.35,538.98 447.89,538.99 448.44,538.99 448.99,539.00 449.53,539.01 450.08,539.02 450.63,539.03 451.17,539.04 451.72,539.05 452.27,539.06 452.81,539.06 453.36,539.07 453.91,539.08 454.45,539.09 455.00,539.10 455.55,539.11 456.09,539.12 456.64,539.13 457.19,539.14 457.73,539.14 458.28,539.15 458.83,539.16 459.37,539.17 459.92,539.18 460.47,539.19 461.01,539.20 461.56,539.21 462.11,539.21 462.65,539.22 463.20,539.23 463.75,539.24 464.29,539.25 464.84,539.26 465.39,539.27 465.93,539.28 466.48,539.28 467.03,539.29 467.57,539.30 468.12,539.31 468.67,539.32 469.21,539.33 469.76,539.34 470.31,539.35 470.85,539.35 471.40,539.36 471.95,539.37 472.49,539.38 473.04,539.39 473.59,539.40 474.13,539.41 474.68,539.42 475.23,539.42 475.77,539.43 476.32,539.44 476.87,539.45 477.41,539.46 477.96,539.47 478.51,539.48 479.05,539.49 479.60,539.50" fill="none" stroke="#111" stroke-width="0.9" stroke-linejoin="round"/>
<polyline points="414.00,538.60 414.55,538.60 415.09,538.60 415.64,538.60 416.19,538.60 416.73,538.60 417.28,538.60 417.83,538.60 418.37,538.60 418.92,538.60 419.47,538.60 420.01,538.60 420.56,538.60 421.11,538.60 421.65,538.60 422.20,538.60 422.75,538.60 423.29,538.60 423.84,538.60 424.39,538.60 424.93,538.60 425.48,538.60 426.03,538.60 426.57,538.60 427.12,538.60 427.67,538.60 428.21,538.60 428.76,538.60 429.31,538.60 429.85,538.60 430.40,538.60 430.95,538.60 431.49,538.60 432.04,538.60 432.59,538.60 433.13,538.60 433.68,538.60 434.23,538.60 434.77,538.60 435.32,538.60 435.87,538.60 436.41,538.60 436.96,538.60 437.51,538.60 438.05,538.60 438.60,538.60 439.15,538.60 439.69,538.60 440.24,538.60 440.79,538.60 441.33,538.60 441.88,538.60 442.43,538.60 442.97,538.60 443.52,538.60 444.07,538.60 444.61,538.60 445.16,538.60 445.71,538.60 446.25,538.60 446.80,538.60 447.35,538.61 447.89,538.62 448.44,538.63 448.99,538.64 449.53,538.64 450.08,538.65 450.63,538.66 451.17,538.67 451.72,538.68 452.27,538.69 452.81,538.70 453.36,538.71 453.91,538.71 454.45,538.72 455.00,538.73 455.55,538.74 456.09,538.75 456.64,538.76 457.19,538.77 457.73,538.78 458.28,538.78 458.83,538.79 459.37,538.80 459.92,538.81 460.47,538.82 461.01,538.83 461.56,538.84 462.11,538.85 462.65,538.85 463.20,538.86 463.75,538.87 464.29,538.88 464.84,538.89 465.39,538.90 465.93,538.91 466.48,538.92 467.03,538.92 467.57,538.93 468.12,538.94 468.67,538.95 469.21,538.96 469.76,538.97 470.31,538.98 470.85,538.99 471.40,539.00 471.95,539.00 472.49,539.01 473.04,539.02 473.59,539.03 474.13,539.04 474.68,539.05 475.23,539.06 475.77,539.07 476.32,539.07 476.87,539.08 477.41,539.09 477.96,539.10 478.51,539.11 479.05,539.12 479.60,539.13" fill="none" stroke="#2ca02c" stroke-width="2.0" stroke-linejoin="round"/>
<polyline points="414.00,539.10 414.55,539.10 415.09,539.10 415.64,539.10 416.19,539.10 416.73,539.10 417.28,539.10 417.83,539.10 418.37,539.10 418.92,539.10 419.47,539.10 420.01,539.10 420.56,539.10 421.11,539.10 421.65,539.10 422.20,539.10 422.75,539.10 423.29,539.10 423.84,539.10 424.39,539.10 424.93,539.10 425.48,539.10 426.03,539.10 426.57,539.10 427.12,539.10 427.67,539.10 428.21,539.10 428.76,539.10 429.31,539.10 429.85,539.10 430.40,539.10 430.95,539.10 431.49,539.10 432.04,539.10 432.59,539.10 433.13,539.10 433.68,539.10 434.23,539.10 434.77,539.10 435.32,539.10 435.87,539.10 436.41,539.10 436.96,539.10 437.51,539.10 438.05,539.10 438.60,539.10 439.15,539.10 439.69,539.10 440.24,539.10 440.79,539.10 441.33,539.10 441.88,539.10 442.43,539.10 442.97,539.10 443.52,539.10 444.07,539.10 444.61,539.10 445.16,539.10 445.71,539.10 446.25,539.10 446.80,539.10 447.35,539.11 447.89,539.12 448.44,539.13 448.99,539.14 449.53,539.14 450.08,539.15 450.63,539.16 451.17,539.17 451.72,539.18 452.27,539.19 452.81,539.20 453.36,539.21 453.91,539.21 454.45,539.22 455.00,539.23 455.55,539.24 456.09,539.25 456.64,539.26 457.19,539.27 457.73,539.28 458.28,539.28 458.83,539.29 459.37,539.30 459.92,539.31 460.47,539.32 461.01,539.33 461.56,539.34 462.11,539.35 462.65,539.35 463.20,539.36 463.75,539.37 464.29,539.38 464.84,539.39 465.39,539.40 465.93,539.41 466.48,539.42 467.03,539.42 467.57,539.43 468.12,539.44 468.67,539.45 469.21,539.46 469.76,539.47 470.31,539.48 470.85,539.49 471.40,539.50 471.95,539.50 472.49,539.51 473.04,539.52 473.59,539.53 474.13,539.54 474.68,539.55 475.23,539.56 475.77,539.57 476.32,539.57 476.87,539.58 477.41,539.59 477.96,539.60 478.51,539.61 479.05,539.62 479.60,539.63" fill="none" stroke="#111" stroke-width="0.9" stroke-linejoin="round"/>
<polyline points="414.00,538.60 414.55,538.59 415.09,538.57 415.64,538.56 416.19,538.55 416.73,538.54 417.28,538.53 417.83,538.53 418.37,538.52 418.92,538.51 419.47,538.51 420.01,538.50 420.56,538.50 421.11,538.50 421.65,538.49 422.20,538.49 422.75,538.49 423.29,538.49 423.84,538.48 424.39,538.48 424.93,538.48 425.48,538.48 426.03,538.48 426.57,538.48 427.12,538.48 427.67,538.47 428.21,538.47 428.76,538.47 429.31,538.47 429.85,538.47 430.40,538.47 430.95,538.47 431.49,538.47 432.04,538.47 432.59,538.47 433.13,538.47 433.68,538.47 434.23,538.47 434.77,538.47 435.32,538.47 435.87,538.47 436.41,538.47 436.96,538.47 437.51,538.47 438.05,538.47 438.60,538.47 439.15,538.47 439.69,538.47 440.24,538.47 440.79,538.47 441.33,538.47 441.88,538.47 442.43,538.47 442.97,538.47 443.52,538.47 444.07,538.47 444.61,538.47 445.16,538.47 445.71,538.47 446.25,538.47 446.80,538.47 447.35,538.48 447.89,538.49 448.44,538.49 448.99,538.50 449.53,538.51 450.08,538.52 450.63,538.53 451.17,538.54 451.72,538.55 452.27,538.56 452.81,538.56 453.36,538.57 453.91,538.58 454.45,538.59 455.00,538.60 455.55,538.61 456.09,538.62 456.64,538.63 457.19,538.64 457.73,538.64 458.28,538.65 458.83,538.66 459.37,538.67 459.92,538.68 460.47,538.69 461.01,538.70 461.56,538.71 462.11,538.71 462.65,538.72 463.20,538.73 463.75,538.74 464.29,538.75 464.84,538.76 465.39,538.77 465.93,538.78 466.48,538.78 467.03,538.79 467.57,538.80 468.12,538.81 468.67,538.82 469.21,538.83 469.76,538.84 470.31,538.85 470.85,538.85 471.40,538.86 471.95,538.87 472.49,538.88 473.04,538.89 473.59,538.90 474.13,538.91 474.68,538.92 475.23,538.92 475.77,538.93 476.32,538.94 476.87,538.95 477.41,538.96 477.96,538.97 478.51,538.98 479.05,538.99 479.60,539.00" fill="none" stroke="#ff7f0e" stroke-width="2.0" stroke-linejoin="round"/>
<polyline points="414.00,539.10 414.55,539.09 415.09,539.07 415.64,539.06 416.19,539.05 416.73,539.04 417.28,539.03 417.83,539.03 418.37,539.02 418.92,539.01 419.47,539.01 420.01,539.00 420.56,539.00 421.11,539.00 421.65,538.99 422.20,538.99 422.75,538.99 423.29,538.99 423.84,538.98 424.39,538.98 424.93,538.98 425.48,538.98 426.03,538.98 426.57,538.98 427.12,538.98 427.67,538.97 428.21,538.97 428.76,538.97 429.31,538.97 429.85,538.97 430.40,538.97 430.95,538.97 431.49,538.97 432.04,538.97 432.59,538.97 433.13,538.97 433.68,538.97 434.23,538.97 434.77,538.97 435.32,538.97 435.87,538.97 436.41,538.97 436.96,538.97 437.51,538.97 438.05,538.97 438.60,538.97 439.15,538.97 439.69,538.97 440.24,538.97 440.79,538.97 441.33,538.97 441.88,538.97 442.43,538.97 442.97,538.97 443.52,538.97 444.07,538.97 444.61,538.97 445.16,538.97 445.71,538.97 446.25,538.97 446.80,538.97 447.35,538.98 447.89,538.99 448.44,538.99 448.99,539.00 449.53,539.01 450.08,539.02 450.63,539.03 451.17,539.04 451.72,539.05 452.27,539.06 452.81,539.06 453.36,539.07 453.91,539.08 454.45,539.09 455.00,539.10 455.55,539.11 456.09,539.12 456.64,539.13 457.19,539.14 457.73,539.14 458.28,539.15 458.83,539.16 459.37,539.17 459.92,539.18 460.47,539.19 461.01,539.20 461.56,539.21 462.11,539.21 462.65,539.22 463.20,539.23 463.75,539.24 464.29,539.25 464.84,539.26 465.39,539.27 465.93,539.28 466.48,539.28 467.03,539.29 467.57,539.30 468.12,539.31 468.67,539.32 469.21,539.33 469.76,539.34 470.31,539.35 470.85,539.35 471.40,539.36 471.95,539.37 472.49,539.38 473.04,539.39 473.59,539.40 474.13,539.41 474.68,539.42 475.23,539.42 475.77,539.43 476.32,539.44 476.87,539.45 477.41,539.46 477.96,539.47 478.51,539.48 479.05,539.49 479.60,539.50" fill="none" stroke="#111" stroke-width="0.9" stroke-linejoin="round"/>
<polyline points="414.00,538.60 414.55,538.60 415.09,538.60 415.64,538.60 416.19,538.60 416.73,538.60 417.28,538.60 417.83,538.60 418.37,538.60 418.92,538.60 419.47,538.60 420.01,538.60 420.56,538.60 421.11,538.60 421.65,538.60 422.20,538.60 422.75,538.60 423.29,538.60 423.84,538.60 424.39,538.60 424.93,538.60 425.48,538.60 426.03,538.60 426.57,538.60 427.12,538.60 427.67,538.60 428.21,538.60 428.76,538.60 429.31,538.60 429.85,538.60 430.40,538.60 430.95,538.60 431.49,538.60 432.04,538.60 432.59,538.60 433.13,538.60 433.68,538.60 434.23,538.60 434.77,538.60 435.32,538.60 435.87,538.60 436.41,538.60 436.96,538.60 437.51,538.60 438.05,538.60 438.60,538.60 439.15,538.60 439.69,538.60 440.24,538.60 440.79,538.60 441.33,538.60 441.88,538.60 442.43,538.60 442.97,538.60 443.52,538.60 444.07,538.60 444.61,538.60 445.16,538.60 445.71,538.60 446.25,538.60 446.80,538.60 447.35,538.61 447.89,538.62 448.44,538.63 448.99,538.64 449.53,538.64 450.08,538.65 450.63,538.66 451.17,538.67 451.72,538.68 452.27,538.69 452.81,538.70 453.36,538.71 453.91,538.71 454.45,538.72 455.00,538.73 455.55,538.74 456.09,538.75 456.64,538.76 457.19,538.77 457.73,538.78 458.28,538.78 458.83,538.79 459.37,538.80 459.92,538.81 460.47,538.82 461.01,538.83 461.56,538.84 462.11,538.85 462.65,538.85 463.20,538.86 463.75,538.87 464.29,538.88 464.84,538.89 465.39,538.90 465.93,538.91 466.48,538.92 467.03,538.92 467.57,538.93 468.12,538.94 468.67,538.95 469.21,538.96 469.76,538.97 470.31,538.98 470.85,538.99 471.40,539.00 471.95,539.00 472.49,539.01 473.04,539.02 473.59,539.03 474.13,539.04 474.68,539.05 475.23,539.06 475.77,539.07 476.32,539.07 476.87,539.08 477.41,539.09 477.96,539.10 478.51,539.11 479.05,539.12 479.60,539.13" fill="none" stroke="#1f77b4" stroke-width="2.0" stroke-linejoin="round"/>
<polyline points="414.00,539.10 414.55,539.10 415.09,539.10 415.64,539.10 416.19,539.10 416.73,539.10 417.28,539.10 417.83,539.10 418.37,539.10 418.92,539.10 419.47,539.10 420.01,539.10 420.56,539.10 421.11,539.10 421.65,539.10 422.20,539.10 422.75,539.10 423.29,539.10 423.84,539.10 424.39,539.10 424.93,539.10 425.48,539.10 426.03,539.10 426.57,539.10 427.12,539.10 427.67,539.10 428.21,539.10 428.76,539.10 429.31,539.10 429.85,539.10 430.40,539.10 430.95,539.10 431.49,539.10 432.04,539.10 432.59,539.10 433.13,539.10 433.68,539.10 434.23,539.10 434.77,539.10 435.32,539.10 435.87,539.10 436.41,539.10 436.96,539.10 437.51,539.10 438.05,539.10 438.60,539.10 439.15,539.10 439.69,539.10 440.24,539.10 440.79,539.10 441.33,539.10 441.88,539.10 442.43,539.10 442.97,539.10 443.52,539.10 444.07,539.10 444.61,539.10 445.16,539.10 445.71,539.10 446.25,539.10 446.80,539.10 447.35,539.11 447.89,539.12 448.44,539.13 448.99,539.14 449.53,539.14 450.08,539.15 450.63,539.16 451.17,539.17 451.72,539.18 452.27,539.19 452.81,539.20 453.36,539.21 453.91,539.21 454.45,539.22 455.00,539.23 455.55,539.24 456.09,539.25 456.64,539.26 457.19,539.27 457.73,539.28 458.28,539.28 458.83,539.29 459.37,539.30 459.92,539.31 460.47,539.32 461.01,539.33 461.56,539.34 462.11,539.35 462.65,539.35 463.20,539.36 463.75,539.37 464.29,539.38 464.84,539.39 465.39,539.40 465.93,539.41 466.48,539.42 467.03,539.42 467.57,539.43 468.12,539.44 468.67,539.45 469.21,539.46 469.76,539.47 470.31,539.48 470.85,539.49 471.40,539.50 471.95,539.50 472.49,539.51 473.04,539.52 473.59,539.53 474.13,539.54 474.68,539.55 475.23,539.56 475.77,539.57 476.32,539.57 476.87,539.58 477.41,539.59 477.96,539.60 478.51,539.61 479.05,539.62 479.60,539.63" fill="none" stroke="#111" stroke-width="0.9" stroke-linejoin="round"/>
<polyline points="414.00,538.60 414.55,538.61 415.09,538.63 415.64,538.64 416.19,538.65 416.73,538.66 417.28,538.67 417.83,538.67 418.37,538.68 418.92,538.69 419.47,538.69 420.01,538.70 420.56,538.70 421.11,538.70 421.65,538.71 422.20,538.71 422.75,538.71 423.29,538.71 423.84,538.72 424.39,538.72 424.93,538.72 425.48,538.72 426.03,538.72 426.57,538.72 427.12,538.72 427.67,538.73 428.21,538.73 428.76,538.73 429.31,538.73 429.85,538.73 430.40,538.73 430.95,538.73 431.49,538.73 432.04,538.73 432.59,538.73 433.13,538.73 433.68,538.73 434.23,538.73 434.77,538.73 435.32,538.73 435.87,538.73 436.41,538.73 436.96,538.73 437.51,538.73 438.05,538.73 438.60,538.73 439.15,538.73 439.69,538.73 440.24,538.73 440.79,538.73 441.33,538.73 441.88,538.73 442.43,538.73 442.97,538.73 443.52,538.73 444.07,538.73 444.61,538.73 445.16,538.73 445.71,538.73 446.25,538.73 446.80,538.73 447.35,538.75 447.89,538.77 448.44,538.79 448.99,538.81 449.53,538.83 450.08,538.85 450.63,538.87 451.17,538.89 451.72,538.91 452.27,538.93 452.81,538.95 453.36,538.97 453.91,538.99 454.45,539.01 455.00,539.03 455.55,539.05 456.09,539.07 456.64,539.09 457.19,539.11 457.73,539.13 458.28,539.15 458.83,539.17 459.37,539.19 459.92,539.21 460.47,539.23 461.01,539.25 461.56,539.27 462.11,539.29 462.65,539.30 463.20,539.32 463.75,539.34 464.29,539.36 464.84,539.38 465.39,539.40 465.93,539.42 466.48,539.44 467.03,539.46 467.57,539.48 468.12,539.50 468.67,539.52 469.21,539.54 469.76,539.56 470.31,539.58 470.85,539.60 471.40,539.62 471.95,539.64 472.49,539.66 473.04,539.68 473.59,539.70 474.13,539.72 474.68,539.74 475.23,539.76 475.77,539.78 476.32,539.80 476.87,539.82 477.41,539.84 477.96,539.86 478.51,539.88 479.05,539.90 479.60,539.92" fill="none" stroke="#d62728" stroke-width="2.0" stroke-linejoin="round"/>
<polyline points="414.00,539.10 414.55,539.11 415.09,539.13 415.64,539.14 416.19,539.15 416.73,539.16 417.28,539.17 417.83,539.17 418.37,539.18 418.92,539.19 419.47,539.19 420.01,539.20 420.56,539.20 421.11,539.20 421.65,539.21 422.20,539.21 422.75,539.21 423.29,539.21 423.84,539.22 424.39,539.22 424.93,539.22 425.48,539.22 426.03,539.22 426.57,539.22 427.12,539.22 427.67,539.23 428.21,539.23 428.76,539.23 429.31,539.23 429.85,539.23 430.40,539.23 430.95,539.23 431.49,539.23 432.04,539.23 432.59,539.23 433.13,539.23 433.68,539.23 434.23,539.23 434.77,539.23 435.32,539.23 435.87,539.23 436.41,539.23 436.96,539.23 437.51,539.23 438.05,539.23 438.60,539.23 439.15,539.23 439.69,539.23 440.24,539.23 440.79,539.23 441.33,539.23 441.88,539.23 442.43,539.23 442.97,539.23 443.52,539.23 444.07,539.23 444.61,539.23 445.16,539.23 445.71,539.23 446.25,539.23 446.80,539.23 447.35,539.25 447.89,539.27 448.44,539.29 448.99,539.31 449.53,539.33 450.08,539.35 450.63,539.37 451.17,539.39 451.72,539.41 452.27,539.43 452.81,539.45 453.36,539.47 453.91,539.49 454.45,539.51 455.00,539.53 455.55,539.55 456.09,539.57 456.64,539.59 457.19,539.61 457.73,539.63 458.28,539.65 458.83,539.67 459.37,539.69 459.92,539.71 460.47,539.73 461.01,539.75 461.56,539.77 462.11,539.79 462.65,539.80 463.20,539.82 463.75,539.84 464.29,539.86 464.84,539.88 465.39,539.90 465.93,539.92 466.48,539.94 467.03,539.96 467.57,539.98 468.12,540.00 468.67,540.02 469.21,540.04 469.76,540.06 470.31,540.08 470.85,540.10 471.40,540.12 471.95,540.14 472.49,540.16 473.04,540.18 473.59,540.20 474.13,540.22 474.68,540.24 475.23,540.26 475.77,540.28 476.32,540.30 476.87,540.32 477.41,540.34 477.96,540.36 478.51,540.38 479.05,540.40 479.60,540.42" fill="none" stroke="#111" stroke-width="0.9" stroke-linejoin="round"/>
<polyline points="414.00,538.60 414.55,538.53 415.09,538.46 415.64,538.40 416.19,538.35 416.73,538.30 417.28,538.26 417.83,538.23 418.37,538.19 418.92,538.16 419.47,538.14 420.01,538.12 420.56,538.10 421.11,538.08 421.65,538.06 422.20,538.05 422.75,538.04 423.29,538.03 423.84,538.02 424.39,538.01 424.93,538.00 425.48,537.99 426.03,537.99 426.57,537.98 427.12,537.98 427.67,537.97 428.21,537.97 428.76,537.97 429.31,537.96 429.85,537.96 430.40,537.96 430.95,537.96 431.49,537.96 432.04,537.95 432.59,537.95 433.13,537.95 433.68,537.95 434.23,537.95 434.77,537.95 435.32,537.95 435.87,537.95 436.41,537.95 436.96,537.95 437.51,537.95 438.05,537.94 438.60,537.94 439.15,537.94 439.69,537.94 440.24,537.94 440.79,537.94 441.33,537.94 441.88,537.94 442.43,537.94 442.97,537.94 443.52,537.94 444.07,537.94 444.61,537.94 445.16,537.94 445.71,537.94 446.25,537.94 446.80,537.94 447.35,537.95 447.89,537.97 448.44,537.98 448.99,537.99 449.53,538.01 450.08,538.02 450.63,538.03 451.17,538.05 451.72,538.06 452.27,538.07 452.81,538.09 453.36,538.10 453.91,538.11 454.45,538.13 455.00,538.14 455.55,538.15 456.09,538.17 456.64,538.18 457.19,538.19 457.73,538.20 458.28,538.22 458.83,538.23 459.37,538.24 459.92,538.26 460.47,538.27 461.01,538.28 461.56,538.30 462.11,538.31 462.65,538.32 463.20,538.34 463.75,538.35 464.29,538.36 464.84,538.38 465.39,538.39 465.93,538.40 466.48,538.42 467.03,538.43 467.57,538.44 468.12,538.46 468.67,538.47 469.21,538.48 469.76,538.49 470.31,538.51 470.85,538.52 471.40,538.53 471.95,538.55 472.49,538.56 473.04,538.57 473.59,538.59 474.13,538.60 474.68,538.61 475.23,538.63 475.77,538.64 476.32,538.65 476.87,538.67 477.41,538.68 477.96,538.69 478.51,538.71 479.05,538.72 479.60,538.73" fill="none" stroke="#9467bd" stroke-width="2.0" stroke-linejoin="round"/>
<polyline points="414.00,539.10 414.55,539.03 415.09,538.96 415.64,538.90 416.19,538.85 416.73,538.80 417.28,538.76 417.83,538.73 418.37,538.69 418.92,538.66 419.47,538.64 420.01,538.62 420.56,538.60 421.11,538.58 421.65,538.56 422.20,538.55 422.75,538.54 423.29,538.53 423.84,538.52 424.39,538.51 424.93,538.50 425.48,538.49 426.03,538.49 426.57,538.48 427.12,538.48 427.67,538.47 428.21,538.47 428.76,538.47 429.31,538.46 429.85,538.46 430.40,538.46 430.95,538.46 431.49,538.46 432.04,538.45 432.59,538.45 433.13,538.45 433.68,538.45 434.23,538.45 434.77,538.45 435.32,538.45 435.87,538.45 436.41,538.45 436.96,538.45 437.51,538.45 438.05,538.44 438.60,538.44 439.15,538.44 439.69,538.44 440.24,538.44 440.79,538.44 441.33,538.44 441.88,538.44 442.43,538.44 442.97,538.44 443.52,538.44 444.07,538.44 444.61,538.44 445.16,538.44 445.71,538.44 446.25,538.44 446.80,538.44 447.35,538.45 447.89,538.47 448.44,538.48 448.99,538.49 449.53,538.51 450.08,538.52 450.63,538.53 451.17,538.55 451.72,538.56 452.27,538.57 452.81,538.59 453.36,538.60 453.91,538.61 454.45,538.63 455.00,538.64 455.55,538.65 456.09,538.67 456.64,538.68 457.19,538.69 457.73,538.70 458.28,538.72 458.83,538.73 459.37,538.74 459.92,538.76 460.47,538.77 461.01,538.78 461.56,538.80 462.11,538.81 462.65,538.82 463.20,538.84 463.75,538.85 464.29,538.86 464.84,538.88 465.39,538.89 465.93,538.90 466.48,538.92 467.03,538.93 467.57,538.94 468.12,538.96 468.67,538.97 469.21,538.98 469.76,538.99 470.31,539.01 470.85,539.02 471.40,539.03 471.95,539.05 472.49,539.06 473.04,539.07 473.59,539.09 474.13,539.10 474.68,539.11 475.23,539.13 475.77,539.14 476.32,539.15 476.87,539.17 477.41,539.18 477.96,539.19 478.51,539.21 479.05,539.22 479.60,539.23" fill="none" stroke="#111" stroke-width="0.9" stroke-linejoin="round"/>
<line x1="414.00" y1="485.30" x2="414.00" y2="539.20" stroke="#000" stroke-width="1.3" />
<line x1="413.40" y1="538.60" x2="479.60" y2="538.60" stroke="#000" stroke-width="1.3" />
<line x1="409.20" y1="538.60" x2="414.00" y2="538.60" stroke="#000" stroke-width="1.1" />
<text x="404.0" y="541.5" font-size="8.0" text-anchor="end" fill="#111" >0.0</text>
<line x1="409.20" y1="525.42" x2="414.00" y2="525.42" stroke="#000" stroke-width="1.1" />
<text x="404.0" y="528.3249999999999" font-size="8.0" text-anchor="end" fill="#111" >0.1</text>
<line x1="409.20" y1="512.25" x2="414.00" y2="512.25" stroke="#000" stroke-width="1.1" />
<text x="404.0" y="515.15" font-size="8.0" text-anchor="end" fill="#111" >0.2</text>
<line x1="409.20" y1="499.07" x2="414.00" y2="499.07" stroke="#000" stroke-width="1.1" />
<text x="404.0" y="501.97499999999997" font-size="8.0" text-anchor="end" fill="#111" >0.3</text>
<line x1="409.20" y1="485.90" x2="414.00" y2="485.90" stroke="#000" stroke-width="1.1" />
<text x="404.0" y="488.79999999999995" font-size="8.0" text-anchor="end" fill="#111" >0.4</text>
<line x1="414.00" y1="538.60" x2="414.00" y2="543.20" stroke="#000" stroke-width="1.1" />
<text x="414.0" y="553.8000000000001" font-size="8.0" text-anchor="middle" fill="#111" >0</text>
<line x1="446.80" y1="538.60" x2="446.80" y2="543.20" stroke="#000" stroke-width="1.1" />
<text x="446.8" y="553.8000000000001" font-size="8.0" text-anchor="middle" fill="#111" >180</text>
<line x1="479.60" y1="538.60" x2="479.60" y2="543.20" stroke="#000" stroke-width="1.1" />
<text x="479.6" y="553.8000000000001" font-size="8.0" text-anchor="middle" fill="#111" >360</text>
<text x="446.8" y="566.9" font-size="8.2" text-anchor="middle" fill="#111" >Time (s)</text>
<text transform="translate(385.5,512.25) rotate(-90)" font-size="8.2" text-anchor="middle" fill="#111">Response (nm)</text>
<line x1="485.00" y1="486.10" x2="491.40" y2="486.10" stroke="#1f77b4" stroke-width="1.6" />
<text x="493.3" y="488.8" font-size="7.8" letter-spacing="0.32" fill="#3c3c3c">5.0×10<tspan font-size="5.6" dy="-3.1" letter-spacing="0.1">−7</tspan></text>
<line x1="485.00" y1="496.50" x2="491.40" y2="496.50" stroke="#ff7f0e" stroke-width="1.6" />
<text x="493.3" y="499.2" font-size="7.8" letter-spacing="0.32" fill="#3c3c3c">2.5×10<tspan font-size="5.6" dy="-3.1" letter-spacing="0.1">−7</tspan></text>
<line x1="485.00" y1="506.90" x2="491.40" y2="506.90" stroke="#2ca02c" stroke-width="1.6" />
<text x="493.3" y="509.6" font-size="7.8" letter-spacing="0.32" fill="#3c3c3c">1.2×10<tspan font-size="5.6" dy="-3.1" letter-spacing="0.1">−7</tspan></text>
<line x1="485.00" y1="517.30" x2="491.40" y2="517.30" stroke="#d62728" stroke-width="1.6" />
<text x="493.3" y="520.0000000000001" font-size="7.8" letter-spacing="0.32" fill="#3c3c3c">6.2×10<tspan font-size="5.6" dy="-3.1" letter-spacing="0.1">−8</tspan></text>
<line x1="485.00" y1="527.70" x2="491.40" y2="527.70" stroke="#9467bd" stroke-width="1.6" />
<text x="493.3" y="530.4000000000001" font-size="7.8" letter-spacing="0.32" fill="#3c3c3c">3.1×10<tspan font-size="5.6" dy="-3.1" letter-spacing="0.1">−8</tspan></text>
<line x1="485.00" y1="538.10" x2="491.40" y2="538.10" stroke="#8c564b" stroke-width="1.6" />
<text x="493.3" y="540.8000000000001" font-size="7.8" letter-spacing="0.32" fill="#3c3c3c">1.6×10<tspan font-size="5.6" dy="-3.1" letter-spacing="0.1">−8</tspan></text>
<rect x="416" y="579.5" width="69.39999999999998" height="10.5" fill="#72f5b0"/>
<text x="450.7" y="587.6" font-size="9" text-anchor="middle">K<tspan font-size="6.5" dy="2">D</tspan><tspan dy="-2">: n.d.</tspan></text>
<polyline points="414.20,649.60 414.75,649.58 415.29,649.57 415.83,649.56 416.38,649.55 416.93,649.54 417.47,649.53 418.01,649.52 418.56,649.52 419.11,649.51 419.65,649.51 420.19,649.50 420.74,649.50 421.28,649.49 421.83,649.49 422.38,649.49 422.92,649.49 423.46,649.48 424.01,649.48 424.56,649.48 425.10,649.48 425.64,649.48 426.19,649.48 426.74,649.47 427.28,649.47 427.82,649.47 428.37,649.47 428.92,649.47 429.46,649.47 430.00,649.47 430.55,649.47 431.10,649.47 431.64,649.47 432.19,649.47 432.73,649.47 433.27,649.47 433.82,649.47 434.37,649.47 434.91,649.47 435.45,649.47 436.00,649.47 436.55,649.47 437.09,649.47 437.63,649.47 438.18,649.47 438.73,649.47 439.27,649.47 439.81,649.47 440.36,649.47 440.90,649.47 441.45,649.47 442.00,649.47 442.54,649.47 443.08,649.47 443.63,649.47 444.18,649.47 444.72,649.47 445.26,649.47 445.81,649.47 446.36,649.47 446.90,649.47 447.44,649.48 447.99,649.48 448.54,649.49 449.08,649.50 449.62,649.51 450.17,649.52 450.72,649.53 451.26,649.54 451.81,649.55 452.35,649.56 452.89,649.56 453.44,649.57 453.99,649.58 454.53,649.59 455.07,649.60 455.62,649.61 456.17,649.62 456.71,649.63 457.25,649.64 457.80,649.64 458.35,649.65 458.89,649.66 459.44,649.67 459.98,649.68 460.52,649.69 461.07,649.70 461.62,649.71 462.16,649.72 462.71,649.72 463.25,649.73 463.80,649.74 464.34,649.75 464.88,649.76 465.43,649.77 465.98,649.78 466.52,649.79 467.06,649.80 467.61,649.81 468.16,649.81 468.70,649.82 469.25,649.83 469.79,649.84 470.34,649.85 470.88,649.86 471.43,649.87 471.97,649.88 472.52,649.89 473.06,649.89 473.61,649.90 474.15,649.91 474.70,649.92 475.24,649.93 475.79,649.94 476.33,649.95 476.88,649.96 477.42,649.97 477.97,649.97 478.51,649.98 479.06,649.99 479.60,650.00" fill="none" stroke="#8c564b" stroke-width="2.0" stroke-linejoin="round"/>
<polyline points="414.20,650.10 414.75,650.08 415.29,650.07 415.83,650.06 416.38,650.05 416.93,650.04 417.47,650.03 418.01,650.02 418.56,650.02 419.11,650.01 419.65,650.01 420.19,650.00 420.74,650.00 421.28,649.99 421.83,649.99 422.38,649.99 422.92,649.99 423.46,649.98 424.01,649.98 424.56,649.98 425.10,649.98 425.64,649.98 426.19,649.98 426.74,649.97 427.28,649.97 427.82,649.97 428.37,649.97 428.92,649.97 429.46,649.97 430.00,649.97 430.55,649.97 431.10,649.97 431.64,649.97 432.19,649.97 432.73,649.97 433.27,649.97 433.82,649.97 434.37,649.97 434.91,649.97 435.45,649.97 436.00,649.97 436.55,649.97 437.09,649.97 437.63,649.97 438.18,649.97 438.73,649.97 439.27,649.97 439.81,649.97 440.36,649.97 440.90,649.97 441.45,649.97 442.00,649.97 442.54,649.97 443.08,649.97 443.63,649.97 444.18,649.97 444.72,649.97 445.26,649.97 445.81,649.97 446.36,649.97 446.90,649.97 447.44,649.98 447.99,649.98 448.54,649.99 449.08,650.00 449.62,650.01 450.17,650.02 450.72,650.03 451.26,650.04 451.81,650.05 452.35,650.06 452.89,650.06 453.44,650.07 453.99,650.08 454.53,650.09 455.07,650.10 455.62,650.11 456.17,650.12 456.71,650.13 457.25,650.14 457.80,650.14 458.35,650.15 458.89,650.16 459.44,650.17 459.98,650.18 460.52,650.19 461.07,650.20 461.62,650.21 462.16,650.22 462.71,650.22 463.25,650.23 463.80,650.24 464.34,650.25 464.88,650.26 465.43,650.27 465.98,650.28 466.52,650.29 467.06,650.30 467.61,650.31 468.16,650.31 468.70,650.32 469.25,650.33 469.79,650.34 470.34,650.35 470.88,650.36 471.43,650.37 471.97,650.38 472.52,650.39 473.06,650.39 473.61,650.40 474.15,650.41 474.70,650.42 475.24,650.43 475.79,650.44 476.33,650.45 476.88,650.46 477.42,650.47 477.97,650.47 478.51,650.48 479.06,650.49 479.60,650.50" fill="none" stroke="#111" stroke-width="0.9" stroke-linejoin="round"/>
<polyline points="414.20,649.60 414.75,649.60 415.29,649.60 415.83,649.60 416.38,649.60 416.93,649.60 417.47,649.60 418.01,649.60 418.56,649.60 419.11,649.60 419.65,649.60 420.19,649.60 420.74,649.60 421.28,649.60 421.83,649.60 422.38,649.60 422.92,649.60 423.46,649.60 424.01,649.60 424.56,649.60 425.10,649.60 425.64,649.60 426.19,649.60 426.74,649.60 427.28,649.60 427.82,649.60 428.37,649.60 428.92,649.60 429.46,649.60 430.00,649.60 430.55,649.60 431.10,649.60 431.64,649.60 432.19,649.60 432.73,649.60 433.27,649.60 433.82,649.60 434.37,649.60 434.91,649.60 435.45,649.60 436.00,649.60 436.55,649.60 437.09,649.60 437.63,649.60 438.18,649.60 438.73,649.60 439.27,649.60 439.81,649.60 440.36,649.60 440.90,649.60 441.45,649.60 442.00,649.60 442.54,649.60 443.08,649.60 443.63,649.60 444.18,649.60 444.72,649.60 445.26,649.60 445.81,649.60 446.36,649.60 446.90,649.60 447.44,649.61 447.99,649.62 448.54,649.63 449.08,649.64 449.62,649.64 450.17,649.65 450.72,649.66 451.26,649.67 451.81,649.68 452.35,649.69 452.89,649.70 453.44,649.71 453.99,649.72 454.53,649.72 455.07,649.73 455.62,649.74 456.17,649.75 456.71,649.76 457.25,649.77 457.80,649.78 458.35,649.79 458.89,649.80 459.44,649.81 459.98,649.81 460.52,649.82 461.07,649.83 461.62,649.84 462.16,649.85 462.71,649.86 463.25,649.87 463.80,649.88 464.34,649.89 464.88,649.89 465.43,649.90 465.98,649.91 466.52,649.92 467.06,649.93 467.61,649.94 468.16,649.95 468.70,649.96 469.25,649.97 469.79,649.97 470.34,649.98 470.88,649.99 471.43,650.00 471.97,650.01 472.52,650.02 473.06,650.03 473.61,650.04 474.15,650.05 474.70,650.05 475.24,650.06 475.79,650.07 476.33,650.08 476.88,650.09 477.42,650.10 477.97,650.11 478.51,650.12 479.06,650.13 479.60,650.13" fill="none" stroke="#2ca02c" stroke-width="2.0" stroke-linejoin="round"/>
<polyline points="414.20,650.10 414.75,650.10 415.29,650.10 415.83,650.10 416.38,650.10 416.93,650.10 417.47,650.10 418.01,650.10 418.56,650.10 419.11,650.10 419.65,650.10 420.19,650.10 420.74,650.10 421.28,650.10 421.83,650.10 422.38,650.10 422.92,650.10 423.46,650.10 424.01,650.10 424.56,650.10 425.10,650.10 425.64,650.10 426.19,650.10 426.74,650.10 427.28,650.10 427.82,650.10 428.37,650.10 428.92,650.10 429.46,650.10 430.00,650.10 430.55,650.10 431.10,650.10 431.64,650.10 432.19,650.10 432.73,650.10 433.27,650.10 433.82,650.10 434.37,650.10 434.91,650.10 435.45,650.10 436.00,650.10 436.55,650.10 437.09,650.10 437.63,650.10 438.18,650.10 438.73,650.10 439.27,650.10 439.81,650.10 440.36,650.10 440.90,650.10 441.45,650.10 442.00,650.10 442.54,650.10 443.08,650.10 443.63,650.10 444.18,650.10 444.72,650.10 445.26,650.10 445.81,650.10 446.36,650.10 446.90,650.10 447.44,650.11 447.99,650.12 448.54,650.13 449.08,650.14 449.62,650.14 450.17,650.15 450.72,650.16 451.26,650.17 451.81,650.18 452.35,650.19 452.89,650.20 453.44,650.21 453.99,650.22 454.53,650.22 455.07,650.23 455.62,650.24 456.17,650.25 456.71,650.26 457.25,650.27 457.80,650.28 458.35,650.29 458.89,650.30 459.44,650.31 459.98,650.31 460.52,650.32 461.07,650.33 461.62,650.34 462.16,650.35 462.71,650.36 463.25,650.37 463.80,650.38 464.34,650.39 464.88,650.39 465.43,650.40 465.98,650.41 466.52,650.42 467.06,650.43 467.61,650.44 468.16,650.45 468.70,650.46 469.25,650.47 469.79,650.47 470.34,650.48 470.88,650.49 471.43,650.50 471.97,650.51 472.52,650.52 473.06,650.53 473.61,650.54 474.15,650.55 474.70,650.55 475.24,650.56 475.79,650.57 476.33,650.58 476.88,650.59 477.42,650.60 477.97,650.61 478.51,650.62 479.06,650.63 479.60,650.63" fill="none" stroke="#111" stroke-width="0.9" stroke-linejoin="round"/>
<polyline points="414.20,649.60 414.75,649.58 415.29,649.57 415.83,649.56 416.38,649.55 416.93,649.54 417.47,649.53 418.01,649.52 418.56,649.52 419.11,649.51 419.65,649.51 420.19,649.50 420.74,649.50 421.28,649.49 421.83,649.49 422.38,649.49 422.92,649.49 423.46,649.48 424.01,649.48 424.56,649.48 425.10,649.48 425.64,649.48 426.19,649.48 426.74,649.47 427.28,649.47 427.82,649.47 428.37,649.47 428.92,649.47 429.46,649.47 430.00,649.47 430.55,649.47 431.10,649.47 431.64,649.47 432.19,649.47 432.73,649.47 433.27,649.47 433.82,649.47 434.37,649.47 434.91,649.47 435.45,649.47 436.00,649.47 436.55,649.47 437.09,649.47 437.63,649.47 438.18,649.47 438.73,649.47 439.27,649.47 439.81,649.47 440.36,649.47 440.90,649.47 441.45,649.47 442.00,649.47 442.54,649.47 443.08,649.47 443.63,649.47 444.18,649.47 444.72,649.47 445.26,649.47 445.81,649.47 446.36,649.47 446.90,649.47 447.44,649.48 447.99,649.48 448.54,649.49 449.08,649.50 449.62,649.51 450.17,649.52 450.72,649.53 451.26,649.54 451.81,649.55 452.35,649.56 452.89,649.56 453.44,649.57 453.99,649.58 454.53,649.59 455.07,649.60 455.62,649.61 456.17,649.62 456.71,649.63 457.25,649.64 457.80,649.64 458.35,649.65 458.89,649.66 459.44,649.67 459.98,649.68 460.52,649.69 461.07,649.70 461.62,649.71 462.16,649.72 462.71,649.72 463.25,649.73 463.80,649.74 464.34,649.75 464.88,649.76 465.43,649.77 465.98,649.78 466.52,649.79 467.06,649.80 467.61,649.81 468.16,649.81 468.70,649.82 469.25,649.83 469.79,649.84 470.34,649.85 470.88,649.86 471.43,649.87 471.97,649.88 472.52,649.89 473.06,649.89 473.61,649.90 474.15,649.91 474.70,649.92 475.24,649.93 475.79,649.94 476.33,649.95 476.88,649.96 477.42,649.97 477.97,649.97 478.51,649.98 479.06,649.99 479.60,650.00" fill="none" stroke="#ff7f0e" stroke-width="2.0" stroke-linejoin="round"/>
<polyline points="414.20,650.10 414.75,650.08 415.29,650.07 415.83,650.06 416.38,650.05 416.93,650.04 417.47,650.03 418.01,650.02 418.56,650.02 419.11,650.01 419.65,650.01 420.19,650.00 420.74,650.00 421.28,649.99 421.83,649.99 422.38,649.99 422.92,649.99 423.46,649.98 424.01,649.98 424.56,649.98 425.10,649.98 425.64,649.98 426.19,649.98 426.74,649.97 427.28,649.97 427.82,649.97 428.37,649.97 428.92,649.97 429.46,649.97 430.00,649.97 430.55,649.97 431.10,649.97 431.64,649.97 432.19,649.97 432.73,649.97 433.27,649.97 433.82,649.97 434.37,649.97 434.91,649.97 435.45,649.97 436.00,649.97 436.55,649.97 437.09,649.97 437.63,649.97 438.18,649.97 438.73,649.97 439.27,649.97 439.81,649.97 440.36,649.97 440.90,649.97 441.45,649.97 442.00,649.97 442.54,649.97 443.08,649.97 443.63,649.97 444.18,649.97 444.72,649.97 445.26,649.97 445.81,649.97 446.36,649.97 446.90,649.97 447.44,649.98 447.99,649.98 448.54,649.99 449.08,650.00 449.62,650.01 450.17,650.02 450.72,650.03 451.26,650.04 451.81,650.05 452.35,650.06 452.89,650.06 453.44,650.07 453.99,650.08 454.53,650.09 455.07,650.10 455.62,650.11 456.17,650.12 456.71,650.13 457.25,650.14 457.80,650.14 458.35,650.15 458.89,650.16 459.44,650.17 459.98,650.18 460.52,650.19 461.07,650.20 461.62,650.21 462.16,650.22 462.71,650.22 463.25,650.23 463.80,650.24 464.34,650.25 464.88,650.26 465.43,650.27 465.98,650.28 466.52,650.29 467.06,650.30 467.61,650.31 468.16,650.31 468.70,650.32 469.25,650.33 469.79,650.34 470.34,650.35 470.88,650.36 471.43,650.37 471.97,650.38 472.52,650.39 473.06,650.39 473.61,650.40 474.15,650.41 474.70,650.42 475.24,650.43 475.79,650.44 476.33,650.45 476.88,650.46 477.42,650.47 477.97,650.47 478.51,650.48 479.06,650.49 479.60,650.50" fill="none" stroke="#111" stroke-width="0.9" stroke-linejoin="round"/>
<polyline points="414.20,649.60 414.75,649.60 415.29,649.60 415.83,649.60 416.38,649.60 416.93,649.60 417.47,649.60 418.01,649.60 418.56,649.60 419.11,649.60 419.65,649.60 420.19,649.60 420.74,649.60 421.28,649.60 421.83,649.60 422.38,649.60 422.92,649.60 423.46,649.60 424.01,649.60 424.56,649.60 425.10,649.60 425.64,649.60 426.19,649.60 426.74,649.60 427.28,649.60 427.82,649.60 428.37,649.60 428.92,649.60 429.46,649.60 430.00,649.60 430.55,649.60 431.10,649.60 431.64,649.60 432.19,649.60 432.73,649.60 433.27,649.60 433.82,649.60 434.37,649.60 434.91,649.60 435.45,649.60 436.00,649.60 436.55,649.60 437.09,649.60 437.63,649.60 438.18,649.60 438.73,649.60 439.27,649.60 439.81,649.60 440.36,649.60 440.90,649.60 441.45,649.60 442.00,649.60 442.54,649.60 443.08,649.60 443.63,649.60 444.18,649.60 444.72,649.60 445.26,649.60 445.81,649.60 446.36,649.60 446.90,649.60 447.44,649.61 447.99,649.62 448.54,649.63 449.08,649.64 449.62,649.64 450.17,649.65 450.72,649.66 451.26,649.67 451.81,649.68 452.35,649.69 452.89,649.70 453.44,649.71 453.99,649.72 454.53,649.72 455.07,649.73 455.62,649.74 456.17,649.75 456.71,649.76 457.25,649.77 457.80,649.78 458.35,649.79 458.89,649.80 459.44,649.81 459.98,649.81 460.52,649.82 461.07,649.83 461.62,649.84 462.16,649.85 462.71,649.86 463.25,649.87 463.80,649.88 464.34,649.89 464.88,649.89 465.43,649.90 465.98,649.91 466.52,649.92 467.06,649.93 467.61,649.94 468.16,649.95 468.70,649.96 469.25,649.97 469.79,649.97 470.34,649.98 470.88,649.99 471.43,650.00 471.97,650.01 472.52,650.02 473.06,650.03 473.61,650.04 474.15,650.05 474.70,650.05 475.24,650.06 475.79,650.07 476.33,650.08 476.88,650.09 477.42,650.10 477.97,650.11 478.51,650.12 479.06,650.13 479.60,650.13" fill="none" stroke="#1f77b4" stroke-width="2.0" stroke-linejoin="round"/>
<polyline points="414.20,650.10 414.75,650.10 415.29,650.10 415.83,650.10 416.38,650.10 416.93,650.10 417.47,650.10 418.01,650.10 418.56,650.10 419.11,650.10 419.65,650.10 420.19,650.10 420.74,650.10 421.28,650.10 421.83,650.10 422.38,650.10 422.92,650.10 423.46,650.10 424.01,650.10 424.56,650.10 425.10,650.10 425.64,650.10 426.19,650.10 426.74,650.10 427.28,650.10 427.82,650.10 428.37,650.10 428.92,650.10 429.46,650.10 430.00,650.10 430.55,650.10 431.10,650.10 431.64,650.10 432.19,650.10 432.73,650.10 433.27,650.10 433.82,650.10 434.37,650.10 434.91,650.10 435.45,650.10 436.00,650.10 436.55,650.10 437.09,650.10 437.63,650.10 438.18,650.10 438.73,650.10 439.27,650.10 439.81,650.10 440.36,650.10 440.90,650.10 441.45,650.10 442.00,650.10 442.54,650.10 443.08,650.10 443.63,650.10 444.18,650.10 444.72,650.10 445.26,650.10 445.81,650.10 446.36,650.10 446.90,650.10 447.44,650.11 447.99,650.12 448.54,650.13 449.08,650.14 449.62,650.14 450.17,650.15 450.72,650.16 451.26,650.17 451.81,650.18 452.35,650.19 452.89,650.20 453.44,650.21 453.99,650.22 454.53,650.22 455.07,650.23 455.62,650.24 456.17,650.25 456.71,650.26 457.25,650.27 457.80,650.28 458.35,650.29 458.89,650.30 459.44,650.31 459.98,650.31 460.52,650.32 461.07,650.33 461.62,650.34 462.16,650.35 462.71,650.36 463.25,650.37 463.80,650.38 464.34,650.39 464.88,650.39 465.43,650.40 465.98,650.41 466.52,650.42 467.06,650.43 467.61,650.44 468.16,650.45 468.70,650.46 469.25,650.47 469.79,650.47 470.34,650.48 470.88,650.49 471.43,650.50 471.97,650.51 472.52,650.52 473.06,650.53 473.61,650.54 474.15,650.55 474.70,650.55 475.24,650.56 475.79,650.57 476.33,650.58 476.88,650.59 477.42,650.60 477.97,650.61 478.51,650.62 479.06,650.63 479.60,650.63" fill="none" stroke="#111" stroke-width="0.9" stroke-linejoin="round"/>
<polyline points="414.20,649.60 414.75,649.62 415.29,649.63 415.83,649.64 416.38,649.65 416.93,649.66 417.47,649.67 418.01,649.68 418.56,649.68 419.11,649.69 419.65,649.69 420.19,649.70 420.74,649.70 421.28,649.71 421.83,649.71 422.38,649.71 422.92,649.71 423.46,649.72 424.01,649.72 424.56,649.72 425.10,649.72 425.64,649.72 426.19,649.72 426.74,649.73 427.28,649.73 427.82,649.73 428.37,649.73 428.92,649.73 429.46,649.73 430.00,649.73 430.55,649.73 431.10,649.73 431.64,649.73 432.19,649.73 432.73,649.73 433.27,649.73 433.82,649.73 434.37,649.73 434.91,649.73 435.45,649.73 436.00,649.73 436.55,649.73 437.09,649.73 437.63,649.73 438.18,649.73 438.73,649.73 439.27,649.73 439.81,649.73 440.36,649.73 440.90,649.73 441.45,649.73 442.00,649.73 442.54,649.73 443.08,649.73 443.63,649.73 444.18,649.73 444.72,649.73 445.26,649.73 445.81,649.73 446.36,649.73 446.90,649.73 447.44,649.75 447.99,649.77 448.54,649.79 449.08,649.81 449.62,649.83 450.17,649.85 450.72,649.87 451.26,649.89 451.81,649.91 452.35,649.93 452.89,649.95 453.44,649.97 453.99,649.99 454.53,650.01 455.07,650.03 455.62,650.05 456.17,650.07 456.71,650.09 457.25,650.11 457.80,650.13 458.35,650.16 458.89,650.18 459.44,650.20 459.98,650.22 460.52,650.24 461.07,650.26 461.62,650.28 462.16,650.30 462.71,650.32 463.25,650.34 463.80,650.36 464.34,650.38 464.88,650.40 465.43,650.42 465.98,650.44 466.52,650.46 467.06,650.48 467.61,650.50 468.16,650.52 468.70,650.54 469.25,650.56 469.79,650.58 470.34,650.60 470.88,650.62 471.43,650.64 471.97,650.66 472.52,650.68 473.06,650.70 473.61,650.72 474.15,650.74 474.70,650.76 475.24,650.78 475.79,650.80 476.33,650.82 476.88,650.84 477.42,650.86 477.97,650.88 478.51,650.90 479.06,650.92 479.60,650.94" fill="none" stroke="#d62728" stroke-width="2.0" stroke-linejoin="round"/>
<polyline points="414.20,650.10 414.75,650.12 415.29,650.13 415.83,650.14 416.38,650.15 416.93,650.16 417.47,650.17 418.01,650.18 418.56,650.18 419.11,650.19 419.65,650.19 420.19,650.20 420.74,650.20 421.28,650.21 421.83,650.21 422.38,650.21 422.92,650.21 423.46,650.22 424.01,650.22 424.56,650.22 425.10,650.22 425.64,650.22 426.19,650.22 426.74,650.23 427.28,650.23 427.82,650.23 428.37,650.23 428.92,650.23 429.46,650.23 430.00,650.23 430.55,650.23 431.10,650.23 431.64,650.23 432.19,650.23 432.73,650.23 433.27,650.23 433.82,650.23 434.37,650.23 434.91,650.23 435.45,650.23 436.00,650.23 436.55,650.23 437.09,650.23 437.63,650.23 438.18,650.23 438.73,650.23 439.27,650.23 439.81,650.23 440.36,650.23 440.90,650.23 441.45,650.23 442.00,650.23 442.54,650.23 443.08,650.23 443.63,650.23 444.18,650.23 444.72,650.23 445.26,650.23 445.81,650.23 446.36,650.23 446.90,650.23 447.44,650.25 447.99,650.27 448.54,650.29 449.08,650.31 449.62,650.33 450.17,650.35 450.72,650.37 451.26,650.39 451.81,650.41 452.35,650.43 452.89,650.45 453.44,650.47 453.99,650.49 454.53,650.51 455.07,650.53 455.62,650.55 456.17,650.57 456.71,650.59 457.25,650.61 457.80,650.63 458.35,650.66 458.89,650.68 459.44,650.70 459.98,650.72 460.52,650.74 461.07,650.76 461.62,650.78 462.16,650.80 462.71,650.82 463.25,650.84 463.80,650.86 464.34,650.88 464.88,650.90 465.43,650.92 465.98,650.94 466.52,650.96 467.06,650.98 467.61,651.00 468.16,651.02 468.70,651.04 469.25,651.06 469.79,651.08 470.34,651.10 470.88,651.12 471.43,651.14 471.97,651.16 472.52,651.18 473.06,651.20 473.61,651.22 474.15,651.24 474.70,651.26 475.24,651.28 475.79,651.30 476.33,651.32 476.88,651.34 477.42,651.36 477.97,651.38 478.51,651.40 479.06,651.42 479.60,651.44" fill="none" stroke="#111" stroke-width="0.9" stroke-linejoin="round"/>
<polyline points="414.20,649.60 414.75,649.52 415.29,649.46 415.83,649.40 416.38,649.35 416.93,649.30 417.47,649.26 418.01,649.22 418.56,649.19 419.11,649.16 419.65,649.13 420.19,649.11 420.74,649.09 421.28,649.07 421.83,649.06 422.38,649.04 422.92,649.03 423.46,649.02 424.01,649.01 424.56,649.00 425.10,648.99 425.64,648.99 426.19,648.98 426.74,648.97 427.28,648.97 427.82,648.96 428.37,648.96 428.92,648.96 429.46,648.95 430.00,648.95 430.55,648.95 431.10,648.95 431.64,648.95 432.19,648.94 432.73,648.94 433.27,648.94 433.82,648.94 434.37,648.94 434.91,648.94 435.45,648.94 436.00,648.94 436.55,648.94 437.09,648.94 437.63,648.94 438.18,648.93 438.73,648.93 439.27,648.93 439.81,648.93 440.36,648.93 440.90,648.93 441.45,648.93 442.00,648.93 442.54,648.93 443.08,648.93 443.63,648.93 444.18,648.93 444.72,648.93 445.26,648.93 445.81,648.93 446.36,648.93 446.90,648.93 447.44,648.94 447.99,648.96 448.54,648.97 449.08,648.98 449.62,649.00 450.17,649.01 450.72,649.02 451.26,649.04 451.81,649.05 452.35,649.07 452.89,649.08 453.44,649.09 453.99,649.11 454.53,649.12 455.07,649.13 455.62,649.15 456.17,649.16 456.71,649.17 457.25,649.19 457.80,649.20 458.35,649.21 458.89,649.23 459.44,649.24 459.98,649.25 460.52,649.27 461.07,649.28 461.62,649.29 462.16,649.31 462.71,649.32 463.25,649.33 463.80,649.35 464.34,649.36 464.88,649.37 465.43,649.39 465.98,649.40 466.52,649.41 467.06,649.43 467.61,649.44 468.16,649.45 468.70,649.47 469.25,649.48 469.79,649.49 470.34,649.51 470.88,649.52 471.43,649.53 471.97,649.55 472.52,649.56 473.06,649.57 473.61,649.59 474.15,649.60 474.70,649.61 475.24,649.63 475.79,649.64 476.33,649.65 476.88,649.67 477.42,649.68 477.97,649.69 478.51,649.71 479.06,649.72 479.60,649.73" fill="none" stroke="#9467bd" stroke-width="2.0" stroke-linejoin="round"/>
<polyline points="414.20,650.10 414.75,650.02 415.29,649.96 415.83,649.90 416.38,649.85 416.93,649.80 417.47,649.76 418.01,649.72 418.56,649.69 419.11,649.66 419.65,649.63 420.19,649.61 420.74,649.59 421.28,649.57 421.83,649.56 422.38,649.54 422.92,649.53 423.46,649.52 424.01,649.51 424.56,649.50 425.10,649.49 425.64,649.49 426.19,649.48 426.74,649.47 427.28,649.47 427.82,649.46 428.37,649.46 428.92,649.46 429.46,649.45 430.00,649.45 430.55,649.45 431.10,649.45 431.64,649.45 432.19,649.44 432.73,649.44 433.27,649.44 433.82,649.44 434.37,649.44 434.91,649.44 435.45,649.44 436.00,649.44 436.55,649.44 437.09,649.44 437.63,649.44 438.18,649.43 438.73,649.43 439.27,649.43 439.81,649.43 440.36,649.43 440.90,649.43 441.45,649.43 442.00,649.43 442.54,649.43 443.08,649.43 443.63,649.43 444.18,649.43 444.72,649.43 445.26,649.43 445.81,649.43 446.36,649.43 446.90,649.43 447.44,649.44 447.99,649.46 448.54,649.47 449.08,649.48 449.62,649.50 450.17,649.51 450.72,649.52 451.26,649.54 451.81,649.55 452.35,649.57 452.89,649.58 453.44,649.59 453.99,649.61 454.53,649.62 455.07,649.63 455.62,649.65 456.17,649.66 456.71,649.67 457.25,649.69 457.80,649.70 458.35,649.71 458.89,649.73 459.44,649.74 459.98,649.75 460.52,649.77 461.07,649.78 461.62,649.79 462.16,649.81 462.71,649.82 463.25,649.83 463.80,649.85 464.34,649.86 464.88,649.87 465.43,649.89 465.98,649.90 466.52,649.91 467.06,649.93 467.61,649.94 468.16,649.95 468.70,649.97 469.25,649.98 469.79,649.99 470.34,650.01 470.88,650.02 471.43,650.03 471.97,650.05 472.52,650.06 473.06,650.07 473.61,650.09 474.15,650.10 474.70,650.11 475.24,650.13 475.79,650.14 476.33,650.15 476.88,650.17 477.42,650.18 477.97,650.19 478.51,650.21 479.06,650.22 479.60,650.23" fill="none" stroke="#111" stroke-width="0.9" stroke-linejoin="round"/>
<line x1="414.20" y1="595.50" x2="414.20" y2="650.20" stroke="#000" stroke-width="1.3" />
<line x1="413.60" y1="649.60" x2="479.60" y2="649.60" stroke="#000" stroke-width="1.3" />
<line x1="409.40" y1="649.60" x2="414.20" y2="649.60" stroke="#000" stroke-width="1.1" />
<text x="404.2" y="652.5" font-size="8.0" text-anchor="end" fill="#111" >0.0</text>
<line x1="409.40" y1="636.23" x2="414.20" y2="636.23" stroke="#000" stroke-width="1.1" />
<text x="404.2" y="639.125" font-size="8.0" text-anchor="end" fill="#111" >0.1</text>
<line x1="409.40" y1="622.85" x2="414.20" y2="622.85" stroke="#000" stroke-width="1.1" />
<text x="404.2" y="625.75" font-size="8.0" text-anchor="end" fill="#111" >0.2</text>
<line x1="409.40" y1="609.48" x2="414.20" y2="609.48" stroke="#000" stroke-width="1.1" />
<text x="404.2" y="612.375" font-size="8.0" text-anchor="end" fill="#111" >0.3</text>
<line x1="409.40" y1="596.10" x2="414.20" y2="596.10" stroke="#000" stroke-width="1.1" />
<text x="404.2" y="599.0" font-size="8.0" text-anchor="end" fill="#111" >0.4</text>
<line x1="414.20" y1="649.60" x2="414.20" y2="654.20" stroke="#000" stroke-width="1.1" />
<text x="414.2" y="664.8000000000001" font-size="8.0" text-anchor="middle" fill="#111" >0</text>
<line x1="446.90" y1="649.60" x2="446.90" y2="654.20" stroke="#000" stroke-width="1.1" />
<text x="446.9" y="664.8000000000001" font-size="8.0" text-anchor="middle" fill="#111" >180</text>
<line x1="479.60" y1="649.60" x2="479.60" y2="654.20" stroke="#000" stroke-width="1.1" />
<text x="479.6" y="664.8000000000001" font-size="8.0" text-anchor="middle" fill="#111" >360</text>
<text x="446.9" y="677.9" font-size="8.2" text-anchor="middle" fill="#111" >Time (s)</text>
<text transform="translate(385.7,622.85) rotate(-90)" font-size="8.2" text-anchor="middle" fill="#111">Response (nm)</text>
<line x1="485.00" y1="596.10" x2="491.40" y2="596.10" stroke="#1f77b4" stroke-width="1.6" />
<text x="493.3" y="598.8000000000001" font-size="7.8" letter-spacing="0.32" fill="#3c3c3c">5.0×10<tspan font-size="5.6" dy="-3.1" letter-spacing="0.1">−7</tspan></text>
<line x1="485.00" y1="606.70" x2="491.40" y2="606.70" stroke="#ff7f0e" stroke-width="1.6" />
<text x="493.3" y="609.4000000000001" font-size="7.8" letter-spacing="0.32" fill="#3c3c3c">2.5×10<tspan font-size="5.6" dy="-3.1" letter-spacing="0.1">−7</tspan></text>
<line x1="485.00" y1="617.30" x2="491.40" y2="617.30" stroke="#2ca02c" stroke-width="1.6" />
<text x="493.3" y="620.0000000000001" font-size="7.8" letter-spacing="0.32" fill="#3c3c3c">1.2×10<tspan font-size="5.6" dy="-3.1" letter-spacing="0.1">−7</tspan></text>
<line x1="485.00" y1="627.90" x2="491.40" y2="627.90" stroke="#d62728" stroke-width="1.6" />
<text x="493.3" y="630.6" font-size="7.8" letter-spacing="0.32" fill="#3c3c3c">6.2×10<tspan font-size="5.6" dy="-3.1" letter-spacing="0.1">−8</tspan></text>
<line x1="485.00" y1="638.50" x2="491.40" y2="638.50" stroke="#9467bd" stroke-width="1.6" />
<text x="493.3" y="641.2" font-size="7.8" letter-spacing="0.32" fill="#3c3c3c">3.1×10<tspan font-size="5.6" dy="-3.1" letter-spacing="0.1">−8</tspan></text>
<line x1="485.00" y1="649.10" x2="491.40" y2="649.10" stroke="#8c564b" stroke-width="1.6" />
<text x="493.3" y="651.8000000000001" font-size="7.8" letter-spacing="0.32" fill="#3c3c3c">1.6×10<tspan font-size="5.6" dy="-3.1" letter-spacing="0.1">−8</tspan></text>
<rect x="572.9" y="468.8" width="69.39999999999998" height="11.199999999999989" fill="#f9b0d9"/>
<text x="607.5999999999999" y="477.6" font-size="9" text-anchor="middle">K<tspan font-size="6.5" dy="2">D</tspan><tspan dy="-2">: 2.9 nM</tspan></text>
<polyline points="573.60,538.60 574.15,538.32 574.70,538.04 575.25,537.76 575.80,537.49 576.35,537.23 576.89,536.97 577.44,536.71 577.99,536.46 578.54,536.21 579.09,535.97 579.64,535.73 580.19,535.50 580.74,535.27 581.29,535.04 581.84,534.82 582.39,534.61 582.94,534.39 583.49,534.18 584.03,533.98 584.58,533.77 585.13,533.58 585.68,533.38 586.23,533.19 586.78,533.00 587.33,532.82 587.88,532.64 588.43,532.46 588.98,532.28 589.53,532.11 590.08,531.94 590.62,531.77 591.17,531.61 591.72,531.45 592.27,531.29 592.82,531.14 593.37,530.99 593.92,530.84 594.47,530.69 595.02,530.55 595.57,530.41 596.12,530.27 596.66,530.13 597.21,530.00 597.76,529.87 598.31,529.74 598.86,529.61 599.41,529.49 599.96,529.37 600.51,529.25 601.06,529.13 601.61,529.01 602.16,528.90 602.71,528.79 603.25,528.68 603.80,528.57 604.35,528.46 604.90,528.36 605.45,528.26 606.00,528.16 606.55,528.06 607.10,528.08 607.65,528.11 608.20,528.13 608.75,528.15 609.30,528.18 609.85,528.20 610.39,528.22 610.94,528.25 611.49,528.27 612.04,528.29 612.59,528.31 613.14,528.34 613.69,528.36 614.24,528.38 614.79,528.41 615.34,528.43 615.89,528.45 616.44,528.47 616.98,528.50 617.53,528.52 618.08,528.54 618.63,528.56 619.18,528.59 619.73,528.61 620.28,528.63 620.83,528.65 621.38,528.67 621.93,528.70 622.48,528.72 623.02,528.74 623.57,528.76 624.12,528.78 624.67,528.81 625.22,528.83 625.77,528.85 626.32,528.87 626.87,528.89 627.42,528.91 627.97,528.94 628.52,528.96 629.07,528.98 629.62,529.00 630.16,529.02 630.71,529.04 631.26,529.06 631.81,529.09 632.36,529.11 632.91,529.13 633.46,529.15 634.01,529.17 634.56,529.19 635.11,529.21 635.66,529.23 636.21,529.25 636.75,529.27 637.30,529.30 637.85,529.32 638.40,529.34 638.95,529.36 639.50,529.38" fill="none" stroke="#8c564b" stroke-width="2.0" stroke-linejoin="round"/>
<polyline points="573.60,539.10 574.15,538.82 574.70,538.54 575.25,538.26 575.80,537.99 576.35,537.73 576.89,537.47 577.44,537.21 577.99,536.96 578.54,536.71 579.09,536.47 579.64,536.23 580.19,536.00 580.74,535.77 581.29,535.54 581.84,535.32 582.39,535.11 582.94,534.89 583.49,534.68 584.03,534.48 584.58,534.27 585.13,534.08 585.68,533.88 586.23,533.69 586.78,533.50 587.33,533.32 587.88,533.14 588.43,532.96 588.98,532.78 589.53,532.61 590.08,532.44 590.62,532.27 591.17,532.11 591.72,531.95 592.27,531.79 592.82,531.64 593.37,531.49 593.92,531.34 594.47,531.19 595.02,531.05 595.57,530.91 596.12,530.77 596.66,530.63 597.21,530.50 597.76,530.37 598.31,530.24 598.86,530.11 599.41,529.99 599.96,529.87 600.51,529.75 601.06,529.63 601.61,529.51 602.16,529.40 602.71,529.29 603.25,529.18 603.80,529.07 604.35,528.96 604.90,528.86 605.45,528.76 606.00,528.66 606.55,528.56 607.10,528.58 607.65,528.61 608.20,528.63 608.75,528.65 609.30,528.68 609.85,528.70 610.39,528.72 610.94,528.75 611.49,528.77 612.04,528.79 612.59,528.81 613.14,528.84 613.69,528.86 614.24,528.88 614.79,528.91 615.34,528.93 615.89,528.95 616.44,528.97 616.98,529.00 617.53,529.02 618.08,529.04 618.63,529.06 619.18,529.09 619.73,529.11 620.28,529.13 620.83,529.15 621.38,529.17 621.93,529.20 622.48,529.22 623.02,529.24 623.57,529.26 624.12,529.28 624.67,529.31 625.22,529.33 625.77,529.35 626.32,529.37 626.87,529.39 627.42,529.41 627.97,529.44 628.52,529.46 629.07,529.48 629.62,529.50 630.16,529.52 630.71,529.54 631.26,529.56 631.81,529.59 632.36,529.61 632.91,529.63 633.46,529.65 634.01,529.67 634.56,529.69 635.11,529.71 635.66,529.73 636.21,529.75 636.75,529.77 637.30,529.80 637.85,529.82 638.40,529.84 638.95,529.86 639.50,529.88" fill="none" stroke="#111" stroke-width="0.9" stroke-linejoin="round"/>
<polyline points="573.60,538.60 574.15,537.99 574.70,537.39 575.25,536.81 575.80,536.25 576.35,535.70 576.89,535.16 577.44,534.64 577.99,534.13 578.54,533.64 579.09,533.16 579.64,532.69 580.19,532.24 580.74,531.79 581.29,531.36 581.84,530.94 582.39,530.53 582.94,530.14 583.49,529.75 584.03,529.37 584.58,529.00 585.13,528.65 585.68,528.30 586.23,527.96 586.78,527.63 587.33,527.31 587.88,527.00 588.43,526.70 588.98,526.40 589.53,526.11 590.08,525.83 590.62,525.56 591.17,525.30 591.72,525.04 592.27,524.79 592.82,524.54 593.37,524.30 593.92,524.07 594.47,523.85 595.02,523.63 595.57,523.41 596.12,523.21 596.66,523.00 597.21,522.81 597.76,522.61 598.31,522.43 598.86,522.25 599.41,522.07 599.96,521.90 600.51,521.73 601.06,521.57 601.61,521.41 602.16,521.25 602.71,521.10 603.25,520.96 603.80,520.81 604.35,520.67 604.90,520.54 605.45,520.41 606.00,520.28 606.55,520.15 607.10,520.17 607.65,520.18 608.20,520.20 608.75,520.21 609.30,520.23 609.85,520.24 610.39,520.26 610.94,520.27 611.49,520.29 612.04,520.30 612.59,520.32 613.14,520.33 613.69,520.35 614.24,520.36 614.79,520.38 615.34,520.39 615.89,520.41 616.44,520.42 616.98,520.44 617.53,520.45 618.08,520.47 618.63,520.48 619.18,520.50 619.73,520.51 620.28,520.53 620.83,520.54 621.38,520.56 621.93,520.57 622.48,520.58 623.02,520.60 623.57,520.61 624.12,520.63 624.67,520.64 625.22,520.66 625.77,520.67 626.32,520.69 626.87,520.70 627.42,520.72 627.97,520.73 628.52,520.75 629.07,520.76 629.62,520.77 630.16,520.79 630.71,520.80 631.26,520.82 631.81,520.83 632.36,520.85 632.91,520.86 633.46,520.88 634.01,520.89 634.56,520.90 635.11,520.92 635.66,520.93 636.21,520.95 636.75,520.96 637.30,520.98 637.85,520.99 638.40,521.00 638.95,521.02 639.50,521.03" fill="none" stroke="#9467bd" stroke-width="2.0" stroke-linejoin="round"/>
<polyline points="573.60,539.10 574.15,538.49 574.70,537.89 575.25,537.31 575.80,536.75 576.35,536.20 576.89,535.66 577.44,535.14 577.99,534.63 578.54,534.14 579.09,533.66 579.64,533.19 580.19,532.74 580.74,532.29 581.29,531.86 581.84,531.44 582.39,531.03 582.94,530.64 583.49,530.25 584.03,529.87 584.58,529.50 585.13,529.15 585.68,528.80 586.23,528.46 586.78,528.13 587.33,527.81 587.88,527.50 588.43,527.20 588.98,526.90 589.53,526.61 590.08,526.33 590.62,526.06 591.17,525.80 591.72,525.54 592.27,525.29 592.82,525.04 593.37,524.80 593.92,524.57 594.47,524.35 595.02,524.13 595.57,523.91 596.12,523.71 596.66,523.50 597.21,523.31 597.76,523.11 598.31,522.93 598.86,522.75 599.41,522.57 599.96,522.40 600.51,522.23 601.06,522.07 601.61,521.91 602.16,521.75 602.71,521.60 603.25,521.46 603.80,521.31 604.35,521.17 604.90,521.04 605.45,520.91 606.00,520.78 606.55,520.65 607.10,520.67 607.65,520.68 608.20,520.70 608.75,520.71 609.30,520.73 609.85,520.74 610.39,520.76 610.94,520.77 611.49,520.79 612.04,520.80 612.59,520.82 613.14,520.83 613.69,520.85 614.24,520.86 614.79,520.88 615.34,520.89 615.89,520.91 616.44,520.92 616.98,520.94 617.53,520.95 618.08,520.97 618.63,520.98 619.18,521.00 619.73,521.01 620.28,521.03 620.83,521.04 621.38,521.06 621.93,521.07 622.48,521.08 623.02,521.10 623.57,521.11 624.12,521.13 624.67,521.14 625.22,521.16 625.77,521.17 626.32,521.19 626.87,521.20 627.42,521.22 627.97,521.23 628.52,521.25 629.07,521.26 629.62,521.27 630.16,521.29 630.71,521.30 631.26,521.32 631.81,521.33 632.36,521.35 632.91,521.36 633.46,521.38 634.01,521.39 634.56,521.40 635.11,521.42 635.66,521.43 636.21,521.45 636.75,521.46 637.30,521.48 637.85,521.49 638.40,521.50 638.95,521.52 639.50,521.53" fill="none" stroke="#111" stroke-width="0.9" stroke-linejoin="round"/>
<polyline points="573.60,538.60 574.15,537.55 574.70,536.53 575.25,535.55 575.80,534.61 576.35,533.69 576.89,532.81 577.44,531.97 577.99,531.15 578.54,530.36 579.09,529.60 579.64,528.86 580.19,528.15 580.74,527.47 581.29,526.81 581.84,526.17 582.39,525.56 582.94,524.97 583.49,524.40 584.03,523.84 584.58,523.31 585.13,522.80 585.68,522.31 586.23,521.83 586.78,521.37 587.33,520.92 587.88,520.50 588.43,520.08 588.98,519.69 589.53,519.30 590.08,518.93 590.62,518.57 591.17,518.23 591.72,517.89 592.27,517.57 592.82,517.26 593.37,516.96 593.92,516.68 594.47,516.40 595.02,516.13 595.57,515.87 596.12,515.62 596.66,515.38 597.21,515.15 597.76,514.93 598.31,514.71 598.86,514.50 599.41,514.30 599.96,514.11 600.51,513.92 601.06,513.74 601.61,513.56 602.16,513.40 602.71,513.23 603.25,513.08 603.80,512.93 604.35,512.78 604.90,512.64 605.45,512.51 606.00,512.38 606.55,512.25 607.10,512.28 607.65,512.31 608.20,512.34 608.75,512.37 609.30,512.40 609.85,512.43 610.39,512.46 610.94,512.49 611.49,512.52 612.04,512.55 612.59,512.58 613.14,512.61 613.69,512.64 614.24,512.67 614.79,512.70 615.34,512.73 615.89,512.76 616.44,512.79 616.98,512.82 617.53,512.85 618.08,512.88 618.63,512.91 619.18,512.94 619.73,512.97 620.28,513.00 620.83,513.03 621.38,513.06 621.93,513.08 622.48,513.11 623.02,513.14 623.57,513.17 624.12,513.20 624.67,513.23 625.22,513.26 625.77,513.29 626.32,513.32 626.87,513.35 627.42,513.38 627.97,513.41 628.52,513.43 629.07,513.46 629.62,513.49 630.16,513.52 630.71,513.55 631.26,513.58 631.81,513.61 632.36,513.64 632.91,513.66 633.46,513.69 634.01,513.72 634.56,513.75 635.11,513.78 635.66,513.81 636.21,513.84 636.75,513.86 637.30,513.89 637.85,513.92 638.40,513.95 638.95,513.98 639.50,514.01" fill="none" stroke="#d62728" stroke-width="2.0" stroke-linejoin="round"/>
<polyline points="573.60,539.10 574.15,538.05 574.70,537.03 575.25,536.05 575.80,535.11 576.35,534.19 576.89,533.31 577.44,532.47 577.99,531.65 578.54,530.86 579.09,530.10 579.64,529.36 580.19,528.65 580.74,527.97 581.29,527.31 581.84,526.67 582.39,526.06 582.94,525.47 583.49,524.90 584.03,524.34 584.58,523.81 585.13,523.30 585.68,522.81 586.23,522.33 586.78,521.87 587.33,521.42 587.88,521.00 588.43,520.58 588.98,520.19 589.53,519.80 590.08,519.43 590.62,519.07 591.17,518.73 591.72,518.39 592.27,518.07 592.82,517.76 593.37,517.46 593.92,517.18 594.47,516.90 595.02,516.63 595.57,516.37 596.12,516.12 596.66,515.88 597.21,515.65 597.76,515.43 598.31,515.21 598.86,515.00 599.41,514.80 599.96,514.61 600.51,514.42 601.06,514.24 601.61,514.06 602.16,513.90 602.71,513.73 603.25,513.58 603.80,513.43 604.35,513.28 604.90,513.14 605.45,513.01 606.00,512.88 606.55,512.75 607.10,512.78 607.65,512.81 608.20,512.84 608.75,512.87 609.30,512.90 609.85,512.93 610.39,512.96 610.94,512.99 611.49,513.02 612.04,513.05 612.59,513.08 613.14,513.11 613.69,513.14 614.24,513.17 614.79,513.20 615.34,513.23 615.89,513.26 616.44,513.29 616.98,513.32 617.53,513.35 618.08,513.38 618.63,513.41 619.18,513.44 619.73,513.47 620.28,513.50 620.83,513.53 621.38,513.56 621.93,513.58 622.48,513.61 623.02,513.64 623.57,513.67 624.12,513.70 624.67,513.73 625.22,513.76 625.77,513.79 626.32,513.82 626.87,513.85 627.42,513.88 627.97,513.91 628.52,513.93 629.07,513.96 629.62,513.99 630.16,514.02 630.71,514.05 631.26,514.08 631.81,514.11 632.36,514.14 632.91,514.16 633.46,514.19 634.01,514.22 634.56,514.25 635.11,514.28 635.66,514.31 636.21,514.34 636.75,514.36 637.30,514.39 637.85,514.42 638.40,514.45 638.95,514.48 639.50,514.51" fill="none" stroke="#111" stroke-width="0.9" stroke-linejoin="round"/>
<polyline points="573.60,538.60 574.15,536.68 574.70,534.86 575.25,533.13 575.80,531.50 576.35,529.95 576.89,528.48 577.44,527.09 577.99,525.77 578.54,524.53 579.09,523.34 579.64,522.22 580.19,521.16 580.74,520.16 581.29,519.20 581.84,518.30 582.39,517.45 582.94,516.64 583.49,515.87 584.03,515.14 584.58,514.45 585.13,513.80 585.68,513.18 586.23,512.59 586.78,512.04 587.33,511.51 587.88,511.02 588.43,510.54 588.98,510.10 589.53,509.67 590.08,509.27 590.62,508.89 591.17,508.53 591.72,508.19 592.27,507.87 592.82,507.56 593.37,507.27 593.92,506.99 594.47,506.73 595.02,506.49 595.57,506.25 596.12,506.03 596.66,505.82 597.21,505.62 597.76,505.43 598.31,505.25 598.86,505.08 599.41,504.92 599.96,504.77 600.51,504.63 601.06,504.49 601.61,504.36 602.16,504.24 602.71,504.12 603.25,504.01 603.80,503.91 604.35,503.81 604.90,503.72 605.45,503.63 606.00,503.55 606.55,503.47 607.10,503.50 607.65,503.53 608.20,503.56 608.75,503.59 609.30,503.62 609.85,503.65 610.39,503.68 610.94,503.71 611.49,503.74 612.04,503.77 612.59,503.80 613.14,503.83 613.69,503.85 614.24,503.88 614.79,503.91 615.34,503.94 615.89,503.97 616.44,504.00 616.98,504.03 617.53,504.06 618.08,504.09 618.63,504.12 619.18,504.15 619.73,504.18 620.28,504.21 620.83,504.24 621.38,504.27 621.93,504.30 622.48,504.33 623.02,504.36 623.57,504.39 624.12,504.41 624.67,504.44 625.22,504.47 625.77,504.50 626.32,504.53 626.87,504.56 627.42,504.59 627.97,504.62 628.52,504.65 629.07,504.68 629.62,504.71 630.16,504.73 630.71,504.76 631.26,504.79 631.81,504.82 632.36,504.85 632.91,504.88 633.46,504.91 634.01,504.94 634.56,504.97 635.11,504.99 635.66,505.02 636.21,505.05 636.75,505.08 637.30,505.11 637.85,505.14 638.40,505.17 638.95,505.19 639.50,505.22" fill="none" stroke="#2ca02c" stroke-width="2.0" stroke-linejoin="round"/>
<polyline points="573.60,539.10 574.15,537.18 574.70,535.36 575.25,533.63 575.80,532.00 576.35,530.45 576.89,528.98 577.44,527.59 577.99,526.27 578.54,525.03 579.09,523.84 579.64,522.72 580.19,521.66 580.74,520.66 581.29,519.70 581.84,518.80 582.39,517.95 582.94,517.14 583.49,516.37 584.03,515.64 584.58,514.95 585.13,514.30 585.68,513.68 586.23,513.09 586.78,512.54 587.33,512.01 587.88,511.52 588.43,511.04 588.98,510.60 589.53,510.17 590.08,509.77 590.62,509.39 591.17,509.03 591.72,508.69 592.27,508.37 592.82,508.06 593.37,507.77 593.92,507.49 594.47,507.23 595.02,506.99 595.57,506.75 596.12,506.53 596.66,506.32 597.21,506.12 597.76,505.93 598.31,505.75 598.86,505.58 599.41,505.42 599.96,505.27 600.51,505.13 601.06,504.99 601.61,504.86 602.16,504.74 602.71,504.62 603.25,504.51 603.80,504.41 604.35,504.31 604.90,504.22 605.45,504.13 606.00,504.05 606.55,503.97 607.10,504.00 607.65,504.03 608.20,504.06 608.75,504.09 609.30,504.12 609.85,504.15 610.39,504.18 610.94,504.21 611.49,504.24 612.04,504.27 612.59,504.30 613.14,504.33 613.69,504.35 614.24,504.38 614.79,504.41 615.34,504.44 615.89,504.47 616.44,504.50 616.98,504.53 617.53,504.56 618.08,504.59 618.63,504.62 619.18,504.65 619.73,504.68 620.28,504.71 620.83,504.74 621.38,504.77 621.93,504.80 622.48,504.83 623.02,504.86 623.57,504.89 624.12,504.91 624.67,504.94 625.22,504.97 625.77,505.00 626.32,505.03 626.87,505.06 627.42,505.09 627.97,505.12 628.52,505.15 629.07,505.18 629.62,505.21 630.16,505.23 630.71,505.26 631.26,505.29 631.81,505.32 632.36,505.35 632.91,505.38 633.46,505.41 634.01,505.44 634.56,505.47 635.11,505.49 635.66,505.52 636.21,505.55 636.75,505.58 637.30,505.61 637.85,505.64 638.40,505.67 638.95,505.69 639.50,505.72" fill="none" stroke="#111" stroke-width="0.9" stroke-linejoin="round"/>
<polyline points="573.60,538.60 574.15,534.95 574.70,531.62 575.25,528.58 575.80,525.80 576.35,523.25 576.89,520.93 577.44,518.80 577.99,516.86 578.54,515.09 579.09,513.47 579.64,511.99 580.19,510.63 580.74,509.39 581.29,508.26 581.84,507.23 582.39,506.28 582.94,505.42 583.49,504.63 584.03,503.91 584.58,503.25 585.13,502.65 585.68,502.10 586.23,501.59 586.78,501.13 587.33,500.71 587.88,500.33 588.43,499.98 588.98,499.66 589.53,499.36 590.08,499.09 590.62,498.85 591.17,498.63 591.72,498.42 592.27,498.23 592.82,498.06 593.37,497.91 593.92,497.76 594.47,497.63 595.02,497.51 595.57,497.41 596.12,497.31 596.66,497.22 597.21,497.13 597.76,497.06 598.31,496.99 598.86,496.92 599.41,496.87 599.96,496.81 600.51,496.76 601.06,496.72 601.61,496.68 602.16,496.64 602.71,496.61 603.25,496.58 603.80,496.55 604.35,496.52 604.90,496.50 605.45,496.48 606.00,496.46 606.55,496.44 607.10,496.47 607.65,496.50 608.20,496.53 608.75,496.56 609.30,496.59 609.85,496.62 610.39,496.65 610.94,496.68 611.49,496.71 612.04,496.74 612.59,496.77 613.14,496.80 613.69,496.83 614.24,496.86 614.79,496.89 615.34,496.92 615.89,496.95 616.44,496.97 616.98,497.00 617.53,497.03 618.08,497.06 618.63,497.09 619.18,497.12 619.73,497.15 620.28,497.18 620.83,497.21 621.38,497.24 621.93,497.27 622.48,497.30 623.02,497.33 623.57,497.36 624.12,497.39 624.67,497.42 625.22,497.44 625.77,497.47 626.32,497.50 626.87,497.53 627.42,497.56 627.97,497.59 628.52,497.62 629.07,497.65 629.62,497.68 630.16,497.71 630.71,497.74 631.26,497.76 631.81,497.79 632.36,497.82 632.91,497.85 633.46,497.88 634.01,497.91 634.56,497.94 635.11,497.97 635.66,498.00 636.21,498.02 636.75,498.05 637.30,498.08 637.85,498.11 638.40,498.14 638.95,498.17 639.50,498.20" fill="none" stroke="#ff7f0e" stroke-width="2.0" stroke-linejoin="round"/>
<polyline points="573.60,539.10 574.15,535.45 574.70,532.12 575.25,529.08 575.80,526.30 576.35,523.75 576.89,521.43 577.44,519.30 577.99,517.36 578.54,515.59 579.09,513.97 579.64,512.49 580.19,511.13 580.74,509.89 581.29,508.76 581.84,507.73 582.39,506.78 582.94,505.92 583.49,505.13 584.03,504.41 584.58,503.75 585.13,503.15 585.68,502.60 586.23,502.09 586.78,501.63 587.33,501.21 587.88,500.83 588.43,500.48 588.98,500.16 589.53,499.86 590.08,499.59 590.62,499.35 591.17,499.13 591.72,498.92 592.27,498.73 592.82,498.56 593.37,498.41 593.92,498.26 594.47,498.13 595.02,498.01 595.57,497.91 596.12,497.81 596.66,497.72 597.21,497.63 597.76,497.56 598.31,497.49 598.86,497.42 599.41,497.37 599.96,497.31 600.51,497.26 601.06,497.22 601.61,497.18 602.16,497.14 602.71,497.11 603.25,497.08 603.80,497.05 604.35,497.02 604.90,497.00 605.45,496.98 606.00,496.96 606.55,496.94 607.10,496.97 607.65,497.00 608.20,497.03 608.75,497.06 609.30,497.09 609.85,497.12 610.39,497.15 610.94,497.18 611.49,497.21 612.04,497.24 612.59,497.27 613.14,497.30 613.69,497.33 614.24,497.36 614.79,497.39 615.34,497.42 615.89,497.45 616.44,497.47 616.98,497.50 617.53,497.53 618.08,497.56 618.63,497.59 619.18,497.62 619.73,497.65 620.28,497.68 620.83,497.71 621.38,497.74 621.93,497.77 622.48,497.80 623.02,497.83 623.57,497.86 624.12,497.89 624.67,497.92 625.22,497.94 625.77,497.97 626.32,498.00 626.87,498.03 627.42,498.06 627.97,498.09 628.52,498.12 629.07,498.15 629.62,498.18 630.16,498.21 630.71,498.24 631.26,498.26 631.81,498.29 632.36,498.32 632.91,498.35 633.46,498.38 634.01,498.41 634.56,498.44 635.11,498.47 635.66,498.50 636.21,498.52 636.75,498.55 637.30,498.58 637.85,498.61 638.40,498.64 638.95,498.67 639.50,498.70" fill="none" stroke="#111" stroke-width="0.9" stroke-linejoin="round"/>
<polyline points="573.60,538.60 574.15,531.22 574.70,525.06 575.25,519.91 575.80,515.61 576.35,512.02 576.89,509.02 577.44,506.51 577.99,504.42 578.54,502.67 579.09,501.21 579.64,499.99 580.19,498.97 580.74,498.12 581.29,497.41 581.84,496.81 582.39,496.32 582.94,495.90 583.49,495.56 584.03,495.27 584.58,495.03 585.13,494.83 585.68,494.66 586.23,494.52 586.78,494.40 587.33,494.30 587.88,494.22 588.43,494.15 588.98,494.09 589.53,494.05 590.08,494.01 590.62,493.97 591.17,493.95 591.72,493.92 592.27,493.90 592.82,493.89 593.37,493.87 593.92,493.86 594.47,493.85 595.02,493.84 595.57,493.84 596.12,493.83 596.66,493.83 597.21,493.82 597.76,493.82 598.31,493.82 598.86,493.82 599.41,493.81 599.96,493.81 600.51,493.81 601.06,493.81 601.61,493.81 602.16,493.81 602.71,493.81 603.25,493.81 603.80,493.81 604.35,493.81 604.90,493.81 605.45,493.81 606.00,493.81 606.55,493.80 607.10,493.83 607.65,493.86 608.20,493.89 608.75,493.92 609.30,493.95 609.85,493.98 610.39,494.01 610.94,494.04 611.49,494.07 612.04,494.10 612.59,494.13 613.14,494.16 613.69,494.19 614.24,494.22 614.79,494.25 615.34,494.28 615.89,494.31 616.44,494.34 616.98,494.37 617.53,494.40 618.08,494.43 618.63,494.46 619.18,494.49 619.73,494.52 620.28,494.55 620.83,494.57 621.38,494.60 621.93,494.63 622.48,494.66 623.02,494.69 623.57,494.72 624.12,494.75 624.67,494.78 625.22,494.81 625.77,494.84 626.32,494.87 626.87,494.90 627.42,494.93 627.97,494.95 628.52,494.98 629.07,495.01 629.62,495.04 630.16,495.07 630.71,495.10 631.26,495.13 631.81,495.16 632.36,495.19 632.91,495.22 633.46,495.24 634.01,495.27 634.56,495.30 635.11,495.33 635.66,495.36 636.21,495.39 636.75,495.42 637.30,495.45 637.85,495.48 638.40,495.50 638.95,495.53 639.50,495.56" fill="none" stroke="#1f77b4" stroke-width="2.0" stroke-linejoin="round"/>
<polyline points="573.60,539.10 574.15,531.72 574.70,525.56 575.25,520.41 575.80,516.11 576.35,512.52 576.89,509.52 577.44,507.01 577.99,504.92 578.54,503.17 579.09,501.71 579.64,500.49 580.19,499.47 580.74,498.62 581.29,497.91 581.84,497.31 582.39,496.82 582.94,496.40 583.49,496.06 584.03,495.77 584.58,495.53 585.13,495.33 585.68,495.16 586.23,495.02 586.78,494.90 587.33,494.80 587.88,494.72 588.43,494.65 588.98,494.59 589.53,494.55 590.08,494.51 590.62,494.47 591.17,494.45 591.72,494.42 592.27,494.40 592.82,494.39 593.37,494.37 593.92,494.36 594.47,494.35 595.02,494.34 595.57,494.34 596.12,494.33 596.66,494.33 597.21,494.32 597.76,494.32 598.31,494.32 598.86,494.32 599.41,494.31 599.96,494.31 600.51,494.31 601.06,494.31 601.61,494.31 602.16,494.31 602.71,494.31 603.25,494.31 603.80,494.31 604.35,494.31 604.90,494.31 605.45,494.31 606.00,494.31 606.55,494.30 607.10,494.33 607.65,494.36 608.20,494.39 608.75,494.42 609.30,494.45 609.85,494.48 610.39,494.51 610.94,494.54 611.49,494.57 612.04,494.60 612.59,494.63 613.14,494.66 613.69,494.69 614.24,494.72 614.79,494.75 615.34,494.78 615.89,494.81 616.44,494.84 616.98,494.87 617.53,494.90 618.08,494.93 618.63,494.96 619.18,494.99 619.73,495.02 620.28,495.05 620.83,495.07 621.38,495.10 621.93,495.13 622.48,495.16 623.02,495.19 623.57,495.22 624.12,495.25 624.67,495.28 625.22,495.31 625.77,495.34 626.32,495.37 626.87,495.40 627.42,495.43 627.97,495.45 628.52,495.48 629.07,495.51 629.62,495.54 630.16,495.57 630.71,495.60 631.26,495.63 631.81,495.66 632.36,495.69 632.91,495.72 633.46,495.74 634.01,495.77 634.56,495.80 635.11,495.83 635.66,495.86 636.21,495.89 636.75,495.92 637.30,495.95 637.85,495.98 638.40,496.00 638.95,496.03 639.50,496.06" fill="none" stroke="#111" stroke-width="0.9" stroke-linejoin="round"/>
<line x1="573.60" y1="485.30" x2="573.60" y2="539.20" stroke="#000" stroke-width="1.3" />
<line x1="573.00" y1="538.60" x2="639.50" y2="538.60" stroke="#000" stroke-width="1.3" />
<line x1="568.80" y1="538.60" x2="573.60" y2="538.60" stroke="#000" stroke-width="1.1" />
<text x="563.6" y="541.5" font-size="8.0" text-anchor="end" fill="#111" >0.0</text>
<line x1="568.80" y1="521.03" x2="573.60" y2="521.03" stroke="#000" stroke-width="1.1" />
<text x="563.6" y="523.9333333333333" font-size="8.0" text-anchor="end" fill="#111" >0.2</text>
<line x1="568.80" y1="503.47" x2="573.60" y2="503.47" stroke="#000" stroke-width="1.1" />
<text x="563.6" y="506.3666666666666" font-size="8.0" text-anchor="end" fill="#111" >0.4</text>
<line x1="568.80" y1="485.90" x2="573.60" y2="485.90" stroke="#000" stroke-width="1.1" />
<text x="563.6" y="488.79999999999995" font-size="8.0" text-anchor="end" fill="#111" >0.6</text>
<line x1="573.60" y1="538.60" x2="573.60" y2="543.20" stroke="#000" stroke-width="1.1" />
<text x="573.6" y="553.8000000000001" font-size="8.0" text-anchor="middle" fill="#111" >0</text>
<line x1="606.55" y1="538.60" x2="606.55" y2="543.20" stroke="#000" stroke-width="1.1" />
<text x="606.55" y="553.8000000000001" font-size="8.0" text-anchor="middle" fill="#111" >180</text>
<line x1="639.50" y1="538.60" x2="639.50" y2="543.20" stroke="#000" stroke-width="1.1" />
<text x="639.5" y="553.8000000000001" font-size="8.0" text-anchor="middle" fill="#111" >360</text>
<text x="606.55" y="566.9" font-size="8.2" text-anchor="middle" fill="#111" >Time (s)</text>
<text transform="translate(546.3000000000001,512.25) rotate(-90)" font-size="8.2" text-anchor="middle" fill="#111">Response (nm)</text>
<line x1="644.60" y1="486.10" x2="651.00" y2="486.10" stroke="#1f77b4" stroke-width="1.6" />
<text x="652.9" y="488.8" font-size="7.8" letter-spacing="0.32" fill="#3c3c3c">5.0×10<tspan font-size="5.6" dy="-3.1" letter-spacing="0.1">−7</tspan></text>
<line x1="644.60" y1="496.50" x2="651.00" y2="496.50" stroke="#ff7f0e" stroke-width="1.6" />
<text x="652.9" y="499.2" font-size="7.8" letter-spacing="0.32" fill="#3c3c3c">2.5×10<tspan font-size="5.6" dy="-3.1" letter-spacing="0.1">−7</tspan></text>
<line x1="644.60" y1="506.90" x2="651.00" y2="506.90" stroke="#2ca02c" stroke-width="1.6" />
<text x="652.9" y="509.6" font-size="7.8" letter-spacing="0.32" fill="#3c3c3c">1.2×10<tspan font-size="5.6" dy="-3.1" letter-spacing="0.1">−7</tspan></text>
<line x1="644.60" y1="517.30" x2="651.00" y2="517.30" stroke="#d62728" stroke-width="1.6" />
<text x="652.9" y="520.0000000000001" font-size="7.8" letter-spacing="0.32" fill="#3c3c3c">6.2×10<tspan font-size="5.6" dy="-3.1" letter-spacing="0.1">−8</tspan></text>
<line x1="644.60" y1="527.70" x2="651.00" y2="527.70" stroke="#9467bd" stroke-width="1.6" />
<text x="652.9" y="530.4000000000001" font-size="7.8" letter-spacing="0.32" fill="#3c3c3c">3.1×10<tspan font-size="5.6" dy="-3.1" letter-spacing="0.1">−8</tspan></text>
<line x1="644.60" y1="538.10" x2="651.00" y2="538.10" stroke="#8c564b" stroke-width="1.6" />
<text x="652.9" y="540.8000000000001" font-size="7.8" letter-spacing="0.32" fill="#3c3c3c">1.6×10<tspan font-size="5.6" dy="-3.1" letter-spacing="0.1">−8</tspan></text>
<rect x="572.9" y="579.5" width="69.39999999999998" height="10.5" fill="#72f5b0"/>
<text x="607.5999999999999" y="587.6" font-size="9" text-anchor="middle">K<tspan font-size="6.5" dy="2">D</tspan><tspan dy="-2">: 1.5 µM</tspan></text>
<polyline points="573.60,649.60 574.15,649.42 574.70,649.28 575.25,649.15 575.80,649.05 576.35,648.97 576.89,648.89 577.44,648.83 577.99,648.78 578.54,648.74 579.09,648.71 579.64,648.68 580.19,648.65 580.74,648.63 581.29,648.62 581.84,648.60 582.39,648.59 582.94,648.58 583.49,648.57 584.03,648.57 584.58,648.56 585.13,648.55 585.68,648.55 586.23,648.55 586.78,648.54 587.33,648.54 587.88,648.54 588.43,648.54 588.98,648.54 589.53,648.54 590.08,648.53 590.62,648.53 591.17,648.53 591.72,648.53 592.27,648.53 592.82,648.53 593.37,648.53 593.92,648.53 594.47,648.53 595.02,648.53 595.57,648.53 596.12,648.53 596.66,648.53 597.21,648.53 597.76,648.53 598.31,648.53 598.86,648.53 599.41,648.53 599.96,648.53 600.51,648.53 601.06,648.53 601.61,648.53 602.16,648.53 602.71,648.53 603.25,648.53 603.80,648.53 604.35,648.53 604.90,648.53 605.45,648.53 606.00,648.53 606.55,648.53 607.10,648.88 607.65,649.20 608.20,649.49 608.75,649.74 609.30,649.97 609.85,650.18 610.39,650.36 610.94,650.53 611.49,650.68 612.04,650.82 612.59,650.94 613.14,651.05 613.69,651.14 614.24,651.23 614.79,651.31 615.34,651.38 615.89,651.44 616.44,651.50 616.98,651.55 617.53,651.60 618.08,651.64 618.63,651.68 619.18,651.71 619.73,651.74 620.28,651.77 620.83,651.79 621.38,651.81 621.93,651.83 622.48,651.85 623.02,651.87 623.57,651.88 624.12,651.89 624.67,651.91 625.22,651.92 625.77,651.93 626.32,651.93 626.87,651.94 627.42,651.95 627.97,651.95 628.52,651.96 629.07,651.96 629.62,651.97 630.16,651.97 630.71,651.98 631.26,651.98 631.81,651.98 632.36,651.98 632.91,651.99 633.46,651.99 634.01,651.99 634.56,651.99 635.11,651.99 635.66,652.00 636.21,652.00 636.75,652.00 637.30,652.00 637.85,652.00 638.40,652.00 638.95,652.00 639.50,652.00" fill="none" stroke="#d62728" stroke-width="2.0" stroke-linejoin="round"/>
<polyline points="573.60,650.10 574.15,649.92 574.70,649.78 575.25,649.65 575.80,649.55 576.35,649.47 576.89,649.39 577.44,649.33 577.99,649.28 578.54,649.24 579.09,649.21 579.64,649.18 580.19,649.15 580.74,649.13 581.29,649.12 581.84,649.10 582.39,649.09 582.94,649.08 583.49,649.07 584.03,649.07 584.58,649.06 585.13,649.05 585.68,649.05 586.23,649.05 586.78,649.04 587.33,649.04 587.88,649.04 588.43,649.04 588.98,649.04 589.53,649.04 590.08,649.03 590.62,649.03 591.17,649.03 591.72,649.03 592.27,649.03 592.82,649.03 593.37,649.03 593.92,649.03 594.47,649.03 595.02,649.03 595.57,649.03 596.12,649.03 596.66,649.03 597.21,649.03 597.76,649.03 598.31,649.03 598.86,649.03 599.41,649.03 599.96,649.03 600.51,649.03 601.06,649.03 601.61,649.03 602.16,649.03 602.71,649.03 603.25,649.03 603.80,649.03 604.35,649.03 604.90,649.03 605.45,649.03 606.00,649.03 606.55,649.03 607.10,649.38 607.65,649.70 608.20,649.99 608.75,650.24 609.30,650.47 609.85,650.68 610.39,650.86 610.94,651.03 611.49,651.18 612.04,651.32 612.59,651.44 613.14,651.55 613.69,651.64 614.24,651.73 614.79,651.81 615.34,651.88 615.89,651.94 616.44,652.00 616.98,652.05 617.53,652.10 618.08,652.14 618.63,652.18 619.18,652.21 619.73,652.24 620.28,652.27 620.83,652.29 621.38,652.31 621.93,652.33 622.48,652.35 623.02,652.37 623.57,652.38 624.12,652.39 624.67,652.41 625.22,652.42 625.77,652.43 626.32,652.43 626.87,652.44 627.42,652.45 627.97,652.45 628.52,652.46 629.07,652.46 629.62,652.47 630.16,652.47 630.71,652.48 631.26,652.48 631.81,652.48 632.36,652.48 632.91,652.49 633.46,652.49 634.01,652.49 634.56,652.49 635.11,652.49 635.66,652.50 636.21,652.50 636.75,652.50 637.30,652.50 637.85,652.50 638.40,652.50 638.95,652.50 639.50,652.50" fill="none" stroke="#111" stroke-width="0.9" stroke-linejoin="round"/>
<polyline points="573.60,649.60 574.15,649.05 574.70,648.59 575.25,648.20 575.80,647.88 576.35,647.62 576.89,647.39 577.44,647.20 577.99,647.05 578.54,646.92 579.09,646.81 579.64,646.72 580.19,646.64 580.74,646.58 581.29,646.53 581.84,646.48 582.39,646.44 582.94,646.41 583.49,646.39 584.03,646.37 584.58,646.35 585.13,646.33 585.68,646.32 586.23,646.31 586.78,646.30 587.33,646.29 587.88,646.29 588.43,646.28 588.98,646.28 589.53,646.27 590.08,646.27 590.62,646.27 591.17,646.27 591.72,646.27 592.27,646.26 592.82,646.26 593.37,646.26 593.92,646.26 594.47,646.26 595.02,646.26 595.57,646.26 596.12,646.26 596.66,646.26 597.21,646.26 597.76,646.26 598.31,646.26 598.86,646.26 599.41,646.26 599.96,646.26 600.51,646.26 601.06,646.26 601.61,646.26 602.16,646.26 602.71,646.26 603.25,646.26 603.80,646.26 604.35,646.26 604.90,646.26 605.45,646.26 606.00,646.26 606.55,646.26 607.10,646.66 607.65,647.03 608.20,647.36 608.75,647.65 609.30,647.92 609.85,648.16 610.39,648.37 610.94,648.57 611.49,648.74 612.04,648.89 612.59,649.03 613.14,649.16 613.69,649.27 614.24,649.37 614.79,649.46 615.34,649.55 615.89,649.62 616.44,649.69 616.98,649.74 617.53,649.80 618.08,649.85 618.63,649.89 619.18,649.93 619.73,649.96 620.28,649.99 620.83,650.02 621.38,650.05 621.93,650.07 622.48,650.09 623.02,650.11 623.57,650.12 624.12,650.14 624.67,650.15 625.22,650.16 625.77,650.17 626.32,650.18 626.87,650.19 627.42,650.20 627.97,650.21 628.52,650.21 629.07,650.22 629.62,650.22 630.16,650.23 630.71,650.23 631.26,650.24 631.81,650.24 632.36,650.24 632.91,650.25 633.46,650.25 634.01,650.25 634.56,650.25 635.11,650.25 635.66,650.26 636.21,650.26 636.75,650.26 637.30,650.26 637.85,650.26 638.40,650.26 638.95,650.26 639.50,650.26" fill="none" stroke="#2ca02c" stroke-width="2.0" stroke-linejoin="round"/>
<polyline points="573.60,650.10 574.15,649.55 574.70,649.09 575.25,648.70 575.80,648.38 576.35,648.12 576.89,647.89 577.44,647.70 577.99,647.55 578.54,647.42 579.09,647.31 579.64,647.22 580.19,647.14 580.74,647.08 581.29,647.03 581.84,646.98 582.39,646.94 582.94,646.91 583.49,646.89 584.03,646.87 584.58,646.85 585.13,646.83 585.68,646.82 586.23,646.81 586.78,646.80 587.33,646.79 587.88,646.79 588.43,646.78 588.98,646.78 589.53,646.77 590.08,646.77 590.62,646.77 591.17,646.77 591.72,646.77 592.27,646.76 592.82,646.76 593.37,646.76 593.92,646.76 594.47,646.76 595.02,646.76 595.57,646.76 596.12,646.76 596.66,646.76 597.21,646.76 597.76,646.76 598.31,646.76 598.86,646.76 599.41,646.76 599.96,646.76 600.51,646.76 601.06,646.76 601.61,646.76 602.16,646.76 602.71,646.76 603.25,646.76 603.80,646.76 604.35,646.76 604.90,646.76 605.45,646.76 606.00,646.76 606.55,646.76 607.10,647.16 607.65,647.53 608.20,647.86 608.75,648.15 609.30,648.42 609.85,648.66 610.39,648.87 610.94,649.07 611.49,649.24 612.04,649.39 612.59,649.53 613.14,649.66 613.69,649.77 614.24,649.87 614.79,649.96 615.34,650.05 615.89,650.12 616.44,650.19 616.98,650.24 617.53,650.30 618.08,650.35 618.63,650.39 619.18,650.43 619.73,650.46 620.28,650.49 620.83,650.52 621.38,650.55 621.93,650.57 622.48,650.59 623.02,650.61 623.57,650.62 624.12,650.64 624.67,650.65 625.22,650.66 625.77,650.67 626.32,650.68 626.87,650.69 627.42,650.70 627.97,650.71 628.52,650.71 629.07,650.72 629.62,650.72 630.16,650.73 630.71,650.73 631.26,650.74 631.81,650.74 632.36,650.74 632.91,650.75 633.46,650.75 634.01,650.75 634.56,650.75 635.11,650.75 635.66,650.76 636.21,650.76 636.75,650.76 637.30,650.76 637.85,650.76 638.40,650.76 638.95,650.76 639.50,650.76" fill="none" stroke="#111" stroke-width="0.9" stroke-linejoin="round"/>
<polyline points="573.60,649.60 574.15,648.72 574.70,647.98 575.25,647.37 575.80,646.85 576.35,646.43 576.89,646.07 577.44,645.77 577.99,645.52 578.54,645.31 579.09,645.13 579.64,644.99 580.19,644.87 580.74,644.77 581.29,644.68 581.84,644.61 582.39,644.55 582.94,644.50 583.49,644.46 584.03,644.43 584.58,644.40 585.13,644.37 585.68,644.35 586.23,644.34 586.78,644.32 587.33,644.31 587.88,644.30 588.43,644.29 588.98,644.28 589.53,644.28 590.08,644.27 590.62,644.27 591.17,644.27 591.72,644.26 592.27,644.26 592.82,644.26 593.37,644.26 593.92,644.26 594.47,644.26 595.02,644.25 595.57,644.25 596.12,644.25 596.66,644.25 597.21,644.25 597.76,644.25 598.31,644.25 598.86,644.25 599.41,644.25 599.96,644.25 600.51,644.25 601.06,644.25 601.61,644.25 602.16,644.25 602.71,644.25 603.25,644.25 603.80,644.25 604.35,644.25 604.90,644.25 605.45,644.25 606.00,644.25 606.55,644.25 607.10,644.83 607.65,645.36 608.20,645.83 608.75,646.25 609.30,646.64 609.85,646.98 610.39,647.28 610.94,647.56 611.49,647.81 612.04,648.03 612.59,648.23 613.14,648.41 613.69,648.57 614.24,648.72 614.79,648.85 615.34,648.97 615.89,649.07 616.44,649.17 616.98,649.25 617.53,649.33 618.08,649.40 618.63,649.46 619.18,649.51 619.73,649.56 620.28,649.61 620.83,649.65 621.38,649.68 621.93,649.71 622.48,649.74 623.02,649.77 623.57,649.79 624.12,649.81 624.67,649.83 625.22,649.85 625.77,649.87 626.32,649.88 626.87,649.89 627.42,649.90 627.97,649.91 628.52,649.92 629.07,649.93 629.62,649.94 630.16,649.94 630.71,649.95 631.26,649.95 631.81,649.96 632.36,649.96 632.91,649.97 633.46,649.97 634.01,649.97 634.56,649.98 635.11,649.98 635.66,649.98 636.21,649.98 636.75,649.99 637.30,649.99 637.85,649.99 638.40,649.99 638.95,649.99 639.50,649.99" fill="none" stroke="#ff7f0e" stroke-width="2.0" stroke-linejoin="round"/>
<polyline points="573.60,650.10 574.15,649.22 574.70,648.48 575.25,647.87 575.80,647.35 576.35,646.93 576.89,646.57 577.44,646.27 577.99,646.02 578.54,645.81 579.09,645.63 579.64,645.49 580.19,645.37 580.74,645.27 581.29,645.18 581.84,645.11 582.39,645.05 582.94,645.00 583.49,644.96 584.03,644.93 584.58,644.90 585.13,644.87 585.68,644.85 586.23,644.84 586.78,644.82 587.33,644.81 587.88,644.80 588.43,644.79 588.98,644.78 589.53,644.78 590.08,644.77 590.62,644.77 591.17,644.77 591.72,644.76 592.27,644.76 592.82,644.76 593.37,644.76 593.92,644.76 594.47,644.76 595.02,644.75 595.57,644.75 596.12,644.75 596.66,644.75 597.21,644.75 597.76,644.75 598.31,644.75 598.86,644.75 599.41,644.75 599.96,644.75 600.51,644.75 601.06,644.75 601.61,644.75 602.16,644.75 602.71,644.75 603.25,644.75 603.80,644.75 604.35,644.75 604.90,644.75 605.45,644.75 606.00,644.75 606.55,644.75 607.10,645.33 607.65,645.86 608.20,646.33 608.75,646.75 609.30,647.14 609.85,647.48 610.39,647.78 610.94,648.06 611.49,648.31 612.04,648.53 612.59,648.73 613.14,648.91 613.69,649.07 614.24,649.22 614.79,649.35 615.34,649.47 615.89,649.57 616.44,649.67 616.98,649.75 617.53,649.83 618.08,649.90 618.63,649.96 619.18,650.01 619.73,650.06 620.28,650.11 620.83,650.15 621.38,650.18 621.93,650.21 622.48,650.24 623.02,650.27 623.57,650.29 624.12,650.31 624.67,650.33 625.22,650.35 625.77,650.37 626.32,650.38 626.87,650.39 627.42,650.40 627.97,650.41 628.52,650.42 629.07,650.43 629.62,650.44 630.16,650.44 630.71,650.45 631.26,650.45 631.81,650.46 632.36,650.46 632.91,650.47 633.46,650.47 634.01,650.47 634.56,650.48 635.11,650.48 635.66,650.48 636.21,650.48 636.75,650.49 637.30,650.49 637.85,650.49 638.40,650.49 638.95,650.49 639.50,650.49" fill="none" stroke="#111" stroke-width="0.9" stroke-linejoin="round"/>
<polyline points="573.60,649.60 574.15,648.17 574.70,646.97 575.25,645.97 575.80,645.14 576.35,644.44 576.89,643.86 577.44,643.37 577.99,642.97 578.54,642.63 579.09,642.34 579.64,642.11 580.19,641.91 580.74,641.74 581.29,641.61 581.84,641.49 582.39,641.39 582.94,641.31 583.49,641.25 584.03,641.19 584.58,641.14 585.13,641.10 585.68,641.07 586.23,641.04 586.78,641.02 587.33,641.00 587.88,640.99 588.43,640.97 588.98,640.96 589.53,640.95 590.08,640.95 590.62,640.94 591.17,640.93 591.72,640.93 592.27,640.93 592.82,640.92 593.37,640.92 593.92,640.92 594.47,640.92 595.02,640.91 595.57,640.91 596.12,640.91 596.66,640.91 597.21,640.91 597.76,640.91 598.31,640.91 598.86,640.91 599.41,640.91 599.96,640.91 600.51,640.91 601.06,640.91 601.61,640.91 602.16,640.91 602.71,640.91 603.25,640.91 603.80,640.91 604.35,640.91 604.90,640.91 605.45,640.91 606.00,640.91 606.55,640.91 607.10,641.84 607.65,642.69 608.20,643.44 608.75,644.12 609.30,644.73 609.85,645.28 610.39,645.78 610.94,646.22 611.49,646.62 612.04,646.97 612.59,647.30 613.14,647.58 613.69,647.84 614.24,648.08 614.79,648.29 615.34,648.47 615.89,648.64 616.44,648.79 616.98,648.93 617.53,649.05 618.08,649.16 618.63,649.26 619.18,649.35 619.73,649.43 620.28,649.50 620.83,649.57 621.38,649.62 621.93,649.68 622.48,649.72 623.02,649.76 623.57,649.80 624.12,649.84 624.67,649.87 625.22,649.89 625.77,649.92 626.32,649.94 626.87,649.96 627.42,649.98 627.97,649.99 628.52,650.01 629.07,650.02 629.62,650.03 630.16,650.04 630.71,650.05 631.26,650.06 631.81,650.07 632.36,650.07 632.91,650.08 633.46,650.09 634.01,650.09 634.56,650.10 635.11,650.10 635.66,650.10 636.21,650.11 636.75,650.11 637.30,650.11 637.85,650.11 638.40,650.12 638.95,650.12 639.50,650.12" fill="none" stroke="#1f77b4" stroke-width="2.0" stroke-linejoin="round"/>
<polyline points="573.60,650.10 574.15,648.67 574.70,647.47 575.25,646.47 575.80,645.64 576.35,644.94 576.89,644.36 577.44,643.87 577.99,643.47 578.54,643.13 579.09,642.84 579.64,642.61 580.19,642.41 580.74,642.24 581.29,642.11 581.84,641.99 582.39,641.89 582.94,641.81 583.49,641.75 584.03,641.69 584.58,641.64 585.13,641.60 585.68,641.57 586.23,641.54 586.78,641.52 587.33,641.50 587.88,641.49 588.43,641.47 588.98,641.46 589.53,641.45 590.08,641.45 590.62,641.44 591.17,641.43 591.72,641.43 592.27,641.43 592.82,641.42 593.37,641.42 593.92,641.42 594.47,641.42 595.02,641.41 595.57,641.41 596.12,641.41 596.66,641.41 597.21,641.41 597.76,641.41 598.31,641.41 598.86,641.41 599.41,641.41 599.96,641.41 600.51,641.41 601.06,641.41 601.61,641.41 602.16,641.41 602.71,641.41 603.25,641.41 603.80,641.41 604.35,641.41 604.90,641.41 605.45,641.41 606.00,641.41 606.55,641.41 607.10,642.34 607.65,643.19 608.20,643.94 608.75,644.62 609.30,645.23 609.85,645.78 610.39,646.28 610.94,646.72 611.49,647.12 612.04,647.47 612.59,647.80 613.14,648.08 613.69,648.34 614.24,648.58 614.79,648.79 615.34,648.97 615.89,649.14 616.44,649.29 616.98,649.43 617.53,649.55 618.08,649.66 618.63,649.76 619.18,649.85 619.73,649.93 620.28,650.00 620.83,650.07 621.38,650.12 621.93,650.18 622.48,650.22 623.02,650.26 623.57,650.30 624.12,650.34 624.67,650.37 625.22,650.39 625.77,650.42 626.32,650.44 626.87,650.46 627.42,650.48 627.97,650.49 628.52,650.51 629.07,650.52 629.62,650.53 630.16,650.54 630.71,650.55 631.26,650.56 631.81,650.57 632.36,650.57 632.91,650.58 633.46,650.59 634.01,650.59 634.56,650.60 635.11,650.60 635.66,650.60 636.21,650.61 636.75,650.61 637.30,650.61 637.85,650.61 638.40,650.62 638.95,650.62 639.50,650.62" fill="none" stroke="#111" stroke-width="0.9" stroke-linejoin="round"/>
<line x1="573.60" y1="595.50" x2="573.60" y2="650.20" stroke="#000" stroke-width="1.3" />
<line x1="573.00" y1="649.60" x2="639.50" y2="649.60" stroke="#000" stroke-width="1.3" />
<line x1="568.80" y1="649.60" x2="573.60" y2="649.60" stroke="#000" stroke-width="1.1" />
<text x="563.6" y="652.5" font-size="8.0" text-anchor="end" fill="#111" >0.0</text>
<line x1="568.80" y1="636.23" x2="573.60" y2="636.23" stroke="#000" stroke-width="1.1" />
<text x="563.6" y="639.125" font-size="8.0" text-anchor="end" fill="#111" >0.1</text>
<line x1="568.80" y1="622.85" x2="573.60" y2="622.85" stroke="#000" stroke-width="1.1" />
<text x="563.6" y="625.75" font-size="8.0" text-anchor="end" fill="#111" >0.2</text>
<line x1="568.80" y1="609.48" x2="573.60" y2="609.48" stroke="#000" stroke-width="1.1" />
<text x="563.6" y="612.375" font-size="8.0" text-anchor="end" fill="#111" >0.3</text>
<line x1="568.80" y1="596.10" x2="573.60" y2="596.10" stroke="#000" stroke-width="1.1" />
<text x="563.6" y="599.0" font-size="8.0" text-anchor="end" fill="#111" >0.4</text>
<line x1="573.60" y1="649.60" x2="573.60" y2="654.20" stroke="#000" stroke-width="1.1" />
<text x="573.6" y="664.8000000000001" font-size="8.0" text-anchor="middle" fill="#111" >0</text>
<line x1="606.55" y1="649.60" x2="606.55" y2="654.20" stroke="#000" stroke-width="1.1" />
<text x="606.55" y="664.8000000000001" font-size="8.0" text-anchor="middle" fill="#111" >180</text>
<line x1="639.50" y1="649.60" x2="639.50" y2="654.20" stroke="#000" stroke-width="1.1" />
<text x="639.5" y="664.8000000000001" font-size="8.0" text-anchor="middle" fill="#111" >360</text>
<text x="606.55" y="677.9" font-size="8.2" text-anchor="middle" fill="#111" >Time (s)</text>
<text transform="translate(546.3000000000001,622.85) rotate(-90)" font-size="8.2" text-anchor="middle" fill="#111">Response (nm)</text>
<line x1="644.60" y1="607.00" x2="651.00" y2="607.00" stroke="#1f77b4" stroke-width="1.6" />
<text x="652.9" y="609.7" font-size="7.8" letter-spacing="0.32" fill="#3c3c3c">5.0×10<tspan font-size="5.6" dy="-3.1" letter-spacing="0.1">−7</tspan></text>
<line x1="644.60" y1="617.55" x2="651.00" y2="617.55" stroke="#ff7f0e" stroke-width="1.6" />
<text x="652.9" y="620.25" font-size="7.8" letter-spacing="0.32" fill="#3c3c3c">2.5×10<tspan font-size="5.6" dy="-3.1" letter-spacing="0.1">−7</tspan></text>
<line x1="644.60" y1="628.10" x2="651.00" y2="628.10" stroke="#2ca02c" stroke-width="1.6" />
<text x="652.9" y="630.8000000000001" font-size="7.8" letter-spacing="0.32" fill="#3c3c3c">1.2×10<tspan font-size="5.6" dy="-3.1" letter-spacing="0.1">−7</tspan></text>
<line x1="644.60" y1="638.65" x2="651.00" y2="638.65" stroke="#d62728" stroke-width="1.6" />
<text x="652.9" y="641.35" font-size="7.8" letter-spacing="0.32" fill="#3c3c3c">6.2×10<tspan font-size="5.6" dy="-3.1" letter-spacing="0.1">−8</tspan></text>
</svg></body></html>
